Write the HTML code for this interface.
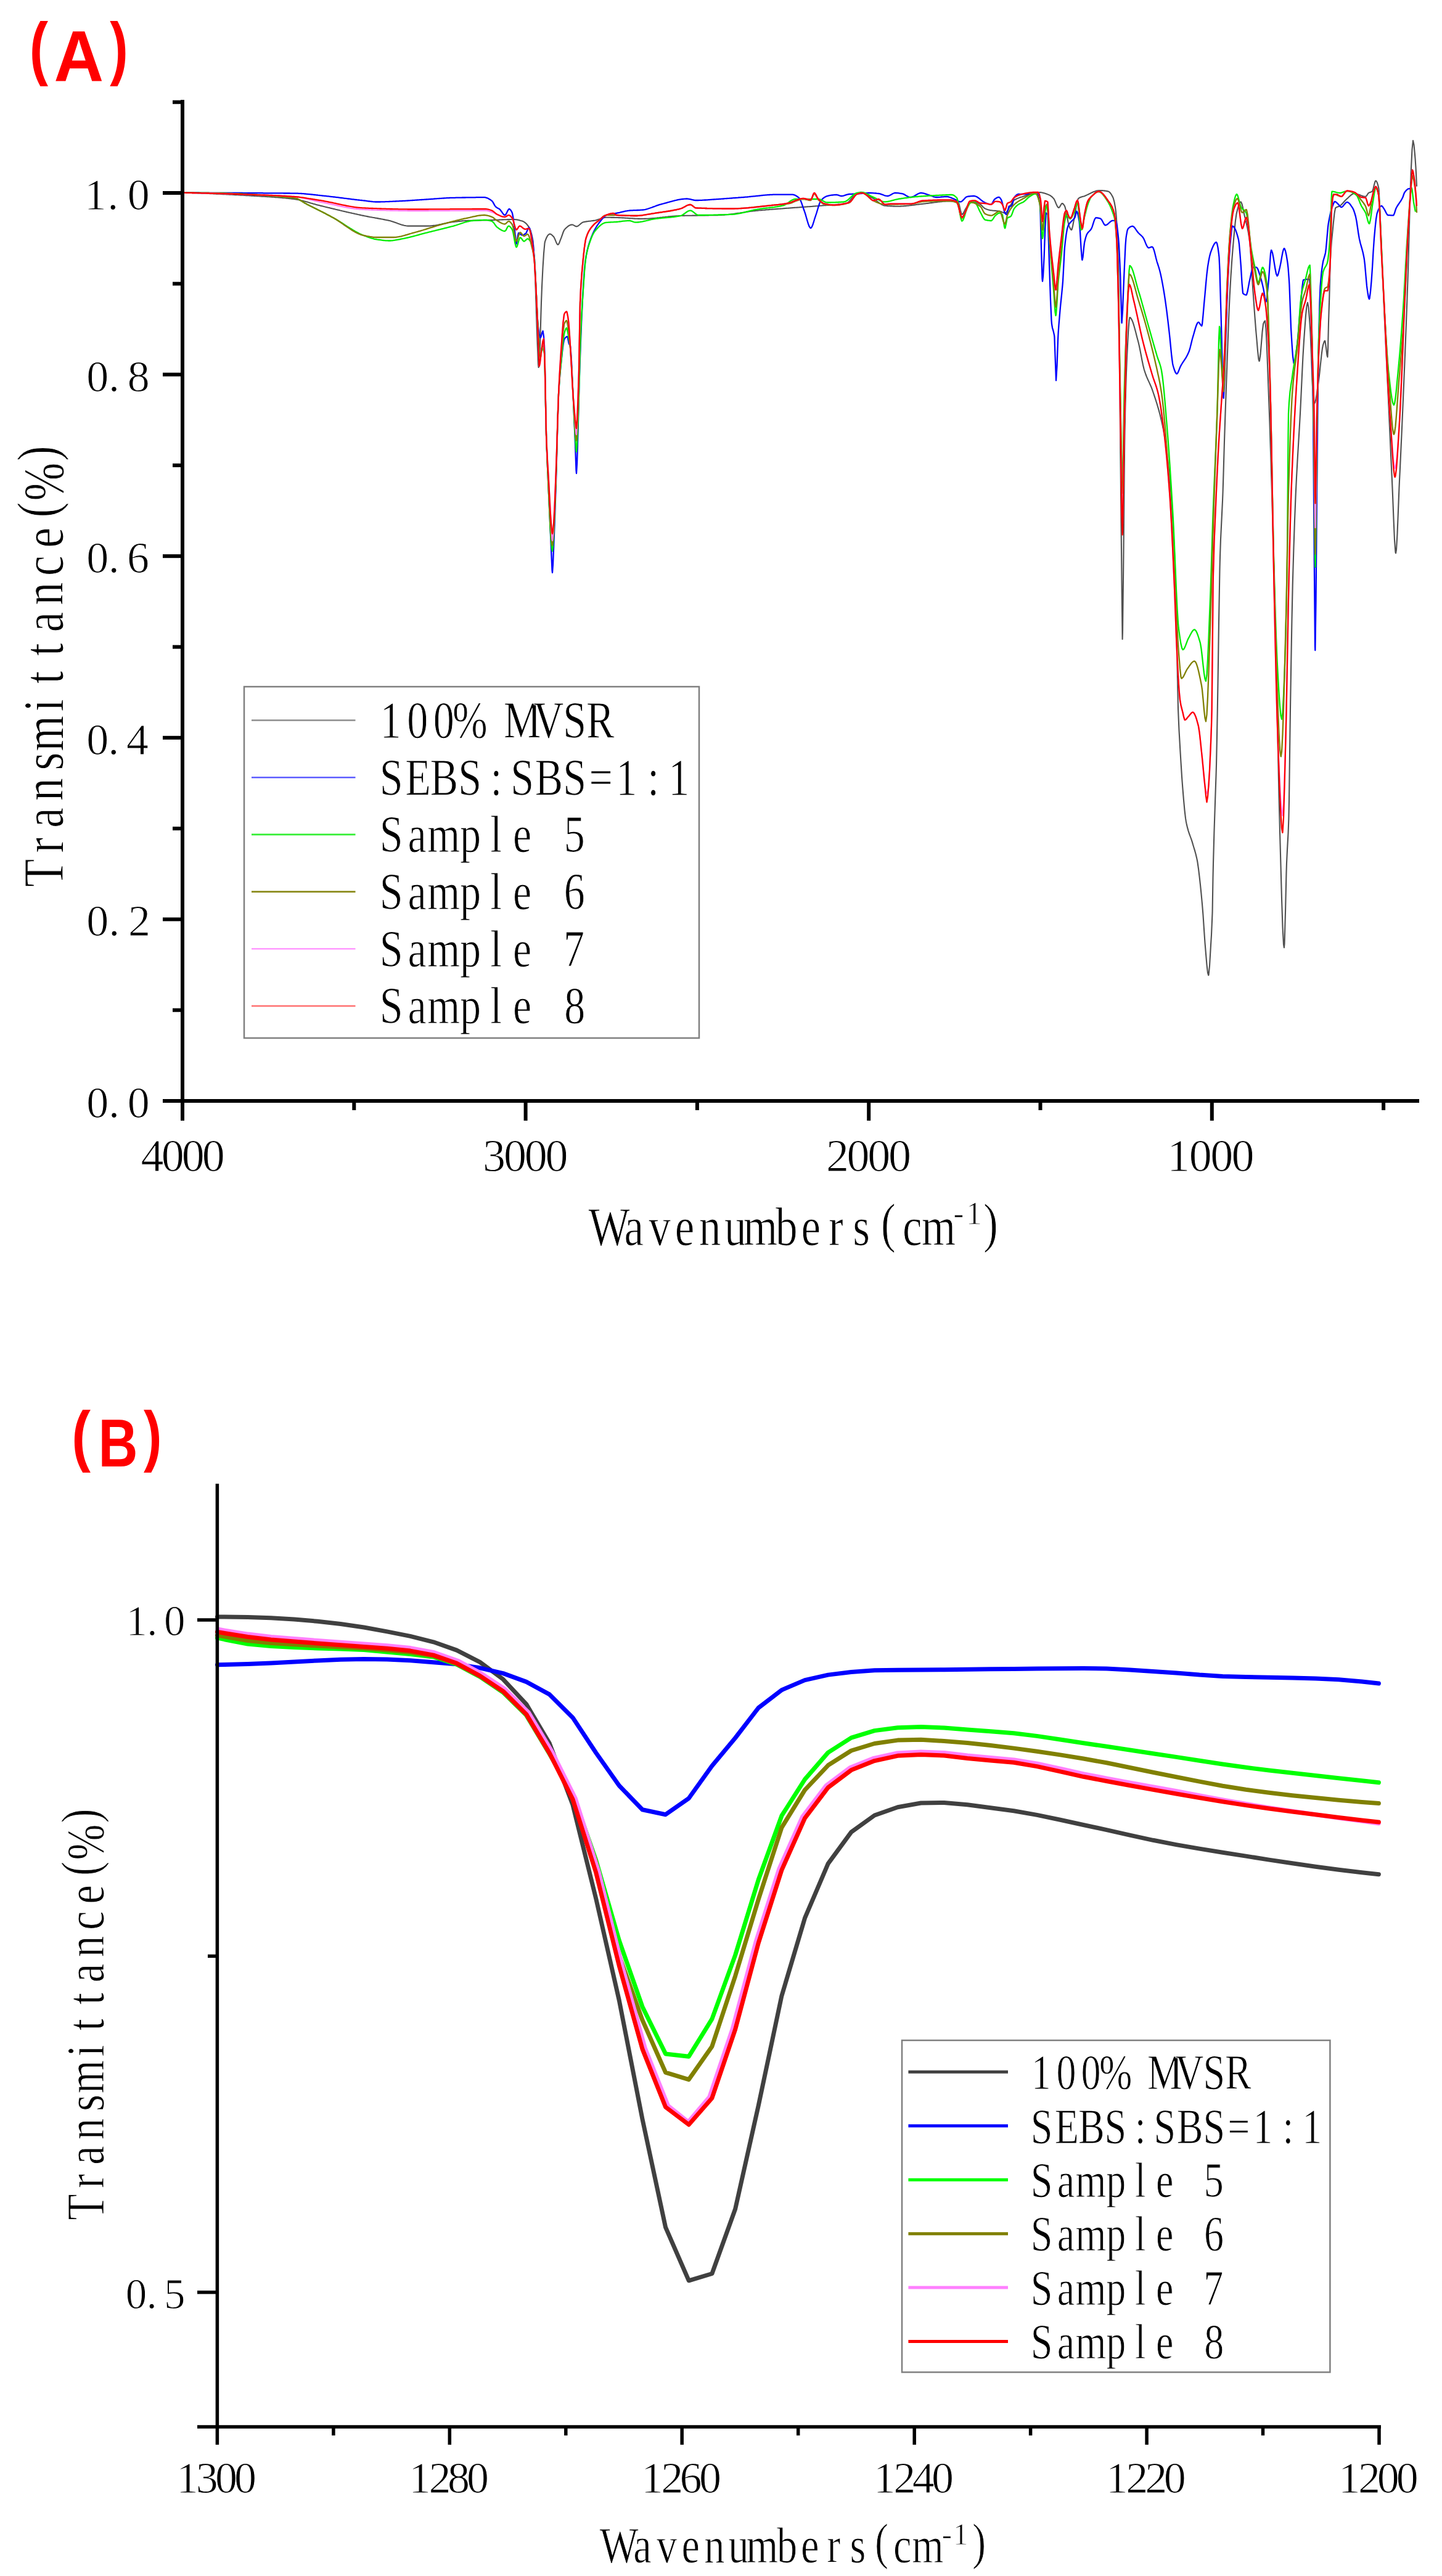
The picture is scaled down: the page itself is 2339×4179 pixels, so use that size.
<!DOCTYPE html>
<html><head><meta charset="utf-8"><title>FTIR spectra</title>
<style>html,body{margin:0;padding:0;background:#fff;}svg{display:block;}.t{font-family:"Liberation Serif", "Noto Serif CJK SC", serif;fill:#000;stroke:#fff;stroke-width:1.0px;paint-order:fill stroke;}.lbl{font-family:"Liberation Sans", "Noto Sans CJK SC", sans-serif;font-weight:bold;fill:#ff0000;}</style></head><body>
<svg xmlns="http://www.w3.org/2000/svg" width="2339" height="4179" viewBox="0 0 2339 4179">
<rect x="0" y="0" width="2339" height="4179" fill="#ffffff"/>
<g id="plotA">
<text class="lbl" font-size="114"><tspan x="47.7" y="115.8" textLength="30.3" lengthAdjust="spacingAndGlyphs">(</tspan><tspan x="87.5" y="131.6" font-size="117" textLength="80.6" lengthAdjust="spacingAndGlyphs">A</tspan><tspan x="178.3" y="115.8" textLength="29.5" lengthAdjust="spacingAndGlyphs">)</tspan></text>
<polyline fill="none" stroke="#505050" stroke-width="2.1" stroke-linejoin="round" points="297.0,312.7 298.5,312.7 300.0,312.8 301.5,312.8 303.0,312.8 304.5,312.9 306.0,312.9 307.5,313.0 309.0,313.0 310.5,313.0 312.0,313.1 313.5,313.1 315.0,313.2 316.5,313.2 318.0,313.3 319.5,313.3 321.0,313.4 322.5,313.4 324.0,313.5 325.5,313.5 327.0,313.6 328.5,313.6 330.0,313.7 331.5,313.7 333.0,313.8 334.5,313.9 336.0,313.9 337.5,314.0 339.0,314.0 340.5,314.1 342.0,314.2 343.5,314.2 345.0,314.3 346.5,314.4 348.0,314.4 349.5,314.5 351.0,314.6 352.5,314.6 354.0,314.7 355.5,314.8 357.0,314.8 358.5,314.9 360.0,315.0 361.5,315.1 363.0,315.1 364.5,315.2 366.0,315.3 367.5,315.4 369.0,315.4 370.5,315.5 372.0,315.6 373.5,315.7 375.0,315.7 376.5,315.8 378.0,315.9 379.5,316.0 381.0,316.1 382.5,316.1 384.0,316.2 385.5,316.3 387.0,316.4 388.5,316.5 390.0,316.6 391.5,316.6 393.0,316.7 394.5,316.8 396.0,316.9 397.5,317.0 399.0,317.1 400.5,317.1 402.0,317.2 403.5,317.3 405.0,317.4 406.5,317.5 408.0,317.6 409.5,317.7 411.0,317.8 412.5,317.9 414.0,317.9 415.0,318.0 415.5,318.0 417.0,318.1 418.5,318.2 420.0,318.3 421.5,318.4 423.0,318.5 424.5,318.6 426.0,318.7 427.5,318.7 429.0,318.8 430.5,318.9 432.0,319.0 433.5,319.1 435.0,319.2 436.5,319.3 438.0,319.4 439.5,319.5 441.0,319.6 442.5,319.7 444.0,319.8 445.5,319.9 447.0,320.1 448.5,320.2 450.0,320.3 451.5,320.4 453.0,320.5 454.5,320.7 456.0,320.8 457.5,320.9 459.0,321.1 460.5,321.2 462.0,321.3 463.5,321.5 465.0,321.6 466.5,321.8 468.0,322.0 469.5,322.1 471.0,322.3 472.5,322.5 474.0,322.6 475.5,322.8 477.0,323.0 478.5,323.2 480.0,323.4 481.5,323.7 483.0,324.0 484.5,324.3 486.0,324.6 487.5,324.9 489.0,325.3 490.5,325.6 492.0,326.0 493.5,326.4 495.0,326.8 496.5,327.2 498.0,327.6 499.5,328.1 501.0,328.5 502.5,328.9 504.0,329.4 505.5,329.8 507.0,330.2 508.5,330.7 510.0,331.1 511.5,331.5 513.0,331.9 514.5,332.4 516.0,332.7 517.5,333.1 519.0,333.5 520.5,333.9 522.0,334.2 523.5,334.6 525.0,335.0 526.5,335.3 528.0,335.7 529.5,336.0 531.0,336.4 532.5,336.8 534.0,337.1 535.5,337.5 537.0,337.9 538.5,338.2 540.0,338.6 541.5,338.9 543.0,339.3 544.5,339.7 546.0,340.0 547.5,340.4 549.0,340.7 550.5,341.1 552.0,341.5 553.5,341.8 555.0,342.2 556.5,342.5 558.0,342.9 559.5,343.2 561.0,343.6 562.5,343.9 564.0,344.3 565.5,344.6 567.0,345.0 568.5,345.3 570.0,345.6 571.5,346.0 573.0,346.3 574.5,346.6 576.0,347.0 577.5,347.3 579.0,347.6 580.5,348.0 582.0,348.3 583.5,348.6 585.0,348.9 586.5,349.3 588.0,349.6 589.5,349.9 590.0,350.0 591.0,350.2 592.5,350.5 594.0,350.8 595.5,351.1 597.0,351.4 598.5,351.7 600.0,352.0 601.5,352.2 603.0,352.5 604.5,352.8 606.0,353.0 607.5,353.3 609.0,353.6 610.5,353.8 612.0,354.1 613.5,354.4 615.0,354.7 616.5,354.9 618.0,355.2 619.5,355.5 621.0,355.8 622.5,356.1 624.0,356.4 625.5,356.7 627.0,357.0 628.5,357.3 630.0,357.6 631.5,358.0 631.6,358.0 633.0,358.3 634.5,358.8 636.0,359.2 637.5,359.7 639.0,360.2 640.5,360.7 642.0,361.3 643.5,361.8 645.0,362.4 646.5,362.9 648.0,363.5 649.5,364.0 651.0,364.5 652.5,364.9 654.0,365.3 655.5,365.7 657.0,366.0 658.5,366.3 660.0,366.5 661.5,366.6 662.8,366.6 663.0,366.6 664.5,366.6 666.0,366.6 667.5,366.6 669.0,366.6 670.5,366.6 672.0,366.6 673.5,366.6 675.0,366.6 676.5,366.6 678.0,366.6 679.5,366.6 681.0,366.6 682.5,366.6 684.0,366.6 685.5,366.6 687.0,366.6 688.5,366.6 690.0,366.6 691.5,366.6 693.0,366.6 694.0,366.6 694.5,366.6 696.0,366.6 697.5,366.5 699.0,366.4 700.5,366.3 702.0,366.1 703.5,365.9 705.0,365.7 706.5,365.5 708.0,365.2 709.5,365.0 711.0,364.7 712.5,364.4 714.0,364.1 715.5,363.8 717.0,363.4 718.5,363.1 720.0,362.8 721.5,362.5 723.0,362.2 724.5,361.9 726.0,361.6 727.5,361.3 729.0,361.0 730.5,360.7 732.0,360.5 733.5,360.3 735.0,360.1 735.6,360.0 736.5,359.9 738.0,359.7 739.5,359.5 741.0,359.4 742.5,359.2 744.0,359.0 745.5,358.9 747.0,358.7 748.5,358.6 750.0,358.4 751.5,358.3 753.0,358.2 754.5,358.1 756.0,358.0 756.4,358.0 757.5,358.0 759.0,357.9 760.5,357.8 762.0,357.8 763.5,357.7 765.0,357.7 766.5,357.7 768.0,357.6 769.5,357.6 771.0,357.6 772.5,357.5 774.0,357.5 775.5,357.5 777.0,357.4 778.5,357.4 780.0,357.4 781.5,357.3 783.0,357.3 784.5,357.3 786.0,357.3 787.5,357.2 789.0,357.2 790.5,357.2 792.0,357.1 793.5,357.1 795.0,357.1 796.5,357.0 798.0,357.0 799.5,357.0 801.0,356.9 802.5,356.9 804.0,356.8 805.5,356.8 807.0,356.7 808.5,356.7 810.0,356.6 811.5,356.5 813.0,356.5 814.5,356.4 816.0,356.4 817.5,356.3 819.0,356.3 820.5,356.2 822.0,356.2 823.5,356.1 825.0,356.1 826.5,356.1 828.0,356.0 829.5,356.0 831.0,356.0 832.5,356.0 833.4,356.0 834.0,356.0 835.5,356.1 837.0,356.2 838.5,356.4 840.0,356.7 841.5,357.0 843.0,357.4 844.5,357.9 846.0,358.3 847.5,358.8 848.0,359.0 849.0,359.4 850.5,360.3 852.0,361.4 853.5,362.8 855.0,364.4 856.5,366.4 858.0,368.6 859.5,371.4 861.0,375.3 862.5,380.7 864.0,388.0 864.6,391.5 865.5,400.8 867.0,428.1 868.0,450.0 868.5,462.6 870.0,510.5 871.0,540.0 871.5,553.6 873.0,591.1 873.6,596.0 874.5,589.1 876.0,560.0 877.5,507.5 878.0,491.0 879.0,465.3 880.5,434.6 880.6,433.0 882.0,411.2 883.5,394.5 884.0,392.0 885.0,389.1 886.5,385.5 888.0,382.7 889.5,380.8 891.0,379.8 892.0,379.6 892.5,379.6 894.0,380.3 895.5,381.5 897.0,383.0 898.0,384.0 898.5,384.6 900.0,387.6 901.5,391.4 903.0,394.8 904.5,396.8 905.0,397.0 906.0,396.3 907.5,393.2 909.0,389.1 910.0,386.6 910.5,385.4 912.0,381.2 913.5,376.8 915.0,373.5 915.6,372.6 916.5,371.6 918.0,370.1 919.5,368.7 921.0,367.4 922.5,366.3 924.0,365.5 925.5,364.9 927.0,364.6 928.0,364.5 928.5,364.5 930.0,365.1 931.5,365.9 933.0,366.8 934.5,367.4 935.0,367.4 936.0,367.3 937.5,366.6 939.0,365.5 940.5,364.3 942.0,362.9 943.5,361.7 945.0,360.8 946.0,360.4 946.5,360.3 948.0,359.9 949.5,359.7 951.0,359.4 952.5,359.2 954.0,359.0 955.5,358.8 957.0,358.7 958.5,358.5 960.0,358.3 961.5,358.1 963.0,357.9 964.5,357.7 965.6,357.5 966.0,357.4 967.5,357.1 969.0,356.6 970.5,356.1 972.0,355.6 973.5,355.0 975.0,354.5 976.5,354.0 978.0,353.5 979.5,353.2 981.0,352.9 982.5,352.8 983.0,352.8 984.0,352.8 985.5,352.8 987.0,352.8 988.5,352.8 990.0,352.8 991.5,352.9 993.0,352.9 994.5,352.9 996.0,352.9 997.5,353.0 999.0,353.0 1000.0,353.0 1000.5,353.0 1002.0,353.0 1003.5,353.1 1005.0,353.1 1006.5,353.2 1008.0,353.3 1009.5,353.4 1011.0,353.4 1012.5,353.5 1014.0,353.6 1015.5,353.7 1017.0,353.8 1018.5,353.9 1020.0,354.0 1021.5,354.1 1023.0,354.2 1024.5,354.3 1026.0,354.4 1027.5,354.5 1029.0,354.6 1030.5,354.7 1032.0,354.8 1033.5,354.8 1035.0,354.9 1036.5,354.9 1038.0,355.0 1039.5,355.0 1041.0,355.0 1041.6,355.0 1042.5,355.0 1044.0,355.0 1045.5,354.9 1047.0,354.9 1048.5,354.8 1050.0,354.8 1051.5,354.7 1053.0,354.6 1054.5,354.5 1056.0,354.4 1057.5,354.3 1059.0,354.1 1060.5,354.0 1062.0,353.9 1063.5,353.7 1065.0,353.6 1066.5,353.4 1068.0,353.2 1069.5,353.1 1071.0,352.9 1072.5,352.7 1074.0,352.6 1075.5,352.4 1077.0,352.2 1078.5,352.1 1080.0,351.9 1081.5,351.7 1083.0,351.6 1084.5,351.4 1086.0,351.3 1087.5,351.1 1089.0,351.0 1090.5,350.8 1092.0,350.7 1093.5,350.6 1095.0,350.5 1096.5,350.4 1098.0,350.3 1099.5,350.2 1101.0,350.1 1102.5,350.0 1104.0,350.0 1105.5,350.0 1107.0,349.9 1108.5,349.9 1110.0,349.9 1111.5,349.8 1113.0,349.8 1114.5,349.8 1116.0,349.7 1117.5,349.7 1119.0,349.7 1120.5,349.7 1122.0,349.7 1123.5,349.6 1125.0,349.6 1126.5,349.6 1128.0,349.6 1129.5,349.6 1131.0,349.6 1132.5,349.5 1134.0,349.5 1135.5,349.5 1137.0,349.5 1138.5,349.5 1140.0,349.5 1141.5,349.4 1143.0,349.4 1144.5,349.4 1146.0,349.4 1147.5,349.4 1149.0,349.4 1150.5,349.3 1152.0,349.3 1153.5,349.3 1155.0,349.3 1156.5,349.2 1158.0,349.2 1159.5,349.2 1161.0,349.1 1162.5,349.1 1164.0,349.1 1165.5,349.0 1166.4,349.0 1167.0,349.0 1168.5,348.9 1170.0,348.9 1171.5,348.8 1173.0,348.7 1174.5,348.6 1176.0,348.5 1177.5,348.3 1179.0,348.2 1180.5,348.0 1182.0,347.9 1183.5,347.7 1185.0,347.5 1186.5,347.3 1188.0,347.2 1189.5,347.0 1191.0,346.8 1192.5,346.5 1194.0,346.3 1195.5,346.1 1197.0,345.9 1198.5,345.7 1200.0,345.5 1201.5,345.2 1203.0,345.0 1204.5,344.8 1206.0,344.6 1207.5,344.3 1209.0,344.1 1210.5,343.9 1212.0,343.7 1213.5,343.5 1215.0,343.2 1216.5,343.0 1218.0,342.8 1219.5,342.6 1221.0,342.5 1222.5,342.3 1224.0,342.1 1225.5,341.9 1227.0,341.8 1228.5,341.6 1228.8,341.6 1230.0,341.5 1231.5,341.3 1233.0,341.2 1234.5,341.1 1236.0,340.9 1237.5,340.8 1239.0,340.7 1240.5,340.6 1242.0,340.4 1243.5,340.3 1245.0,340.2 1246.5,340.1 1248.0,339.9 1249.5,339.8 1251.0,339.7 1252.5,339.6 1254.0,339.5 1255.5,339.4 1257.0,339.2 1258.5,339.1 1260.0,339.0 1261.5,338.9 1263.0,338.8 1264.5,338.7 1266.0,338.6 1267.5,338.5 1269.0,338.4 1270.5,338.2 1272.0,338.1 1273.5,338.0 1275.0,337.9 1276.5,337.8 1278.0,337.7 1279.5,337.6 1281.0,337.5 1282.5,337.4 1284.0,337.3 1285.5,337.1 1287.0,337.0 1288.5,336.9 1290.0,336.8 1291.5,336.7 1293.0,336.6 1294.5,336.5 1296.0,336.4 1297.5,336.2 1299.0,336.1 1300.5,336.0 1302.0,335.9 1303.5,335.8 1305.0,335.7 1306.5,335.6 1308.0,335.5 1309.5,335.4 1311.0,335.3 1312.5,335.2 1314.0,335.1 1315.5,335.0 1317.0,334.9 1318.5,334.7 1320.0,334.6 1321.5,334.5 1323.0,334.4 1324.5,334.3 1326.0,334.2 1327.5,334.0 1329.0,333.9 1330.5,333.8 1331.6,333.7 1332.0,333.7 1333.5,333.5 1335.0,333.4 1336.5,333.3 1338.0,333.2 1339.5,333.1 1341.0,333.0 1342.5,332.9 1344.0,332.8 1345.5,332.7 1347.0,332.6 1348.5,332.5 1350.0,332.4 1351.5,332.3 1353.0,332.2 1354.5,332.0 1356.0,331.9 1357.5,331.8 1359.0,331.6 1360.5,331.4 1362.0,331.3 1363.5,331.1 1365.0,330.9 1366.5,330.7 1368.0,330.4 1369.5,330.2 1371.0,329.9 1372.5,329.6 1373.0,329.5 1374.0,329.2 1375.5,328.3 1377.0,327.0 1378.5,325.4 1380.0,323.6 1381.5,321.7 1383.0,319.9 1384.5,318.1 1386.0,316.5 1387.5,315.2 1389.0,314.3 1390.0,314.0 1390.5,313.9 1392.0,313.6 1393.5,313.4 1395.0,313.2 1396.5,313.0 1398.0,313.0 1399.5,313.1 1401.0,313.4 1402.5,313.9 1404.0,314.6 1405.5,315.4 1407.0,316.2 1408.5,317.2 1410.0,318.1 1411.5,319.1 1413.0,320.0 1414.5,320.8 1414.8,321.0 1416.0,321.7 1417.5,322.6 1419.0,323.7 1420.5,324.8 1422.0,326.0 1423.5,327.2 1425.0,328.4 1426.5,329.5 1428.0,330.5 1429.5,331.5 1431.0,332.3 1432.5,332.9 1434.0,333.4 1435.5,333.7 1435.6,333.7 1437.0,333.8 1438.5,333.9 1440.0,334.1 1441.5,334.2 1443.0,334.3 1444.5,334.4 1446.0,334.4 1447.5,334.5 1449.0,334.6 1450.5,334.6 1452.0,334.7 1453.5,334.7 1455.0,334.7 1456.4,334.7 1456.5,334.7 1458.0,334.7 1459.5,334.7 1461.0,334.6 1462.5,334.5 1464.0,334.5 1465.5,334.4 1467.0,334.2 1468.5,334.1 1470.0,334.0 1471.5,333.8 1473.0,333.7 1474.5,333.5 1476.0,333.3 1477.5,333.1 1479.0,332.9 1480.5,332.8 1482.0,332.6 1483.5,332.4 1485.0,332.2 1486.5,332.0 1488.0,331.8 1489.5,331.6 1491.0,331.4 1492.5,331.2 1494.0,331.0 1495.5,330.9 1497.0,330.7 1498.0,330.6 1498.5,330.5 1500.0,330.4 1501.5,330.2 1503.0,330.0 1504.5,329.9 1506.0,329.7 1507.5,329.5 1509.0,329.3 1510.5,329.1 1512.0,328.9 1513.5,328.7 1515.0,328.5 1516.5,328.3 1518.0,328.1 1519.5,327.9 1521.0,327.7 1522.5,327.5 1524.0,327.4 1525.5,327.2 1527.0,327.1 1528.5,326.9 1530.0,326.8 1531.5,326.7 1533.0,326.6 1534.5,326.5 1536.0,326.5 1537.5,326.4 1539.0,326.4 1539.6,326.4 1540.5,326.4 1542.0,326.4 1543.5,326.5 1545.0,326.5 1546.5,326.6 1548.0,326.7 1549.5,326.8 1551.0,327.0 1552.5,327.2 1554.0,327.4 1555.5,330.4 1557.0,336.9 1558.5,343.7 1560.0,347.8 1560.4,348.0 1561.5,347.4 1563.0,345.2 1564.5,342.2 1566.0,339.2 1566.7,338.0 1567.5,336.7 1569.0,334.0 1570.5,331.3 1572.0,328.8 1573.5,327.1 1575.0,326.4 1576.5,326.5 1578.0,326.7 1579.5,327.0 1581.0,327.5 1582.5,328.0 1584.0,328.7 1585.5,329.3 1587.0,330.1 1588.5,330.8 1590.0,331.6 1591.5,332.6 1593.0,334.1 1594.5,335.7 1596.0,337.1 1597.5,338.2 1598.0,338.5 1599.0,338.9 1600.5,339.5 1602.0,340.0 1603.5,340.4 1605.0,340.8 1606.5,341.1 1607.7,341.3 1608.0,341.3 1609.5,341.5 1611.0,341.7 1612.5,341.8 1614.0,341.9 1615.5,342.0 1617.0,342.2 1618.5,342.3 1620.0,342.5 1621.5,342.7 1621.6,342.7 1623.0,343.1 1624.5,343.7 1626.0,344.4 1627.5,345.0 1629.0,345.4 1630.0,345.5 1630.5,345.4 1632.0,344.6 1633.5,343.0 1635.0,340.8 1636.5,338.2 1638.0,335.3 1639.5,332.4 1641.0,329.7 1642.5,327.3 1644.0,325.5 1645.0,324.7 1645.5,324.4 1647.0,323.5 1648.5,322.8 1650.0,322.1 1651.5,321.4 1653.0,320.9 1654.5,320.3 1656.0,319.8 1657.5,319.4 1659.0,318.9 1660.5,318.5 1662.0,318.0 1663.0,317.7 1663.5,317.5 1665.0,317.1 1666.5,316.6 1668.0,316.0 1669.5,315.5 1671.0,315.0 1672.5,314.5 1674.0,314.0 1675.5,313.6 1677.0,313.2 1678.5,312.8 1680.0,312.5 1681.5,312.3 1683.0,312.1 1684.5,312.0 1685.4,312.0 1686.0,312.0 1687.5,312.1 1689.0,312.3 1690.5,312.5 1692.0,312.9 1693.5,313.3 1695.0,313.7 1696.5,314.2 1698.0,314.8 1699.5,315.4 1701.0,316.0 1702.0,316.4 1702.5,316.6 1704.0,317.5 1705.5,318.6 1707.0,319.9 1708.5,321.5 1709.0,322.0 1710.0,323.4 1711.5,326.6 1713.0,330.3 1714.5,333.7 1716.0,336.2 1717.3,337.0 1717.5,337.0 1719.0,335.5 1720.5,332.8 1722.0,330.5 1722.9,330.0 1723.5,330.1 1725.0,331.4 1726.5,333.5 1727.0,334.4 1728.0,337.4 1729.5,344.1 1729.8,345.5 1731.0,351.7 1732.5,360.2 1734.0,366.3 1735.5,369.9 1737.0,372.4 1738.0,373.0 1738.5,372.5 1740.0,367.0 1741.5,359.0 1742.0,356.6 1743.0,351.6 1744.5,342.7 1746.0,333.7 1747.5,326.3 1749.0,322.2 1749.2,322.0 1750.5,321.1 1752.0,320.3 1753.5,319.7 1755.0,319.2 1756.5,318.8 1758.0,318.4 1759.5,317.9 1760.0,317.7 1761.0,317.3 1762.5,316.6 1764.0,315.9 1765.5,315.2 1767.0,314.4 1768.5,313.7 1770.0,312.9 1771.5,312.2 1773.0,311.5 1774.5,310.9 1776.0,310.4 1777.5,309.9 1779.0,309.6 1780.0,309.4 1780.5,309.3 1782.0,309.1 1783.5,309.0 1783.7,309.0 1785.0,309.0 1786.5,309.1 1788.0,309.1 1789.5,309.3 1791.0,309.4 1792.5,309.6 1794.0,309.8 1795.5,310.1 1797.0,310.4 1797.5,310.5 1798.5,310.9 1800.0,312.0 1801.5,313.7 1803.0,316.0 1804.5,318.7 1805.0,319.7 1806.0,322.2 1807.5,327.8 1809.0,336.1 1809.7,341.0 1810.5,348.6 1812.0,372.1 1813.5,409.7 1814.2,432.6 1815.0,484.4 1816.5,647.8 1817.0,700.0 1818.0,797.0 1819.5,940.0 1820.6,1037.0 1821.0,1024.2 1822.0,940.0 1822.5,893.8 1824.0,735.2 1824.5,700.0 1825.5,654.0 1827.0,603.7 1828.0,580.0 1828.5,569.6 1830.0,540.1 1831.5,519.6 1832.5,515.0 1833.0,515.1 1834.5,516.4 1836.0,519.0 1837.5,522.7 1839.0,527.2 1840.5,532.5 1842.0,538.1 1843.5,544.0 1845.0,549.8 1846.3,554.6 1846.5,555.3 1848.0,561.7 1849.5,569.0 1851.0,576.9 1852.5,584.7 1854.0,592.0 1855.5,598.2 1856.0,600.0 1857.0,603.2 1858.5,607.5 1860.0,611.3 1861.5,614.8 1863.0,618.1 1864.5,621.4 1866.0,624.7 1867.5,628.2 1869.0,632.1 1870.0,635.0 1870.5,636.5 1872.0,640.9 1873.5,645.4 1875.0,650.0 1876.5,654.8 1878.0,659.7 1879.5,664.9 1881.0,670.5 1882.5,676.4 1884.0,682.7 1885.5,689.5 1887.0,696.8 1888.5,704.8 1890.0,713.7 1891.5,724.0 1893.0,735.7 1894.5,748.8 1896.0,763.4 1897.5,779.4 1899.0,797.0 1900.0,809.5 1900.5,816.1 1902.0,838.2 1903.5,864.5 1905.0,896.3 1906.5,934.6 1907.0,949.0 1908.0,991.8 1909.5,1080.3 1911.0,1150.0 1912.5,1185.0 1914.0,1211.3 1914.7,1223.0 1915.5,1236.5 1917.0,1260.1 1918.3,1277.7 1918.5,1280.1 1920.0,1298.1 1921.5,1314.4 1923.0,1327.4 1923.8,1332.4 1924.5,1335.9 1926.0,1342.4 1927.5,1347.8 1929.0,1352.3 1930.5,1356.5 1932.0,1360.5 1933.5,1364.9 1934.7,1368.9 1935.0,1370.0 1936.5,1375.0 1938.0,1379.9 1939.5,1385.2 1941.0,1391.4 1942.0,1396.2 1942.5,1399.0 1944.0,1409.5 1945.5,1421.9 1945.7,1423.6 1947.0,1435.3 1948.5,1450.1 1950.0,1466.5 1951.0,1478.3 1951.5,1484.8 1953.0,1507.6 1954.5,1529.4 1954.8,1533.0 1956.0,1547.4 1957.5,1565.2 1959.0,1578.3 1960.2,1582.2 1960.5,1581.7 1962.0,1566.8 1963.5,1541.5 1964.0,1533.0 1965.0,1516.8 1966.5,1481.6 1966.6,1478.3 1967.5,1423.6 1968.0,1401.2 1969.4,1350.6 1969.5,1347.3 1971.0,1302.0 1971.2,1296.0 1972.5,1258.4 1973.0,1241.2 1974.0,1193.8 1974.8,1150.0 1975.5,1108.7 1977.0,1008.8 1978.5,922.4 1979.0,902.7 1980.0,874.5 1981.5,843.6 1983.0,812.8 1983.5,800.0 1984.5,768.0 1986.0,716.0 1987.5,670.5 1989.0,627.6 1990.0,600.0 1990.5,586.3 1992.0,544.7 1993.5,506.0 1994.7,480.0 1995.0,474.4 1996.5,448.2 1998.0,425.5 1999.5,405.9 2000.0,400.0 2001.0,388.5 2002.5,372.1 2004.0,357.9 2005.5,347.4 2006.0,345.0 2007.0,340.9 2008.5,335.4 2010.0,330.9 2011.5,328.2 2012.6,327.5 2013.0,327.7 2014.5,331.0 2016.0,337.1 2017.5,344.5 2018.7,350.0 2019.0,351.3 2020.5,357.3 2022.0,363.5 2023.5,370.3 2025.0,378.3 2026.5,388.1 2027.0,391.8 2028.0,401.9 2029.5,423.6 2031.0,448.9 2032.5,472.9 2032.7,475.7 2034.0,494.0 2035.5,514.8 2037.0,534.1 2038.0,545.5 2038.5,551.1 2040.0,569.0 2041.5,582.7 2042.5,586.0 2043.0,585.2 2044.5,574.5 2046.0,556.8 2047.5,538.5 2049.0,526.1 2049.4,524.6 2050.5,522.1 2052.0,520.4 2053.5,533.1 2055.0,564.7 2056.5,605.3 2057.8,640.0 2058.0,645.0 2059.5,686.4 2061.0,732.9 2062.5,782.9 2063.0,800.0 2064.0,835.3 2065.5,891.6 2067.0,951.1 2068.5,1012.8 2070.0,1076.0 2071.5,1145.0 2073.0,1219.1 2074.5,1290.2 2076.0,1350.0 2077.5,1404.2 2079.0,1458.3 2080.5,1503.7 2082.0,1532.1 2082.9,1537.3 2083.5,1531.3 2085.0,1479.7 2086.5,1415.6 2087.0,1400.0 2088.0,1379.0 2089.5,1352.1 2090.4,1328.0 2091.0,1298.7 2092.5,1184.5 2093.0,1150.0 2094.0,1089.3 2095.5,1004.7 2096.7,950.0 2097.0,938.6 2098.5,887.3 2100.0,844.0 2101.5,806.9 2101.8,800.0 2103.0,774.7 2104.5,747.2 2106.0,722.1 2107.5,697.4 2109.0,670.8 2110.5,640.3 2112.0,607.9 2113.5,577.4 2115.0,552.8 2116.5,531.7 2118.0,511.6 2119.5,496.7 2121.0,490.8 2122.5,498.6 2124.0,517.1 2125.4,538.0 2125.5,539.5 2127.0,575.2 2128.5,617.7 2129.8,641.3 2130.0,643.1 2131.5,653.6 2132.0,654.6 2133.0,653.3 2134.5,647.2 2136.0,637.8 2137.5,627.2 2138.7,619.0 2139.0,617.0 2140.5,604.6 2142.0,590.2 2143.5,576.1 2145.0,564.8 2146.0,560.0 2146.5,558.3 2148.0,553.9 2149.0,552.8 2149.5,553.7 2151.0,564.2 2152.5,576.4 2153.4,579.3 2154.0,566.2 2155.0,523.3 2155.5,507.4 2156.4,479.0 2157.0,455.2 2158.0,420.0 2158.5,410.8 2160.0,390.5 2161.5,375.7 2161.6,374.7 2163.0,360.2 2164.5,346.1 2166.0,337.9 2166.3,337.4 2167.5,336.4 2169.0,335.7 2170.5,335.2 2172.0,334.7 2173.3,334.0 2173.5,333.9 2175.0,332.7 2176.5,331.3 2178.0,329.7 2179.5,328.0 2181.0,326.3 2182.5,324.7 2184.0,323.2 2185.0,322.3 2185.5,321.9 2187.0,320.5 2188.5,319.1 2190.0,317.7 2191.5,316.4 2193.0,315.3 2194.5,314.5 2196.0,314.0 2196.6,314.0 2197.5,314.0 2199.0,314.2 2200.5,314.5 2202.0,315.0 2203.5,315.5 2205.0,316.1 2206.5,316.6 2208.0,317.2 2209.5,317.7 2211.0,318.2 2212.5,318.5 2214.0,318.7 2215.2,318.8 2215.5,318.7 2217.0,317.2 2218.5,314.7 2219.9,313.0 2220.0,312.9 2221.5,312.3 2223.0,311.8 2224.5,311.3 2225.7,310.6 2226.0,310.3 2227.5,306.0 2229.0,299.7 2230.5,294.5 2231.5,293.2 2232.0,293.3 2233.5,295.5 2235.0,299.9 2236.2,304.8 2236.5,306.9 2238.0,333.5 2239.5,370.3 2239.7,374.7 2241.0,404.1 2242.5,440.4 2244.0,476.8 2245.0,500.0 2245.5,511.2 2247.0,544.0 2248.5,575.9 2250.0,607.4 2251.5,639.0 2253.0,671.0 2254.5,703.9 2256.0,737.1 2257.5,769.6 2258.0,780.0 2259.0,803.1 2260.5,841.8 2262.0,876.2 2263.5,896.0 2264.0,897.5 2265.0,891.7 2266.5,865.9 2268.0,828.8 2269.5,791.0 2270.0,780.0 2271.0,759.2 2272.5,727.2 2274.0,694.0 2275.0,671.0 2275.5,659.3 2277.0,623.7 2278.5,587.3 2280.0,549.5 2281.5,509.9 2283.0,468.0 2283.7,447.6 2284.5,421.5 2286.0,365.0 2287.5,311.1 2288.6,281.5 2289.0,272.9 2290.5,242.3 2292.0,228.0 2293.5,235.0 2295.0,250.9 2295.6,258.0 2296.5,271.5 2298.0,302.5"/>
<polyline fill="none" stroke="#0000ff" stroke-width="2.3" stroke-linejoin="round" points="297.0,312.7 298.5,312.7 300.0,312.7 301.5,312.7 303.0,312.7 304.5,312.7 306.0,312.7 307.5,312.7 309.0,312.7 310.5,312.7 312.0,312.7 313.5,312.7 315.0,312.7 316.5,312.7 318.0,312.7 319.5,312.7 321.0,312.7 322.5,312.7 324.0,312.8 325.5,312.8 327.0,312.8 328.5,312.8 330.0,312.8 331.5,312.8 333.0,312.8 334.5,312.8 336.0,312.8 337.5,312.8 339.0,312.8 340.5,312.8 342.0,312.8 343.5,312.8 345.0,312.8 346.5,312.8 348.0,312.8 349.5,312.8 351.0,312.8 352.5,312.8 354.0,312.9 355.5,312.9 357.0,312.9 358.5,312.9 360.0,312.9 361.5,312.9 363.0,312.9 364.5,312.9 366.0,312.9 367.5,312.9 369.0,312.9 370.5,312.9 372.0,312.9 373.5,312.9 375.0,313.0 376.5,313.0 378.0,313.0 379.5,313.0 381.0,313.0 382.5,313.0 384.0,313.0 385.5,313.0 387.0,313.0 388.5,313.0 390.0,313.0 391.5,313.0 393.0,313.0 394.5,313.1 396.0,313.1 397.5,313.1 399.0,313.1 400.5,313.1 402.0,313.1 403.5,313.1 405.0,313.1 406.5,313.1 408.0,313.1 409.5,313.1 411.0,313.2 412.5,313.2 414.0,313.2 415.5,313.2 417.0,313.2 418.5,313.2 420.0,313.2 421.5,313.2 423.0,313.2 424.5,313.2 426.0,313.2 427.5,313.3 429.0,313.3 430.5,313.3 432.0,313.3 433.5,313.3 435.0,313.3 435.6,313.3 436.5,313.3 438.0,313.3 439.5,313.3 441.0,313.3 442.5,313.3 444.0,313.3 445.5,313.4 447.0,313.4 448.5,313.4 450.0,313.4 451.5,313.4 453.0,313.4 454.5,313.4 456.0,313.4 457.5,313.4 459.0,313.4 460.5,313.5 462.0,313.5 463.5,313.5 465.0,313.5 466.5,313.5 468.0,313.5 469.5,313.5 471.0,313.6 472.5,313.6 474.0,313.6 475.5,313.6 477.0,313.6 478.5,313.7 480.0,313.7 481.0,313.7 481.5,313.7 483.0,313.7 484.5,313.8 486.0,313.9 487.5,313.9 489.0,314.0 490.5,314.1 492.0,314.2 493.5,314.4 495.0,314.5 496.5,314.6 498.0,314.8 499.5,314.9 501.0,315.1 502.5,315.2 504.0,315.4 505.5,315.5 507.0,315.7 508.5,315.9 510.0,316.0 511.5,316.2 513.0,316.4 514.5,316.5 516.0,316.7 517.5,316.8 519.0,317.0 520.5,317.1 522.0,317.3 523.5,317.5 525.0,317.6 526.5,317.8 528.0,317.9 529.5,318.1 531.0,318.3 532.5,318.4 534.0,318.6 535.5,318.8 537.0,319.0 538.5,319.1 540.0,319.3 541.5,319.5 543.0,319.7 544.5,319.9 546.0,320.1 547.5,320.2 549.0,320.4 550.5,320.6 552.0,320.8 553.5,321.0 555.0,321.2 556.5,321.4 558.0,321.6 559.5,321.8 561.0,321.9 562.5,322.1 564.0,322.3 565.5,322.5 567.0,322.7 568.5,322.9 570.0,323.1 571.5,323.3 573.0,323.4 574.5,323.6 576.0,323.8 577.5,324.0 579.0,324.2 580.5,324.3 582.0,324.5 583.5,324.7 585.0,324.8 586.5,325.0 588.0,325.2 589.5,325.3 590.0,325.4 591.0,325.5 592.5,325.7 594.0,325.9 595.5,326.1 597.0,326.3 598.5,326.5 600.0,326.7 601.5,326.9 603.0,327.0 604.5,327.2 606.0,327.3 607.5,327.4 609.0,327.5 610.5,327.5 610.8,327.5 612.0,327.5 613.5,327.5 615.0,327.5 616.5,327.5 618.0,327.4 619.5,327.4 621.0,327.4 622.5,327.3 624.0,327.3 625.5,327.2 627.0,327.2 628.5,327.1 630.0,327.1 631.5,327.0 633.0,326.9 634.5,326.9 636.0,326.8 637.5,326.7 639.0,326.7 640.5,326.6 642.0,326.5 643.5,326.4 645.0,326.4 646.5,326.3 648.0,326.2 649.5,326.1 651.0,326.1 652.4,326.0 652.5,326.0 654.0,325.9 655.5,325.8 657.0,325.8 658.5,325.7 660.0,325.6 661.5,325.5 663.0,325.4 664.5,325.3 666.0,325.2 667.5,325.1 669.0,325.0 670.5,324.9 672.0,324.8 673.5,324.7 675.0,324.6 676.5,324.5 678.0,324.4 679.5,324.3 681.0,324.2 682.5,324.1 684.0,324.0 685.5,323.9 687.0,323.8 688.5,323.7 690.0,323.6 691.5,323.5 693.0,323.4 694.0,323.3 694.5,323.3 696.0,323.2 697.5,323.1 699.0,323.0 700.5,322.9 702.0,322.8 703.5,322.6 705.0,322.5 706.5,322.4 708.0,322.3 709.5,322.2 711.0,322.1 712.5,322.0 714.0,321.9 715.5,321.8 717.0,321.7 718.5,321.6 720.0,321.5 721.5,321.4 723.0,321.3 724.5,321.2 726.0,321.1 727.5,321.1 729.0,321.0 730.5,320.9 732.0,320.9 733.5,320.9 735.0,320.8 735.6,320.8 736.5,320.8 738.0,320.8 739.5,320.7 741.0,320.7 742.5,320.7 744.0,320.6 745.5,320.6 747.0,320.6 748.5,320.6 750.0,320.5 751.5,320.5 753.0,320.5 754.5,320.5 756.0,320.4 757.5,320.4 759.0,320.4 760.5,320.4 762.0,320.4 763.5,320.3 765.0,320.3 766.5,320.3 768.0,320.3 769.5,320.3 771.0,320.3 772.5,320.2 774.0,320.2 775.5,320.2 777.0,320.2 778.5,320.2 780.0,320.2 781.5,320.2 783.0,320.2 784.5,320.2 785.5,320.2 786.0,320.2 787.5,320.4 789.0,320.8 790.5,321.3 792.0,322.0 793.5,322.9 795.0,323.8 796.5,324.9 798.0,326.0 799.5,327.9 801.0,330.6 802.5,333.4 804.0,335.4 805.5,336.5 807.0,337.4 808.5,338.2 810.0,339.1 810.5,339.5 811.5,340.5 813.0,342.5 814.5,344.7 816.0,346.8 817.5,348.4 819.0,349.0 820.5,347.8 822.0,345.1 823.5,341.9 825.0,339.6 826.0,339.0 826.5,339.1 828.0,340.3 829.5,342.6 831.0,345.8 832.5,353.7 834.0,366.6 835.0,375.0 835.5,379.5 837.0,393.7 837.6,395.7 838.5,392.6 840.0,381.7 841.0,378.0 841.5,378.1 843.0,378.9 844.5,380.2 846.0,381.2 847.0,381.5 847.5,381.5 849.0,381.1 850.5,380.3 852.0,379.3 853.0,378.5 853.5,377.9 855.0,374.6 856.5,370.8 858.0,369.0 859.5,371.4 861.0,377.1 862.0,381.5 862.5,383.8 864.0,392.7 865.5,404.6 867.0,420.0 868.5,447.2 870.0,480.0 871.5,511.2 872.5,526.0 873.0,530.3 874.5,541.4 876.0,547.5 876.5,548.0 877.5,546.4 879.0,540.7 880.5,537.0 880.6,537.0 882.0,546.0 883.0,560.0 883.5,573.8 885.0,655.7 886.0,704.0 886.5,719.3 888.0,756.6 889.5,788.8 890.0,800.0 891.0,823.2 892.5,857.5 894.0,890.0 895.5,924.8 896.0,929.0 897.0,915.1 898.0,890.0 898.5,878.4 900.0,839.2 901.5,795.3 902.0,780.0 903.0,744.3 904.5,684.3 906.0,640.0 907.5,616.7 909.0,599.6 910.0,590.0 910.5,585.3 912.0,571.1 913.5,559.0 915.0,551.2 915.5,550.0 916.5,548.6 918.0,546.9 919.5,546.1 920.0,546.0 921.0,548.6 922.5,556.4 923.0,558.0 924.0,559.4 925.0,561.0 925.5,563.7 927.0,585.6 928.5,618.4 929.5,640.0 930.0,650.3 931.5,684.4 933.0,720.0 934.5,762.7 935.0,768.0 936.0,751.5 937.0,720.0 937.5,702.3 939.0,640.0 940.5,592.9 941.7,560.0 942.0,552.2 943.5,515.0 944.8,488.0 945.0,484.4 946.5,458.4 948.0,436.9 949.0,427.0 949.5,423.3 951.0,413.8 952.5,406.4 954.0,400.4 955.0,397.0 955.5,395.4 957.0,390.9 958.5,386.7 960.0,382.9 961.5,379.3 963.0,376.0 964.5,373.0 966.0,370.3 967.5,367.7 969.0,365.4 970.5,363.3 970.7,363.0 972.0,361.3 973.5,359.3 975.0,357.3 976.5,355.5 978.0,353.8 979.5,352.3 981.0,350.9 982.5,349.7 984.0,348.8 985.5,348.2 986.0,348.0 987.0,347.7 988.5,347.4 990.0,347.2 991.5,346.9 993.0,346.7 994.5,346.6 996.0,346.4 997.5,346.2 999.0,346.0 1000.0,345.8 1000.5,345.7 1002.0,345.4 1003.5,345.1 1005.0,344.8 1006.5,344.4 1008.0,344.0 1009.5,343.7 1011.0,343.3 1012.5,343.0 1014.0,342.6 1015.5,342.3 1017.0,342.1 1018.5,341.8 1020.0,341.7 1020.8,341.6 1021.5,341.5 1023.0,341.4 1024.5,341.4 1026.0,341.3 1027.5,341.2 1029.0,341.2 1030.5,341.1 1032.0,341.1 1033.5,341.0 1035.0,341.0 1036.5,340.9 1038.0,340.8 1039.5,340.7 1041.0,340.6 1041.6,340.6 1042.5,340.5 1044.0,340.3 1045.5,340.1 1047.0,339.8 1048.5,339.4 1050.0,339.0 1051.5,338.5 1053.0,338.0 1054.5,337.5 1056.0,337.0 1057.5,336.5 1059.0,335.9 1060.5,335.3 1062.0,334.8 1063.5,334.2 1065.0,333.6 1066.5,333.1 1068.0,332.6 1069.5,332.1 1071.0,331.7 1072.5,331.3 1072.8,331.2 1074.0,330.9 1075.5,330.5 1077.0,330.1 1078.5,329.7 1080.0,329.3 1081.5,328.9 1083.0,328.4 1084.5,328.0 1086.0,327.6 1087.5,327.2 1089.0,326.8 1090.5,326.4 1092.0,326.0 1093.5,325.6 1095.0,325.2 1096.5,324.9 1098.0,324.5 1099.5,324.2 1101.0,323.9 1102.5,323.6 1104.0,323.4 1105.5,323.2 1107.0,323.0 1108.5,322.8 1110.0,322.7 1111.5,322.6 1113.0,322.5 1114.4,322.5 1114.5,322.5 1116.0,322.6 1117.5,322.8 1119.0,323.1 1120.5,323.4 1122.0,323.8 1123.5,324.2 1125.0,324.5 1126.5,324.8 1128.0,325.0 1129.0,325.0 1129.5,325.0 1131.0,325.0 1132.5,325.0 1134.0,324.9 1135.5,324.9 1137.0,324.8 1138.5,324.8 1140.0,324.7 1141.5,324.6 1143.0,324.5 1144.5,324.5 1146.0,324.4 1147.5,324.3 1149.0,324.2 1150.5,324.1 1152.0,323.9 1153.5,323.8 1155.0,323.7 1156.5,323.6 1158.0,323.5 1159.5,323.4 1161.0,323.3 1162.5,323.2 1164.0,323.1 1165.5,323.0 1166.4,322.9 1167.0,322.9 1168.5,322.8 1170.0,322.7 1171.5,322.6 1173.0,322.5 1174.5,322.4 1176.0,322.2 1177.5,322.1 1179.0,322.0 1180.5,321.9 1182.0,321.8 1183.5,321.7 1185.0,321.6 1186.5,321.5 1188.0,321.4 1189.5,321.2 1191.0,321.1 1192.5,321.0 1194.0,320.9 1195.5,320.8 1197.0,320.7 1198.5,320.5 1200.0,320.4 1201.5,320.3 1203.0,320.2 1204.5,320.1 1206.0,320.0 1207.5,319.8 1208.0,319.8 1209.0,319.7 1210.5,319.6 1212.0,319.5 1213.5,319.3 1215.0,319.2 1216.5,319.0 1218.0,318.9 1219.5,318.7 1221.0,318.6 1222.5,318.4 1224.0,318.3 1225.5,318.1 1227.0,317.9 1228.5,317.8 1230.0,317.6 1231.5,317.5 1233.0,317.3 1234.5,317.1 1236.0,317.0 1237.5,316.9 1239.0,316.7 1240.5,316.6 1242.0,316.4 1243.5,316.3 1245.0,316.2 1246.5,316.1 1248.0,316.0 1249.5,315.9 1251.0,315.8 1252.5,315.8 1254.0,315.7 1255.5,315.7 1257.0,315.6 1258.5,315.6 1260.0,315.6 1261.5,315.6 1263.0,315.6 1264.5,315.6 1266.0,315.6 1267.5,315.6 1269.0,315.6 1270.5,315.6 1272.0,315.6 1273.5,315.6 1275.0,315.6 1276.5,315.6 1278.0,315.6 1279.5,315.6 1281.0,315.6 1282.5,315.6 1284.0,315.6 1285.0,315.6 1285.5,315.6 1287.0,315.8 1288.5,316.3 1290.0,316.9 1291.5,317.7 1293.0,318.7 1294.5,319.8 1296.0,321.0 1297.5,323.0 1299.0,326.2 1300.5,330.2 1302.0,334.6 1303.5,339.0 1304.6,342.0 1305.0,343.1 1306.5,347.7 1308.0,353.0 1309.5,358.3 1311.0,363.2 1312.5,367.1 1314.0,369.5 1315.0,370.0 1315.5,369.9 1317.0,367.9 1318.5,364.2 1320.0,359.5 1321.5,354.5 1323.0,350.0 1324.5,345.5 1326.0,340.5 1327.5,335.4 1329.0,330.8 1330.5,327.1 1331.6,325.4 1332.0,324.9 1333.5,323.3 1335.0,321.9 1336.5,320.7 1338.0,319.7 1339.5,318.9 1341.0,318.3 1342.0,318.0 1342.5,317.9 1344.0,317.5 1345.5,317.2 1347.0,316.9 1348.5,316.7 1350.0,316.5 1351.5,316.3 1353.0,316.1 1354.5,316.1 1356.0,316.0 1356.6,316.0 1357.5,316.1 1359.0,316.4 1360.5,316.9 1362.0,317.4 1363.5,317.8 1365.0,318.0 1366.5,317.9 1368.0,317.6 1369.5,317.2 1371.0,316.7 1372.5,316.2 1374.0,315.7 1375.5,315.3 1377.0,315.0 1377.4,315.0 1378.5,314.9 1380.0,314.9 1381.5,314.8 1383.0,314.7 1384.5,314.7 1386.0,314.7 1387.5,314.6 1389.0,314.5 1390.0,314.5 1390.5,314.5 1392.0,314.4 1393.5,314.3 1395.0,314.1 1396.5,314.0 1398.0,313.9 1399.5,313.7 1401.0,313.6 1402.5,313.4 1404.0,313.3 1405.5,313.2 1407.0,313.1 1408.5,313.0 1410.0,313.0 1410.7,313.0 1411.5,313.0 1413.0,313.0 1414.5,313.1 1416.0,313.2 1417.5,313.3 1419.0,313.4 1420.5,313.5 1422.0,313.7 1423.5,313.8 1425.0,314.0 1426.5,314.2 1428.0,314.6 1429.5,315.1 1431.0,315.7 1432.5,316.2 1434.0,316.8 1435.5,317.3 1437.0,317.7 1438.5,317.9 1439.8,318.0 1440.0,318.0 1441.5,317.7 1443.0,317.1 1444.5,316.3 1446.0,315.4 1447.5,314.5 1449.0,313.8 1450.5,313.2 1452.0,313.0 1453.5,313.0 1455.0,313.1 1456.5,313.2 1458.0,313.4 1459.5,313.6 1461.0,313.8 1462.5,314.0 1462.7,314.0 1464.0,314.3 1465.5,314.9 1467.0,315.6 1468.5,316.5 1470.0,317.4 1471.5,318.2 1473.0,319.0 1474.5,319.6 1476.0,319.9 1477.0,320.0 1477.5,320.0 1479.0,319.7 1480.5,319.2 1482.0,318.5 1483.5,317.7 1485.0,316.8 1486.5,315.9 1488.0,315.0 1489.5,314.2 1491.0,313.6 1492.5,313.2 1494.0,313.0 1495.5,313.1 1497.0,313.3 1498.5,313.7 1500.0,314.1 1501.5,314.6 1503.0,315.1 1504.5,315.6 1506.0,316.0 1507.5,316.5 1509.0,317.0 1510.5,317.6 1512.0,318.2 1513.5,318.8 1515.0,319.3 1516.5,319.7 1518.0,320.0 1519.0,320.0 1519.5,320.0 1521.0,320.0 1522.5,319.9 1524.0,319.8 1525.5,319.7 1527.0,319.5 1528.5,319.4 1530.0,319.3 1531.5,319.1 1533.0,319.1 1534.5,319.0 1535.5,319.0 1536.0,319.0 1537.5,319.2 1539.0,319.5 1540.5,320.0 1542.0,320.5 1543.5,321.1 1545.0,321.8 1546.5,322.4 1548.0,323.0 1549.5,323.7 1551.0,324.5 1552.5,325.4 1554.0,326.2 1555.5,326.9 1557.0,327.3 1558.0,327.4 1558.5,327.4 1560.0,326.7 1561.5,325.4 1563.0,323.9 1564.5,322.2 1566.0,320.6 1567.5,319.5 1568.8,319.0 1569.0,319.0 1570.5,318.7 1572.0,318.5 1573.5,318.4 1575.0,318.2 1576.5,318.1 1578.0,318.0 1579.5,318.0 1580.0,318.0 1581.0,318.1 1582.5,318.5 1584.0,319.1 1585.5,320.0 1587.0,321.0 1588.5,322.2 1590.0,323.4 1591.5,324.6 1593.0,325.8 1594.5,326.9 1596.0,327.8 1597.5,328.6 1598.0,328.8 1599.0,329.2 1600.5,329.8 1602.0,330.4 1603.5,330.9 1605.0,331.3 1606.5,331.5 1607.7,331.6 1608.0,331.5 1609.5,329.9 1611.0,327.0 1612.5,324.2 1613.3,323.3 1614.0,322.8 1615.5,321.7 1617.0,320.7 1618.5,320.1 1620.0,319.8 1620.2,319.8 1621.5,320.4 1623.0,322.4 1624.4,324.7 1624.5,324.9 1626.0,329.8 1627.5,336.8 1629.0,343.1 1630.0,345.5 1630.5,346.2 1632.0,347.8 1632.7,348.0 1633.5,346.8 1635.0,340.5 1636.5,334.9 1637.0,334.4 1638.0,334.4 1639.5,334.4 1641.0,334.4 1642.5,330.5 1644.0,323.4 1645.0,320.5 1645.5,319.8 1647.0,318.0 1648.5,316.6 1650.0,315.5 1651.5,315.0 1652.0,315.0 1653.0,315.0 1654.5,315.0 1656.0,315.0 1657.5,315.0 1659.0,315.0 1660.5,315.0 1662.0,315.0 1663.0,315.0 1663.5,315.0 1665.0,314.9 1666.5,314.8 1668.0,314.6 1669.5,314.4 1671.0,314.2 1672.5,313.9 1674.0,313.8 1675.5,313.6 1677.0,313.6 1678.5,313.6 1680.0,313.6 1681.5,313.6 1682.6,313.6 1683.0,313.8 1684.5,317.8 1686.0,326.0 1686.8,331.6 1687.5,344.5 1689.0,402.2 1690.5,451.9 1691.0,456.4 1692.0,447.9 1693.5,418.7 1693.7,414.8 1695.0,376.8 1696.5,345.5 1698.0,346.2 1699.3,348.0 1699.5,349.2 1701.0,393.4 1702.0,428.7 1702.5,442.8 1704.0,486.7 1705.5,520.0 1706.0,525.8 1707.0,531.8 1708.5,536.8 1710.0,543.5 1710.4,546.6 1711.5,577.0 1713.0,617.3 1714.5,593.8 1716.0,551.8 1716.6,539.6 1717.5,526.8 1719.0,509.1 1720.0,498.0 1720.5,492.6 1722.0,478.3 1723.5,462.7 1724.0,456.4 1725.0,438.2 1726.5,407.6 1727.0,401.0 1728.0,391.7 1729.5,380.1 1731.0,371.5 1732.5,366.2 1732.6,366.0 1734.0,363.5 1735.5,361.7 1737.0,360.1 1738.0,359.0 1738.5,358.4 1740.0,357.0 1741.5,355.5 1743.0,353.6 1743.7,352.4 1744.5,349.6 1746.0,343.2 1746.4,342.7 1747.5,344.3 1749.0,350.3 1750.5,358.7 1750.6,359.3 1752.0,375.9 1753.5,401.9 1755.0,420.3 1755.5,421.8 1756.5,417.3 1758.0,402.0 1759.0,394.0 1759.5,391.6 1761.0,385.5 1762.5,381.1 1763.0,380.0 1764.0,378.3 1765.5,376.5 1767.0,375.0 1768.5,373.5 1770.0,371.5 1771.5,368.1 1773.0,363.4 1774.5,358.6 1776.0,354.9 1777.5,353.2 1777.6,353.2 1779.0,353.3 1780.5,353.5 1782.0,353.8 1783.5,354.2 1785.0,354.7 1785.3,354.8 1786.5,355.8 1788.0,358.3 1789.5,361.2 1791.0,363.9 1792.5,365.3 1792.9,365.4 1794.0,365.2 1795.5,364.5 1797.0,363.4 1798.5,362.0 1800.0,360.6 1801.5,359.3 1803.0,358.4 1804.5,357.8 1805.0,357.8 1806.0,357.8 1807.5,357.8 1809.0,357.8 1809.7,357.8 1810.5,359.1 1812.0,367.0 1813.5,379.9 1814.2,386.8 1815.0,397.5 1816.5,428.2 1817.3,447.8 1818.0,473.1 1819.5,523.7 1819.6,524.0 1821.0,503.6 1822.5,465.1 1822.6,463.0 1824.0,430.8 1825.5,398.4 1826.4,386.8 1827.0,382.4 1828.5,374.1 1829.5,371.5 1830.0,370.9 1831.5,369.4 1833.0,368.3 1834.5,367.5 1836.0,367.1 1837.0,367.0 1837.5,367.1 1839.0,367.9 1840.5,369.5 1842.0,371.6 1843.5,373.8 1845.0,376.0 1846.3,377.6 1846.5,377.8 1848.0,379.3 1849.5,380.6 1851.0,382.0 1852.5,383.5 1854.0,385.3 1855.5,387.9 1857.0,391.3 1858.5,395.1 1860.0,398.5 1861.5,401.0 1863.0,402.0 1864.5,401.8 1866.0,401.2 1867.5,400.7 1869.0,400.5 1870.5,402.1 1872.0,406.3 1873.5,412.0 1875.0,418.3 1876.5,424.0 1876.8,425.0 1878.0,428.7 1879.5,433.3 1881.0,438.5 1881.4,440.0 1882.5,444.6 1884.0,451.6 1885.5,459.4 1887.0,467.8 1887.5,470.7 1888.5,476.7 1890.0,486.6 1891.5,497.3 1892.0,501.0 1893.0,508.8 1894.5,521.2 1896.0,534.2 1896.6,539.3 1897.5,547.6 1899.0,563.1 1900.5,578.0 1902.0,589.4 1902.7,592.7 1903.5,595.5 1905.0,600.3 1906.5,604.0 1908.0,606.2 1908.8,606.5 1909.5,606.2 1911.0,603.8 1912.5,600.1 1914.0,596.2 1915.0,594.0 1915.5,593.1 1917.0,590.5 1918.5,588.1 1920.0,585.8 1921.5,583.6 1923.0,581.3 1924.5,578.8 1926.0,576.0 1927.5,572.8 1928.7,570.0 1929.0,569.2 1930.5,564.1 1932.0,557.9 1933.5,551.7 1934.8,547.0 1935.0,546.4 1936.5,541.2 1938.0,535.9 1939.5,530.9 1941.0,526.6 1942.5,523.7 1944.0,522.6 1945.5,523.8 1947.0,526.3 1948.5,528.3 1949.3,528.7 1950.0,526.5 1951.5,511.4 1953.0,493.6 1954.5,477.6 1956.0,460.6 1957.5,444.9 1959.0,432.6 1960.5,423.5 1962.0,415.9 1963.5,410.3 1963.7,409.7 1965.0,406.1 1966.5,402.2 1968.0,398.8 1969.5,396.0 1971.0,394.0 1972.5,393.0 1972.9,393.0 1974.0,394.6 1975.5,401.5 1977.0,412.7 1977.5,417.3 1978.5,438.2 1980.0,491.7 1980.5,508.8 1981.5,546.7 1983.0,609.7 1984.5,645.4 1984.7,646.0 1986.0,624.8 1987.5,574.9 1988.0,560.0 1989.0,531.4 1990.5,486.8 1992.0,450.0 1993.5,423.2 1995.0,401.4 1996.0,390.0 1996.5,384.8 1998.0,370.5 1999.0,366.7 1999.5,366.8 2001.0,367.7 2002.5,369.7 2004.0,372.7 2005.5,376.6 2007.0,381.4 2008.5,387.0 2009.0,389.0 2010.0,396.0 2011.5,413.7 2013.0,433.7 2014.5,459.0 2016.0,475.7 2017.5,477.1 2019.0,478.0 2020.5,478.4 2021.5,478.5 2022.0,478.1 2023.5,473.2 2025.0,465.1 2026.5,456.9 2027.0,454.7 2028.0,450.3 2029.5,443.0 2031.0,436.8 2032.5,433.7 2032.7,433.7 2034.0,433.7 2035.5,433.7 2037.0,433.7 2038.0,433.7 2038.5,433.9 2040.0,436.0 2041.5,439.9 2043.0,444.6 2044.0,447.7 2044.5,449.2 2046.0,454.5 2047.5,460.5 2049.0,466.9 2049.4,468.7 2050.5,474.9 2052.0,484.5 2053.5,489.6 2053.6,489.6 2055.0,483.6 2056.5,468.7 2057.8,454.7 2058.0,452.6 2059.5,431.3 2061.0,411.0 2062.0,405.8 2062.5,406.1 2064.0,410.3 2065.5,418.0 2067.0,427.4 2068.5,436.6 2070.0,444.0 2071.5,447.6 2071.8,447.7 2073.0,445.8 2074.5,440.1 2076.0,433.7 2077.5,426.6 2079.0,417.9 2080.5,409.8 2082.0,404.2 2083.0,403.0 2083.5,403.3 2085.0,406.9 2086.5,413.8 2088.0,422.8 2088.6,426.8 2089.5,434.7 2091.0,455.1 2091.4,461.7 2092.5,490.3 2094.0,531.6 2095.5,557.0 2097.0,578.0 2098.5,589.1 2098.9,589.7 2100.0,587.5 2101.5,579.2 2103.0,567.5 2104.0,559.5 2104.5,555.2 2106.0,538.9 2107.5,519.6 2109.0,500.8 2110.0,490.0 2110.5,484.9 2112.0,468.5 2113.5,456.2 2114.3,454.0 2115.0,453.8 2116.5,453.6 2118.0,453.3 2119.5,453.2 2121.0,453.1 2122.5,453.0 2124.0,453.0 2125.5,473.7 2127.0,522.2 2128.0,560.0 2128.5,581.1 2130.0,671.0 2131.5,869.5 2133.0,1047.9 2133.3,1055.0 2134.5,975.4 2136.0,800.0 2137.5,656.5 2138.7,567.5 2139.0,552.6 2140.5,490.8 2141.6,464.3 2142.0,458.6 2143.5,442.0 2145.0,430.7 2146.0,425.0 2146.5,422.6 2148.0,417.6 2149.5,412.4 2150.0,410.0 2151.0,402.2 2152.5,385.1 2154.0,368.4 2154.7,363.0 2155.5,358.3 2157.0,350.6 2158.5,344.1 2160.0,338.7 2161.5,334.3 2161.6,334.0 2163.0,330.1 2164.5,327.2 2165.0,327.0 2166.0,327.2 2167.5,328.2 2169.0,329.6 2170.5,331.1 2171.0,331.6 2172.0,332.7 2173.5,334.7 2175.0,336.0 2175.6,336.2 2176.5,336.0 2178.0,334.9 2179.5,333.1 2181.0,331.2 2182.5,329.4 2184.0,328.3 2185.0,328.0 2185.5,328.0 2187.0,328.6 2188.5,329.8 2190.0,331.5 2191.5,333.6 2193.0,335.8 2194.0,337.4 2194.5,338.3 2196.0,341.6 2197.5,346.1 2199.0,351.4 2200.5,359.0 2202.0,369.0 2203.5,379.3 2204.7,386.3 2205.0,387.8 2206.5,394.2 2208.0,399.6 2209.5,404.9 2211.0,410.8 2212.5,418.3 2213.0,421.3 2214.0,429.8 2215.5,447.4 2217.0,463.9 2217.5,467.8 2218.5,474.7 2220.0,483.2 2221.0,485.3 2221.5,484.3 2223.0,472.9 2224.5,456.2 2226.0,434.6 2227.5,408.2 2229.0,386.3 2230.5,370.0 2232.0,355.9 2233.5,346.6 2233.8,345.6 2235.0,342.3 2236.5,338.8 2238.0,336.1 2239.5,334.5 2240.8,334.0 2241.0,334.0 2242.5,335.2 2244.0,337.4 2245.5,339.7 2247.0,342.4 2248.5,345.5 2250.0,348.0 2251.3,349.0 2251.5,349.0 2253.0,349.1 2254.5,349.2 2256.0,349.3 2257.5,349.4 2259.0,349.4 2260.0,349.4 2260.5,349.1 2262.0,345.7 2263.5,340.7 2264.5,338.0 2265.0,337.0 2266.5,334.3 2268.0,332.0 2269.5,329.8 2271.0,327.7 2272.5,325.4 2274.0,322.8 2275.5,319.8 2275.6,319.6 2277.0,315.2 2278.0,312.7 2278.5,312.0 2280.0,310.0 2281.5,308.3 2283.0,307.1 2284.5,306.3 2285.9,306.0 2286.0,306.0 2287.5,306.3 2289.0,307.0"/>
<polyline fill="none" stroke="#00ee00" stroke-width="2.3" stroke-linejoin="round" points="297.0,312.7 298.5,312.7 300.0,312.7 301.5,312.7 303.0,312.7 304.5,312.7 306.0,312.7 307.5,312.7 309.0,312.7 310.5,312.7 312.0,312.7 313.5,312.7 315.0,312.8 316.5,312.8 318.0,312.8 319.5,312.8 321.0,312.8 322.5,312.8 324.0,312.8 325.5,312.8 327.0,312.9 328.5,312.9 330.0,312.9 331.5,312.9 333.0,312.9 334.5,313.0 336.0,313.0 337.5,313.0 339.0,313.0 340.5,313.1 342.0,313.1 343.5,313.1 345.0,313.1 346.5,313.2 348.0,313.2 349.5,313.2 351.0,313.3 352.5,313.3 354.0,313.3 355.5,313.4 357.0,313.4 358.5,313.5 360.0,313.5 361.5,313.5 363.0,313.6 364.5,313.6 366.0,313.7 367.5,313.7 369.0,313.8 370.5,313.8 372.0,313.9 373.5,313.9 375.0,314.0 376.5,314.0 378.0,314.1 379.5,314.1 381.0,314.2 382.5,314.2 384.0,314.3 385.5,314.4 387.0,314.4 388.5,314.5 390.0,314.5 391.5,314.6 393.0,314.7 394.5,314.8 396.0,314.8 397.5,314.9 399.0,315.0 400.5,315.0 402.0,315.1 403.5,315.2 405.0,315.3 406.5,315.4 408.0,315.4 409.5,315.5 411.0,315.6 412.5,315.7 414.0,315.8 415.5,315.9 417.0,316.0 418.5,316.1 420.0,316.2 421.5,316.3 423.0,316.3 424.5,316.4 426.0,316.5 427.5,316.7 429.0,316.8 430.5,316.9 432.0,317.0 433.5,317.1 435.0,317.2 436.5,317.3 438.0,317.4 439.5,317.5 441.0,317.6 442.5,317.8 444.0,317.9 445.5,318.0 447.0,318.1 448.5,318.3 450.0,318.4 451.5,318.5 453.0,318.6 454.5,318.8 456.0,318.9 457.5,319.1 459.0,319.2 460.5,319.3 462.0,319.5 463.5,319.6 465.0,319.8 466.5,319.9 468.0,320.1 469.5,320.2 471.0,320.4 472.5,320.5 474.0,320.7 475.5,320.8 477.0,321.0 478.5,321.2 480.0,321.6 481.5,322.1 483.0,322.8 484.5,323.5 486.0,324.3 487.5,325.2 489.0,326.1 490.5,327.0 492.0,327.9 493.5,328.9 495.0,329.8 496.5,330.6 498.0,331.4 499.5,332.2 501.0,332.9 502.5,333.7 504.0,334.4 505.5,335.2 507.0,335.9 508.5,336.7 510.0,337.4 511.5,338.2 513.0,338.9 514.5,339.7 516.0,340.5 517.5,341.2 519.0,342.0 520.5,342.8 522.0,343.5 523.5,344.3 525.0,345.1 526.5,345.8 528.0,346.6 529.5,347.4 531.0,348.2 532.5,349.0 534.0,349.8 535.5,350.6 537.0,351.4 538.5,352.2 540.0,353.0 541.5,353.8 543.0,354.7 544.5,355.5 546.0,356.4 547.5,357.3 549.0,358.3 550.5,359.2 552.0,360.1 553.5,361.1 555.0,362.0 556.5,363.0 558.0,364.0 559.5,365.0 561.0,365.9 562.5,366.9 564.0,367.9 565.5,368.8 567.0,369.8 568.5,370.7 570.0,371.6 571.5,372.5 573.0,373.4 574.5,374.3 576.0,375.2 577.5,376.0 579.0,376.9 580.5,377.6 582.0,378.4 583.5,379.2 585.0,379.9 586.5,380.5 588.0,381.2 589.5,381.8 590.0,382.0 591.0,382.4 592.5,383.0 594.0,383.5 595.5,384.1 597.0,384.6 598.5,385.2 600.0,385.7 601.5,386.2 603.0,386.6 604.5,387.0 606.0,387.4 607.5,387.8 609.0,388.1 610.5,388.4 610.8,388.4 612.0,388.6 613.5,388.8 615.0,389.0 616.5,389.2 618.0,389.4 619.5,389.6 621.0,389.8 622.5,390.0 624.0,390.1 625.5,390.3 627.0,390.4 628.5,390.4 630.0,390.5 631.5,390.5 631.6,390.5 633.0,390.5 634.5,390.4 636.0,390.3 637.5,390.1 639.0,389.9 640.5,389.7 642.0,389.4 643.5,389.1 645.0,388.9 646.5,388.6 648.0,388.3 649.5,388.0 651.0,387.7 652.4,387.4 652.5,387.4 654.0,387.1 655.5,386.8 657.0,386.5 658.5,386.2 660.0,385.8 661.5,385.5 663.0,385.2 664.5,384.8 666.0,384.4 667.5,384.0 669.0,383.7 670.5,383.3 672.0,382.9 673.5,382.5 675.0,382.1 676.5,381.7 678.0,381.3 679.5,380.9 681.0,380.4 682.5,380.0 684.0,379.6 685.5,379.2 687.0,378.8 688.5,378.4 690.0,378.0 691.5,377.6 693.0,377.3 694.0,377.0 694.5,376.9 696.0,376.5 697.5,376.1 699.0,375.8 700.5,375.4 702.0,375.0 703.5,374.6 705.0,374.3 706.5,373.9 708.0,373.5 709.5,373.2 711.0,372.8 712.5,372.4 714.0,372.1 715.5,371.7 717.0,371.3 718.5,371.0 720.0,370.6 721.5,370.2 723.0,369.8 724.5,369.5 726.0,369.1 727.5,368.7 729.0,368.3 730.5,367.9 732.0,367.5 733.5,367.1 735.0,366.8 735.6,366.6 736.5,366.4 738.0,365.9 739.5,365.5 741.0,365.0 742.5,364.5 744.0,364.0 745.5,363.5 747.0,363.0 748.5,362.5 750.0,362.0 751.5,361.5 753.0,361.0 754.5,360.5 756.0,360.1 757.5,359.7 759.0,359.3 760.5,359.0 762.0,358.7 763.5,358.4 765.0,358.2 766.5,358.0 766.8,358.0 768.0,357.9 769.5,357.8 771.0,357.7 772.5,357.6 774.0,357.5 775.5,357.4 777.0,357.3 778.5,357.2 780.0,357.2 781.5,357.1 783.0,357.1 784.5,357.0 786.0,357.0 787.5,357.0 787.6,357.0 789.0,357.0 790.5,357.2 792.0,357.4 793.5,357.7 795.0,358.1 796.5,358.5 798.0,359.0 799.5,360.0 801.0,361.7 802.5,363.8 804.0,366.0 805.5,367.8 806.4,368.6 807.0,369.0 808.5,370.1 810.0,371.2 811.5,372.2 813.0,373.1 814.5,373.9 816.0,374.5 817.5,374.9 819.0,375.0 820.5,373.7 822.0,370.8 823.5,367.9 825.0,366.6 826.5,367.1 828.0,368.5 829.5,370.4 831.0,372.8 832.5,378.0 834.0,386.5 835.5,395.0 837.0,400.4 837.6,401.0 838.5,400.1 840.0,395.8 841.5,390.2 843.0,386.0 843.8,385.3 844.5,385.5 846.0,387.1 847.5,389.3 849.0,391.1 850.0,391.5 850.5,391.4 852.0,390.4 853.5,388.9 855.0,387.7 856.0,387.4 856.5,387.5 858.0,388.4 859.5,390.2 860.4,391.5 861.0,392.5 862.5,396.4 864.0,402.3 865.5,410.4 866.7,418.6 867.0,421.4 868.5,447.6 870.0,480.0 871.5,511.0 872.5,530.0 873.0,538.9 874.5,566.5 876.0,580.0 877.5,572.5 879.0,565.0 880.5,566.1 882.0,569.5 883.0,573.0 883.5,581.9 885.0,657.0 886.0,704.0 886.5,719.0 888.0,756.8 889.5,789.2 890.0,800.0 891.0,822.9 892.5,856.6 894.0,880.0 895.5,892.7 896.0,894.0 897.0,885.9 898.0,870.0 898.5,861.3 900.0,826.3 901.5,784.3 902.0,770.0 903.0,737.2 904.5,681.8 906.0,640.0 907.5,617.3 909.0,600.4 910.0,590.0 910.5,584.6 912.0,568.0 913.5,552.9 915.0,542.2 915.5,540.0 916.5,536.6 918.0,532.9 919.0,532.0 919.5,532.6 921.0,539.3 922.0,545.0 922.5,547.7 924.0,556.9 925.0,565.0 925.5,570.3 927.0,593.0 928.5,621.1 929.5,640.0 930.0,649.7 931.5,682.2 933.0,710.0 934.5,730.7 935.0,733.0 936.0,721.8 937.0,700.0 937.5,687.6 939.0,640.0 940.5,586.9 942.0,540.0 943.5,509.3 945.0,484.8 946.0,470.0 946.5,462.6 948.0,441.0 949.5,423.9 950.0,420.0 951.0,414.0 952.5,406.8 954.0,401.2 955.0,398.0 955.5,396.4 957.0,392.0 958.5,387.9 960.0,384.1 961.5,380.8 963.0,378.0 964.5,375.6 965.0,375.0 966.0,373.8 967.5,372.0 969.0,370.4 970.5,368.8 972.0,367.3 973.5,365.9 975.0,364.7 976.5,363.6 978.0,362.7 979.5,362.0 981.0,361.4 982.5,361.1 983.0,361.0 984.0,360.9 985.5,360.8 987.0,360.7 988.5,360.6 990.0,360.5 991.5,360.4 993.0,360.4 994.5,360.3 996.0,360.2 997.5,360.2 999.0,360.1 1000.0,360.0 1000.5,360.0 1002.0,359.8 1003.5,359.7 1005.0,359.5 1006.5,359.3 1008.0,359.1 1009.5,358.9 1011.0,358.7 1012.5,358.6 1014.0,358.4 1015.5,358.3 1017.0,358.1 1018.5,358.1 1020.0,358.0 1020.8,358.0 1021.5,358.0 1023.0,358.3 1024.5,358.8 1026.0,359.4 1027.5,360.0 1029.0,360.4 1030.5,360.7 1031.0,360.7 1032.0,360.7 1033.5,360.6 1035.0,360.5 1036.5,360.4 1038.0,360.2 1039.5,359.9 1041.0,359.7 1042.5,359.4 1044.0,359.0 1045.5,358.7 1047.0,358.4 1048.5,358.0 1050.0,357.6 1051.5,357.3 1053.0,356.9 1054.5,356.5 1056.0,356.2 1057.5,355.9 1059.0,355.6 1060.5,355.3 1062.0,355.1 1062.4,355.0 1063.5,354.8 1065.0,354.6 1066.5,354.5 1068.0,354.3 1069.5,354.1 1071.0,354.0 1072.5,353.8 1074.0,353.7 1075.5,353.5 1077.0,353.4 1078.5,353.3 1080.0,353.2 1081.5,353.0 1083.0,352.9 1084.5,352.8 1086.0,352.6 1087.5,352.5 1089.0,352.3 1090.5,352.1 1092.0,352.0 1093.5,351.8 1095.0,351.6 1096.5,351.4 1098.0,351.1 1099.5,350.9 1101.0,350.6 1102.5,350.3 1104.0,350.0 1105.5,349.5 1107.0,348.8 1108.5,347.8 1110.0,346.7 1111.5,345.6 1113.0,344.5 1114.5,343.5 1116.0,342.6 1117.5,342.0 1119.0,341.6 1119.6,341.6 1120.5,341.7 1122.0,342.2 1123.5,343.1 1125.0,344.2 1126.5,345.5 1128.0,346.7 1129.5,347.7 1131.0,348.6 1132.5,349.0 1133.0,349.0 1134.0,349.0 1135.5,349.0 1137.0,349.0 1138.5,349.0 1140.0,349.0 1141.5,349.0 1143.0,349.0 1144.5,348.9 1146.0,348.9 1147.5,348.9 1149.0,348.9 1150.5,348.9 1152.0,348.8 1153.5,348.8 1155.0,348.8 1156.5,348.8 1158.0,348.7 1159.5,348.7 1161.0,348.7 1162.5,348.6 1164.0,348.6 1165.5,348.5 1167.0,348.5 1168.5,348.5 1170.0,348.4 1171.5,348.4 1173.0,348.3 1174.5,348.3 1176.0,348.2 1177.5,348.2 1179.0,348.1 1180.5,348.1 1182.0,348.0 1183.5,347.9 1185.0,347.9 1186.5,347.8 1187.0,347.8 1188.0,347.8 1189.5,347.6 1191.0,347.5 1192.5,347.3 1194.0,347.1 1195.5,346.9 1197.0,346.7 1198.5,346.4 1200.0,346.1 1201.5,345.8 1203.0,345.5 1204.5,345.1 1206.0,344.8 1207.5,344.4 1209.0,344.1 1210.5,343.7 1212.0,343.3 1213.5,342.9 1215.0,342.5 1216.5,342.2 1218.0,341.8 1219.5,341.4 1221.0,341.1 1222.5,340.7 1224.0,340.4 1225.5,340.1 1227.0,339.8 1228.5,339.6 1228.8,339.5 1230.0,339.3 1231.5,339.1 1233.0,338.8 1234.5,338.6 1236.0,338.4 1237.5,338.2 1239.0,338.0 1240.5,337.9 1242.0,337.7 1243.5,337.5 1245.0,337.3 1246.5,337.2 1248.0,337.0 1249.5,336.8 1251.0,336.6 1252.5,336.5 1254.0,336.3 1255.5,336.1 1257.0,335.8 1258.5,335.6 1260.0,335.4 1261.5,335.1 1263.0,334.9 1264.5,334.6 1266.0,334.3 1267.5,334.0 1269.0,333.6 1270.4,333.3 1270.5,333.3 1272.0,332.8 1273.5,332.1 1275.0,331.2 1276.5,330.2 1278.0,329.1 1279.5,328.1 1281.0,327.0 1282.5,325.9 1284.0,325.0 1285.5,324.2 1287.0,323.6 1288.5,323.1 1290.0,323.0 1291.5,323.0 1293.0,323.0 1294.5,323.0 1296.0,323.0 1297.5,323.0 1299.0,323.0 1300.5,323.0 1302.0,323.0 1303.5,323.0 1305.0,323.0 1306.5,323.0 1308.0,323.0 1309.5,323.0 1311.0,323.0 1312.5,323.0 1314.0,323.0 1315.5,323.0 1317.0,323.0 1318.5,323.0 1320.0,323.0 1321.5,323.0 1323.0,323.0 1324.5,323.0 1326.0,323.0 1327.4,323.0 1327.5,323.0 1329.0,323.2 1330.5,323.6 1332.0,324.3 1333.5,325.1 1335.0,325.9 1336.5,326.7 1338.0,327.5 1339.5,328.1 1341.0,328.4 1342.0,328.5 1342.5,328.5 1344.0,328.5 1345.5,328.5 1347.0,328.5 1348.5,328.4 1350.0,328.4 1351.5,328.4 1353.0,328.3 1354.5,328.3 1356.0,328.2 1357.5,328.1 1359.0,328.1 1360.5,328.0 1362.0,327.9 1363.5,327.8 1365.0,327.7 1366.5,327.6 1368.0,327.5 1369.0,327.4 1369.5,327.3 1371.0,326.9 1372.5,326.2 1374.0,325.3 1375.5,324.1 1377.0,322.8 1378.5,321.4 1380.0,320.0 1381.5,318.6 1383.0,317.2 1384.5,315.9 1386.0,314.8 1387.5,313.9 1389.0,313.3 1390.0,313.0 1390.5,312.9 1392.0,312.6 1393.5,312.4 1395.0,312.2 1396.5,312.0 1398.0,312.0 1399.5,312.1 1401.0,312.4 1402.5,312.9 1404.0,313.5 1405.5,314.2 1407.0,315.0 1408.5,315.8 1410.0,316.6 1411.5,317.4 1413.0,318.2 1414.5,318.9 1414.8,319.0 1416.0,319.5 1417.5,320.2 1419.0,321.0 1420.5,321.8 1422.0,322.6 1423.5,323.4 1425.0,324.2 1426.5,324.9 1428.0,325.6 1429.5,326.2 1431.0,326.7 1432.5,327.1 1434.0,327.3 1435.5,327.4 1435.6,327.4 1437.0,327.4 1438.5,327.2 1440.0,327.0 1441.5,326.7 1443.0,326.4 1444.5,326.0 1446.0,325.6 1447.5,325.2 1449.0,324.8 1450.5,324.4 1452.0,324.0 1453.5,323.6 1455.0,323.3 1456.4,323.0 1456.5,323.0 1458.0,322.7 1459.5,322.5 1461.0,322.3 1462.5,322.0 1464.0,321.8 1465.5,321.6 1467.0,321.4 1468.5,321.2 1470.0,321.0 1471.5,320.8 1473.0,320.6 1474.5,320.4 1476.0,320.2 1477.5,320.0 1479.0,319.8 1480.5,319.7 1482.0,319.5 1483.5,319.4 1485.0,319.2 1486.5,319.1 1487.6,319.0 1488.0,319.0 1489.5,318.8 1491.0,318.7 1492.5,318.6 1494.0,318.5 1495.5,318.4 1497.0,318.3 1498.5,318.2 1500.0,318.1 1501.5,318.0 1503.0,317.9 1504.5,317.8 1506.0,317.7 1507.5,317.6 1509.0,317.5 1510.5,317.4 1512.0,317.4 1513.5,317.3 1515.0,317.2 1516.5,317.1 1518.0,317.0 1519.0,317.0 1519.5,317.0 1521.0,316.9 1522.5,316.8 1524.0,316.7 1525.5,316.7 1527.0,316.6 1528.5,316.5 1530.0,316.4 1531.5,316.3 1533.0,316.3 1534.5,316.2 1536.0,316.2 1537.5,316.1 1539.0,316.1 1540.5,316.0 1542.0,316.0 1543.5,316.0 1543.8,316.0 1545.0,316.1 1546.5,316.6 1548.0,317.5 1549.5,318.6 1551.0,320.0 1552.0,321.0 1552.5,321.9 1554.0,327.6 1555.5,336.4 1557.0,346.0 1558.5,354.1 1560.0,358.4 1560.4,358.6 1561.5,357.9 1563.0,354.9 1564.5,350.6 1566.0,345.7 1567.5,341.1 1568.8,338.0 1569.0,337.6 1570.5,334.6 1572.0,331.6 1573.5,329.4 1575.0,328.5 1576.5,328.5 1578.0,328.5 1579.5,328.5 1581.0,328.5 1582.5,329.3 1584.0,331.4 1585.5,334.4 1587.0,337.8 1588.5,341.1 1590.0,344.0 1591.5,346.7 1593.0,349.7 1594.5,352.6 1596.0,354.9 1597.5,356.4 1598.0,356.6 1599.0,356.9 1600.5,357.2 1602.0,357.5 1603.5,357.7 1605.0,357.9 1606.5,358.0 1607.7,358.0 1608.0,358.0 1609.5,356.9 1611.0,354.8 1612.5,352.4 1614.0,350.3 1614.7,349.6 1615.5,349.0 1617.0,347.7 1618.5,346.6 1620.0,345.8 1621.5,345.5 1621.6,345.5 1623.0,345.8 1624.5,346.8 1625.8,348.0 1626.0,348.3 1627.5,356.7 1629.0,367.4 1630.0,370.4 1630.5,369.7 1632.0,362.6 1633.5,354.9 1634.0,353.8 1635.0,353.1 1636.5,352.4 1638.0,351.9 1639.5,351.1 1639.6,351.0 1641.0,348.7 1642.5,344.6 1644.0,340.4 1645.0,338.5 1645.5,337.8 1647.0,336.0 1648.5,334.4 1650.0,333.1 1651.5,331.9 1652.0,331.6 1653.0,331.0 1654.5,330.2 1656.0,329.5 1657.5,328.9 1659.0,328.2 1660.4,327.4 1660.5,327.3 1662.0,326.2 1663.5,324.9 1665.0,323.4 1666.5,321.9 1668.0,320.5 1669.5,319.3 1670.0,319.0 1671.0,318.4 1672.5,317.4 1674.0,316.5 1675.5,315.6 1677.0,314.9 1678.5,314.5 1680.0,314.3 1681.5,315.3 1683.0,318.1 1684.5,322.5 1686.0,328.1 1686.8,331.6 1687.5,337.9 1689.0,363.5 1690.5,385.1 1691.0,387.0 1692.0,381.7 1693.5,362.3 1695.0,345.5 1696.5,336.2 1698.0,331.6 1699.5,344.6 1701.0,371.1 1702.0,387.0 1702.5,393.4 1704.0,411.8 1705.5,429.5 1707.0,446.9 1708.5,464.4 1709.0,470.3 1710.0,484.6 1711.5,506.2 1712.5,512.0 1713.0,510.3 1714.5,490.3 1716.0,463.8 1716.6,456.0 1717.5,447.3 1719.0,435.0 1720.5,423.3 1721.5,414.8 1722.0,409.9 1723.5,393.0 1725.0,375.7 1726.5,362.2 1727.0,359.3 1728.0,354.4 1729.5,349.8 1729.8,349.6 1731.0,350.1 1732.5,351.8 1734.0,353.7 1735.5,354.9 1736.0,355.0 1737.0,354.5 1738.5,352.5 1740.0,349.4 1741.5,346.0 1742.0,345.0 1743.0,342.4 1744.5,337.4 1746.0,332.7 1747.5,330.1 1747.8,330.0 1749.0,335.1 1750.5,350.3 1752.0,366.3 1753.4,373.0 1753.5,373.0 1755.0,370.1 1756.5,363.9 1758.0,356.7 1759.0,352.4 1759.5,350.5 1761.0,344.4 1762.5,338.3 1764.0,333.1 1764.5,331.6 1765.5,328.9 1767.0,325.1 1768.5,321.8 1770.0,319.2 1771.0,318.0 1771.5,317.5 1773.0,316.0 1774.5,314.7 1776.0,313.5 1777.5,312.4 1779.0,311.7 1780.5,311.2 1782.0,311.0 1783.5,311.2 1785.0,311.9 1786.5,313.0 1788.0,314.5 1789.5,316.2 1791.0,318.2 1792.5,320.3 1794.0,322.6 1795.5,324.9 1797.0,327.2 1797.5,328.0 1798.5,329.7 1800.0,332.6 1801.5,335.9 1803.0,339.6 1804.5,343.6 1805.0,345.0 1806.0,347.7 1807.5,352.7 1808.0,355.0 1809.0,362.1 1810.5,379.4 1811.2,390.0 1812.0,406.8 1813.5,454.0 1814.2,480.0 1815.0,515.7 1816.5,598.0 1817.3,640.0 1818.0,678.4 1819.5,762.9 1820.6,790.0 1821.0,784.1 1822.5,698.1 1823.5,640.0 1824.0,621.1 1825.5,573.0 1826.0,560.0 1827.0,538.9 1828.0,520.0 1828.5,509.1 1830.0,470.6 1831.5,438.8 1832.5,431.0 1833.0,431.1 1834.5,432.5 1836.0,435.3 1837.5,439.2 1839.0,444.0 1840.5,449.4 1842.0,455.1 1843.5,460.8 1845.0,466.3 1846.3,470.7 1846.5,471.3 1848.0,476.2 1849.5,481.2 1851.0,486.4 1852.5,491.7 1854.0,497.1 1855.5,502.5 1857.0,507.9 1858.5,513.3 1860.0,518.7 1861.5,524.0 1863.0,529.3 1864.5,534.6 1866.0,539.9 1867.5,545.2 1869.0,550.5 1870.5,555.8 1872.0,561.1 1873.5,566.3 1875.0,571.4 1876.5,576.5 1876.8,577.5 1878.0,581.2 1879.5,585.3 1881.0,589.5 1882.5,594.5 1883.8,600.0 1884.0,601.0 1885.5,610.7 1887.0,623.7 1888.5,639.2 1890.0,656.5 1891.5,674.7 1893.0,693.0 1894.5,711.9 1896.0,732.3 1897.5,754.1 1899.0,777.1 1900.5,801.1 1902.0,826.0 1902.4,832.8 1903.5,853.5 1905.0,886.7 1906.5,922.4 1908.0,957.3 1909.5,987.9 1911.0,1011.0 1911.8,1019.0 1912.5,1024.4 1914.0,1035.4 1915.5,1044.6 1917.0,1051.1 1918.5,1054.0 1918.7,1054.0 1920.0,1053.3 1921.5,1050.9 1923.0,1047.4 1924.5,1043.4 1926.0,1039.3 1927.5,1035.9 1928.0,1035.0 1929.0,1033.2 1930.5,1030.3 1932.0,1027.5 1933.5,1024.9 1935.0,1022.8 1936.5,1021.6 1937.4,1021.4 1938.0,1021.5 1939.5,1022.9 1941.0,1025.5 1942.5,1029.1 1944.0,1033.5 1945.5,1038.4 1946.7,1042.4 1947.0,1043.5 1948.5,1052.5 1950.0,1065.1 1951.5,1079.0 1953.0,1091.9 1954.5,1101.3 1956.0,1105.0 1957.5,1095.3 1959.0,1070.3 1960.5,1035.6 1962.0,997.3 1963.0,972.5 1963.5,959.8 1965.0,914.6 1966.5,865.7 1967.6,832.8 1968.0,822.1 1969.5,785.4 1971.0,751.6 1972.5,716.9 1974.0,677.7 1974.6,660.0 1975.5,622.5 1977.0,550.5 1978.0,529.7 1978.5,532.0 1980.0,558.1 1981.5,593.0 1983.0,610.4 1984.5,599.4 1986.0,573.9 1987.0,554.5 1987.5,543.2 1989.0,497.6 1990.0,470.0 1990.5,459.0 1992.0,428.0 1993.5,401.2 1995.0,380.0 1996.5,363.0 1998.0,348.6 1999.5,337.7 2000.0,335.0 2001.0,330.1 2002.5,323.3 2004.0,318.0 2005.5,315.2 2006.0,315.0 2007.0,316.0 2008.5,320.2 2010.0,326.1 2011.5,332.0 2013.0,336.0 2014.5,338.1 2016.0,339.5 2017.5,340.7 2019.0,342.1 2020.5,344.0 2021.5,345.7 2022.0,347.0 2023.5,354.3 2025.0,365.3 2026.5,378.2 2028.0,391.3 2029.5,402.7 2030.0,405.8 2031.0,411.4 2032.5,419.2 2034.0,426.5 2035.5,433.7 2037.0,442.1 2038.5,451.1 2040.0,457.5 2041.0,459.0 2041.5,458.6 2043.0,454.0 2044.5,446.3 2046.0,438.7 2047.5,434.1 2048.0,433.7 2049.0,434.4 2050.5,437.7 2052.0,443.5 2053.5,451.6 2055.0,461.7 2056.5,487.8 2058.0,536.5 2059.5,596.1 2060.6,640.0 2061.0,656.2 2062.5,728.5 2064.0,807.9 2065.5,880.1 2066.0,900.0 2067.0,936.6 2068.5,988.5 2070.0,1034.1 2071.5,1070.4 2072.0,1080.0 2073.0,1097.8 2074.5,1123.6 2076.0,1145.7 2077.5,1161.0 2079.0,1166.8 2080.5,1156.1 2082.0,1128.9 2083.5,1092.7 2084.0,1080.0 2085.0,1050.3 2086.5,987.8 2088.0,900.0 2089.5,706.2 2090.0,670.8 2091.0,652.9 2092.5,635.6 2094.0,624.9 2095.5,615.5 2096.0,611.8 2097.0,604.2 2098.5,594.4 2100.0,585.5 2101.5,576.7 2103.0,567.0 2104.5,555.4 2104.8,552.8 2106.0,539.2 2107.5,517.4 2109.0,495.7 2110.5,480.3 2110.7,479.0 2112.0,472.5 2113.5,466.8 2115.0,462.1 2116.5,457.2 2116.6,456.9 2118.0,451.4 2119.5,444.9 2121.0,438.7 2122.5,433.6 2124.0,430.7 2124.7,430.3 2125.5,447.2 2126.0,464.0 2127.0,496.8 2128.4,552.8 2128.5,557.3 2130.0,635.9 2131.0,700.0 2131.5,745.0 2133.0,902.6 2133.5,920.0 2134.5,858.3 2136.0,700.0 2137.5,610.8 2138.7,560.0 2139.0,550.8 2140.5,513.6 2141.6,493.8 2142.0,487.5 2143.5,465.4 2145.0,448.5 2146.0,442.0 2146.5,440.1 2148.0,436.0 2149.5,433.4 2151.0,431.0 2152.5,427.6 2153.4,424.4 2154.0,421.3 2155.5,408.3 2157.0,390.0 2158.5,352.2 2160.0,314.2 2160.5,310.6 2161.5,310.6 2163.0,310.8 2164.5,311.2 2166.0,311.5 2167.5,312.0 2169.0,312.4 2170.5,312.7 2172.0,312.9 2173.3,313.0 2173.5,313.0 2175.0,312.8 2176.5,312.4 2178.0,311.9 2179.5,311.4 2181.0,310.8 2182.5,310.4 2184.0,310.1 2185.0,310.0 2185.5,310.0 2187.0,310.1 2188.5,310.4 2190.0,310.8 2191.5,311.3 2193.0,312.0 2194.5,312.8 2196.0,313.6 2197.5,314.6 2199.0,315.7 2200.0,316.4 2200.5,316.9 2202.0,319.2 2203.5,322.6 2205.0,326.4 2206.5,330.3 2208.0,333.6 2208.2,334.0 2209.5,336.2 2211.0,338.5 2212.5,340.8 2214.0,343.2 2215.2,345.6 2215.5,346.3 2217.0,351.4 2218.5,357.4 2220.0,361.9 2221.0,363.0 2221.5,362.5 2223.0,356.1 2224.5,345.3 2226.0,333.7 2226.9,328.0 2227.5,324.5 2229.0,314.5 2230.5,306.7 2231.5,304.8 2232.0,305.0 2233.5,307.2 2235.0,311.6 2236.2,316.4 2236.5,318.2 2238.0,339.3 2239.5,371.8 2240.8,400.0 2241.0,404.0 2242.5,436.3 2244.0,469.8 2245.5,500.0 2247.0,527.1 2248.5,553.1 2250.0,576.3 2251.5,595.0 2252.0,600.0 2253.0,609.2 2254.5,622.7 2256.0,635.1 2257.5,645.5 2259.0,653.0 2260.5,656.7 2261.0,657.0 2262.0,655.0 2263.5,646.0 2265.0,632.0 2266.5,615.8 2268.0,600.0 2269.5,584.4 2271.0,567.1 2272.5,548.3 2274.0,528.3 2275.5,507.2 2276.0,500.0 2277.0,484.4 2278.5,457.8 2280.0,429.8 2281.5,403.0 2283.0,380.0 2284.5,358.1 2286.0,335.9 2287.5,317.2 2289.0,306.2 2289.7,304.8 2290.5,307.4 2292.0,320.0 2293.0,328.0 2293.5,330.9 2295.0,338.9 2296.0,343.5"/>
<polyline fill="none" stroke="#808000" stroke-width="2.3" stroke-linejoin="round" points="297.0,312.7 298.5,312.7 300.0,312.7 301.5,312.7 303.0,312.7 304.5,312.7 306.0,312.7 307.5,312.7 309.0,312.7 310.5,312.7 312.0,312.7 313.5,312.7 315.0,312.8 316.5,312.8 318.0,312.8 319.5,312.8 321.0,312.8 322.5,312.8 324.0,312.8 325.5,312.8 327.0,312.9 328.5,312.9 330.0,312.9 331.5,312.9 333.0,312.9 334.5,313.0 336.0,313.0 337.5,313.0 339.0,313.0 340.5,313.1 342.0,313.1 343.5,313.1 345.0,313.1 346.5,313.2 348.0,313.2 349.5,313.2 351.0,313.3 352.5,313.3 354.0,313.3 355.5,313.4 357.0,313.4 358.5,313.5 360.0,313.5 361.5,313.5 363.0,313.6 364.5,313.6 366.0,313.7 367.5,313.7 369.0,313.8 370.5,313.8 372.0,313.9 373.5,313.9 375.0,314.0 376.5,314.0 378.0,314.1 379.5,314.1 381.0,314.2 382.5,314.2 384.0,314.3 385.5,314.4 387.0,314.4 388.5,314.5 390.0,314.5 391.5,314.6 393.0,314.7 394.5,314.8 396.0,314.8 397.5,314.9 399.0,315.0 400.5,315.0 402.0,315.1 403.5,315.2 405.0,315.3 406.5,315.4 408.0,315.4 409.5,315.5 411.0,315.6 412.5,315.7 414.0,315.8 415.5,315.9 417.0,316.0 418.5,316.1 420.0,316.2 421.5,316.3 423.0,316.3 424.5,316.4 426.0,316.5 427.5,316.7 429.0,316.8 430.5,316.9 432.0,317.0 433.5,317.1 435.0,317.2 436.5,317.3 438.0,317.4 439.5,317.5 441.0,317.6 442.5,317.8 444.0,317.9 445.5,318.0 447.0,318.1 448.5,318.3 450.0,318.4 451.5,318.5 453.0,318.6 454.5,318.8 456.0,318.9 457.5,319.1 459.0,319.2 460.5,319.3 462.0,319.5 463.5,319.6 465.0,319.8 466.5,319.9 468.0,320.1 469.5,320.2 471.0,320.4 472.5,320.5 474.0,320.7 475.5,320.8 477.0,321.0 478.5,321.2 480.0,321.6 481.5,322.1 483.0,322.8 484.5,323.5 486.0,324.3 487.5,325.2 489.0,326.1 490.5,327.0 492.0,327.9 493.5,328.9 495.0,329.8 496.5,330.6 498.0,331.4 499.5,332.2 501.0,332.9 502.5,333.7 504.0,334.4 505.5,335.2 507.0,335.9 508.5,336.7 510.0,337.4 511.5,338.2 513.0,338.9 514.5,339.7 516.0,340.5 517.5,341.2 519.0,342.0 520.5,342.8 522.0,343.5 523.5,344.3 525.0,345.1 526.5,345.8 528.0,346.6 529.5,347.4 531.0,348.2 532.5,349.0 534.0,349.8 535.5,350.6 537.0,351.4 538.5,352.2 540.0,353.0 541.5,353.8 543.0,354.7 544.5,355.6 546.0,356.5 547.5,357.5 549.0,358.5 550.5,359.5 552.0,360.5 553.5,361.5 555.0,362.6 556.5,363.6 558.0,364.7 559.5,365.8 561.0,366.8 562.5,367.8 564.0,368.9 565.5,369.9 567.0,370.9 568.5,371.9 570.0,372.9 571.5,373.8 573.0,374.7 574.5,375.6 576.0,376.4 577.5,377.2 579.0,378.0 580.5,378.7 582.0,379.4 583.5,380.0 585.0,380.6 586.5,381.1 588.0,381.5 589.5,381.9 590.0,382.0 591.0,382.2 592.5,382.5 594.0,382.8 595.5,383.2 597.0,383.4 598.5,383.7 600.0,384.0 601.5,384.2 603.0,384.4 604.5,384.6 606.0,384.8 607.5,384.9 609.0,385.0 610.5,385.0 610.8,385.0 612.0,385.0 613.5,385.0 615.0,385.0 616.5,385.0 618.0,385.0 619.5,385.0 621.0,385.0 622.5,385.0 624.0,385.0 625.5,385.0 627.0,385.0 628.5,385.0 630.0,385.0 631.5,385.0 633.0,385.0 634.5,385.0 636.0,385.0 637.5,385.0 637.8,385.0 639.0,385.0 640.5,384.9 642.0,384.8 643.5,384.6 645.0,384.4 646.5,384.2 648.0,383.9 649.5,383.6 651.0,383.3 652.5,382.9 654.0,382.5 655.5,382.1 657.0,381.7 658.5,381.2 660.0,380.8 661.5,380.3 663.0,379.9 664.5,379.4 666.0,379.0 667.5,378.5 669.0,378.1 670.5,377.7 672.0,377.3 673.0,377.0 673.5,376.9 675.0,376.5 676.5,376.1 678.0,375.7 679.5,375.2 681.0,374.8 682.5,374.4 684.0,373.9 685.5,373.5 687.0,373.0 688.5,372.5 690.0,372.1 691.5,371.6 693.0,371.1 694.5,370.6 696.0,370.2 697.5,369.7 699.0,369.2 700.5,368.8 702.0,368.3 703.5,367.8 705.0,367.4 706.5,366.9 708.0,366.5 709.5,366.0 711.0,365.6 712.5,365.1 714.0,364.7 714.8,364.5 715.5,364.3 717.0,363.9 718.5,363.5 720.0,363.1 721.5,362.7 723.0,362.3 724.5,361.8 726.0,361.4 727.5,361.0 729.0,360.6 730.5,360.2 732.0,359.8 733.5,359.4 735.0,359.0 736.5,358.6 738.0,358.3 739.5,357.9 741.0,357.5 742.5,357.1 744.0,356.8 745.5,356.4 747.0,356.1 748.5,355.7 750.0,355.4 751.5,355.0 753.0,354.7 754.5,354.4 756.0,354.1 756.4,354.0 757.5,353.8 759.0,353.5 760.5,353.1 762.0,352.8 763.5,352.4 765.0,352.1 766.5,351.7 768.0,351.4 769.5,351.1 771.0,350.8 772.5,350.5 774.0,350.2 775.5,349.9 777.0,349.7 778.5,349.5 780.0,349.3 781.5,349.2 783.0,349.1 784.5,349.0 785.5,349.0 786.0,349.0 787.5,349.1 789.0,349.3 790.5,349.6 792.0,350.0 793.5,350.4 795.0,350.9 796.5,351.4 798.0,352.0 799.5,352.8 801.0,353.8 802.5,355.1 804.0,356.3 805.5,357.4 806.4,358.0 807.0,358.3 808.5,359.2 810.0,360.1 811.5,361.0 813.0,361.8 814.5,362.5 816.0,363.0 817.5,363.4 819.0,363.5 820.5,362.8 822.0,361.2 823.5,359.7 825.0,359.0 826.5,359.4 828.0,360.6 829.5,362.4 831.0,364.5 832.5,369.4 834.0,377.5 835.5,385.7 837.0,390.9 837.6,391.5 838.5,390.7 840.0,386.7 841.5,381.5 843.0,377.7 843.8,377.0 844.5,377.2 846.0,378.7 847.5,380.9 849.0,382.6 850.0,383.0 850.5,382.9 852.0,382.2 853.5,381.1 855.0,380.2 856.0,380.0 856.5,380.2 858.0,382.8 859.5,387.7 861.0,393.8 862.5,400.0 864.0,406.1 865.5,413.7 866.6,421.5 867.0,425.5 868.5,450.2 870.0,480.0 871.5,510.5 872.5,530.0 873.0,539.6 874.5,569.9 876.0,585.0 877.5,577.1 879.0,563.9 880.0,560.0 880.5,560.3 882.0,564.7 883.0,570.0 883.5,579.9 885.0,656.6 886.0,704.0 886.5,719.1 888.0,757.7 889.5,789.9 890.0,800.0 891.0,820.4 892.5,849.1 894.0,870.0 895.5,883.6 896.0,885.0 897.0,878.4 898.0,865.0 898.5,857.3 900.0,824.5 901.5,783.9 902.0,770.0 903.0,738.1 904.5,683.5 906.0,640.0 907.5,613.3 909.0,592.3 910.0,580.0 910.5,573.8 912.0,554.7 913.5,537.8 915.0,526.8 915.5,525.0 916.5,522.8 918.0,520.5 919.0,520.0 919.5,520.7 921.0,528.2 922.0,535.0 922.5,538.5 924.0,551.9 925.0,563.0 925.5,569.5 927.0,594.0 928.5,622.0 929.5,640.0 930.0,649.0 931.5,677.7 933.0,700.0 934.5,713.6 935.0,715.0 936.0,703.0 937.0,680.0 937.5,668.2 939.0,620.0 940.5,514.9 941.0,491.0 942.0,468.4 943.5,446.2 944.7,433.0 945.0,429.8 946.5,414.3 948.0,401.1 949.5,391.0 950.5,386.6 951.0,385.0 952.5,380.8 954.0,377.3 955.5,374.4 957.0,372.0 958.5,369.9 960.0,368.0 961.5,366.2 963.0,364.6 964.5,363.2 966.0,361.9 967.5,360.7 969.0,359.5 970.5,358.3 971.5,357.5 972.0,357.1 973.5,355.7 975.0,354.2 976.5,352.8 978.0,351.4 979.5,350.3 981.0,349.4 982.5,349.0 983.0,349.0 984.0,349.0 985.5,349.0 987.0,349.0 988.5,349.0 990.0,349.0 991.5,349.0 993.0,349.0 994.5,349.0 996.0,349.0 997.5,349.0 999.0,349.0 1000.0,349.0 1000.5,349.0 1002.0,349.0 1003.5,349.0 1005.0,349.1 1006.5,349.1 1008.0,349.2 1009.5,349.2 1011.0,349.3 1012.5,349.4 1014.0,349.4 1015.5,349.5 1017.0,349.6 1018.5,349.6 1020.0,349.7 1021.5,349.8 1023.0,349.8 1024.5,349.9 1026.0,349.9 1027.5,350.0 1029.0,350.0 1030.5,350.0 1031.0,350.0 1032.0,350.0 1033.5,350.0 1035.0,349.9 1036.5,349.8 1038.0,349.6 1039.5,349.5 1041.0,349.3 1042.5,349.1 1044.0,348.9 1045.5,348.7 1047.0,348.4 1048.5,348.2 1050.0,347.9 1051.5,347.7 1053.0,347.4 1054.5,347.1 1056.0,346.9 1057.5,346.6 1059.0,346.3 1060.5,346.1 1062.0,345.9 1062.4,345.8 1063.5,345.6 1065.0,345.4 1066.5,345.2 1068.0,345.0 1069.5,344.8 1071.0,344.5 1072.5,344.3 1074.0,344.1 1075.5,343.9 1077.0,343.7 1078.5,343.5 1080.0,343.2 1081.5,343.0 1083.0,342.8 1084.5,342.5 1086.0,342.3 1087.5,342.0 1089.0,341.8 1090.5,341.5 1092.0,341.2 1093.5,340.9 1095.0,340.6 1096.5,340.3 1098.0,340.0 1099.5,339.6 1101.0,339.3 1102.5,338.9 1104.0,338.5 1105.5,338.0 1107.0,337.4 1108.5,336.6 1110.0,335.8 1111.5,334.9 1113.0,334.1 1114.5,333.3 1116.0,332.7 1117.5,332.3 1119.0,332.0 1119.6,332.0 1120.5,332.1 1122.0,332.9 1123.5,334.0 1125.0,335.2 1126.5,336.4 1128.0,337.2 1129.0,337.4 1129.5,337.4 1131.0,337.5 1132.5,337.6 1134.0,337.6 1135.5,337.7 1137.0,337.7 1138.5,337.8 1140.0,337.8 1141.5,337.9 1143.0,337.9 1144.5,338.0 1146.0,338.0 1147.5,338.1 1149.0,338.1 1150.5,338.1 1152.0,338.2 1153.5,338.2 1155.0,338.2 1156.5,338.3 1158.0,338.3 1159.5,338.3 1161.0,338.3 1162.5,338.4 1164.0,338.4 1165.5,338.4 1167.0,338.4 1168.5,338.4 1170.0,338.4 1171.5,338.5 1173.0,338.5 1174.5,338.5 1176.0,338.5 1177.5,338.5 1179.0,338.5 1180.5,338.5 1182.0,338.5 1183.5,338.5 1185.0,338.5 1186.5,338.5 1187.0,338.5 1188.0,338.5 1189.5,338.5 1191.0,338.5 1192.5,338.4 1194.0,338.4 1195.5,338.3 1197.0,338.3 1198.5,338.2 1200.0,338.1 1201.5,338.0 1203.0,337.9 1204.5,337.8 1206.0,337.7 1207.5,337.6 1209.0,337.5 1210.5,337.4 1212.0,337.2 1213.5,337.1 1215.0,337.0 1216.5,336.8 1218.0,336.7 1219.5,336.5 1221.0,336.4 1222.5,336.2 1224.0,336.0 1225.5,335.9 1227.0,335.7 1228.5,335.5 1230.0,335.4 1231.5,335.2 1233.0,335.0 1234.5,334.9 1236.0,334.7 1237.5,334.5 1239.0,334.4 1240.5,334.2 1242.0,334.1 1243.5,333.9 1245.0,333.8 1246.5,333.6 1248.0,333.5 1249.5,333.3 1249.6,333.3 1251.0,333.2 1252.5,333.0 1254.0,332.9 1255.5,332.8 1257.0,332.7 1258.5,332.6 1260.0,332.4 1261.5,332.3 1263.0,332.2 1264.5,332.1 1266.0,331.9 1267.5,331.8 1269.0,331.7 1270.5,331.5 1272.0,331.3 1273.5,331.2 1275.0,331.0 1276.5,330.7 1278.0,330.5 1279.5,330.3 1281.0,330.0 1282.5,329.6 1284.0,329.1 1285.5,328.4 1287.0,327.7 1288.5,327.1 1290.0,326.5 1291.5,326.0 1293.0,325.4 1294.5,324.9 1296.0,324.3 1297.5,323.8 1299.0,323.4 1300.5,323.2 1302.0,323.0 1302.5,323.0 1303.5,323.0 1305.0,323.2 1306.5,323.5 1308.0,323.8 1309.5,324.2 1311.0,324.5 1312.5,324.8 1314.0,325.0 1315.0,325.0 1315.5,324.8 1317.0,322.1 1318.5,318.1 1320.0,315.0 1320.8,314.5 1321.5,314.7 1323.0,316.5 1324.5,319.2 1326.0,322.0 1327.4,324.0 1327.5,324.1 1329.0,325.6 1330.5,327.0 1332.0,328.4 1333.5,329.6 1335.0,330.5 1336.5,331.2 1337.8,331.6 1338.0,331.6 1339.5,331.9 1341.0,332.1 1342.5,332.3 1344.0,332.5 1345.5,332.7 1347.0,332.8 1348.5,332.9 1350.0,333.0 1351.5,333.0 1352.4,333.0 1353.0,333.0 1354.5,333.0 1356.0,332.9 1357.5,332.8 1359.0,332.7 1360.5,332.6 1362.0,332.4 1363.5,332.2 1365.0,331.9 1366.5,331.7 1368.0,331.4 1369.5,331.1 1371.0,330.7 1372.5,330.4 1374.0,330.0 1375.5,329.6 1377.0,329.1 1377.4,329.0 1378.5,328.5 1380.0,327.1 1381.5,325.3 1383.0,323.2 1384.5,320.9 1386.0,318.8 1387.5,316.9 1389.0,315.6 1390.0,315.0 1390.5,314.8 1392.0,314.2 1393.5,313.8 1395.0,313.4 1396.5,313.1 1398.0,313.0 1399.5,313.2 1401.0,313.7 1402.5,314.5 1404.0,315.5 1405.5,316.7 1407.0,318.1 1408.5,319.4 1410.0,320.8 1411.5,322.2 1413.0,323.5 1414.5,324.6 1416.0,325.5 1417.0,326.0 1417.5,326.2 1419.0,326.8 1420.5,327.5 1422.0,328.1 1423.5,328.7 1425.0,329.3 1426.5,329.8 1428.0,330.3 1429.5,330.7 1431.0,331.1 1432.5,331.4 1434.0,331.5 1435.5,331.6 1435.6,331.6 1437.0,331.6 1438.5,331.6 1440.0,331.6 1441.5,331.6 1443.0,331.6 1444.5,331.6 1446.0,331.6 1447.5,331.6 1449.0,331.5 1450.5,331.5 1452.0,331.5 1453.5,331.5 1455.0,331.5 1456.5,331.5 1458.0,331.4 1459.5,331.4 1461.0,331.4 1462.5,331.4 1464.0,331.3 1465.5,331.3 1467.0,331.3 1468.5,331.2 1470.0,331.2 1471.5,331.2 1473.0,331.1 1474.5,331.1 1476.0,331.0 1477.0,331.0 1477.5,331.0 1479.0,330.9 1480.5,330.7 1482.0,330.4 1483.5,330.1 1485.0,329.7 1486.5,329.3 1488.0,328.9 1489.5,328.5 1491.0,328.1 1492.5,327.8 1494.0,327.5 1495.5,327.2 1497.0,327.1 1498.0,327.0 1498.5,327.0 1500.0,326.9 1501.5,326.8 1503.0,326.8 1504.5,326.7 1506.0,326.7 1507.5,326.6 1509.0,326.5 1510.5,326.5 1512.0,326.4 1513.5,326.4 1515.0,326.4 1516.5,326.3 1518.0,326.3 1519.5,326.2 1521.0,326.2 1522.5,326.2 1524.0,326.1 1525.5,326.1 1527.0,326.1 1528.5,326.1 1530.0,326.1 1531.5,326.0 1533.0,326.0 1534.5,326.0 1536.0,326.0 1537.5,326.0 1539.0,326.0 1539.6,326.0 1540.5,326.0 1542.0,326.1 1543.5,326.3 1545.0,326.6 1546.5,326.9 1548.0,327.4 1549.5,327.9 1551.0,328.5 1552.0,329.0 1552.5,329.5 1554.0,333.1 1555.5,339.0 1557.0,345.4 1558.5,350.9 1560.0,353.8 1560.4,354.0 1561.5,353.4 1563.0,350.8 1564.5,347.3 1566.0,343.5 1566.7,342.0 1567.5,340.1 1569.0,335.9 1570.5,331.6 1572.0,328.7 1573.0,328.0 1573.5,328.0 1575.0,328.1 1576.5,328.3 1578.0,328.7 1579.5,329.2 1581.0,329.7 1582.5,330.4 1584.0,331.1 1585.5,331.9 1587.0,332.8 1588.5,333.7 1590.0,334.7 1591.5,336.4 1593.0,339.0 1594.5,342.0 1596.0,344.7 1597.5,346.6 1598.0,346.9 1599.0,347.4 1600.5,348.0 1602.0,348.6 1603.5,349.0 1605.0,349.3 1606.5,349.5 1607.7,349.6 1608.0,349.6 1609.5,349.3 1611.0,348.6 1612.5,347.7 1614.0,346.6 1615.5,345.5 1617.0,344.5 1618.5,343.6 1620.0,343.0 1621.5,342.7 1621.6,342.7 1623.0,344.2 1624.5,348.4 1626.0,353.8 1627.5,359.1 1629.0,362.7 1630.0,363.5 1630.5,363.0 1632.0,357.4 1633.5,350.5 1634.0,349.0 1635.0,346.8 1636.5,343.7 1638.0,341.0 1639.5,338.6 1641.0,336.5 1642.5,334.6 1644.0,333.0 1645.0,332.0 1645.5,331.5 1647.0,330.2 1648.5,329.0 1650.0,327.9 1651.5,326.9 1653.0,325.9 1654.5,325.0 1656.0,324.2 1657.5,323.4 1659.0,322.5 1660.0,322.0 1660.5,321.7 1662.0,320.9 1663.5,320.0 1665.0,319.1 1666.5,318.2 1668.0,317.3 1669.5,316.4 1671.0,315.6 1672.5,314.9 1674.0,314.3 1675.5,313.7 1677.0,313.3 1678.5,313.1 1680.0,313.0 1681.5,314.2 1683.0,317.4 1684.5,322.1 1686.0,328.1 1686.8,331.6 1687.5,336.8 1689.0,356.0 1690.5,371.6 1691.0,373.0 1692.0,367.6 1693.5,348.9 1695.0,336.0 1696.5,333.3 1698.0,331.5 1699.3,331.0 1699.5,331.6 1701.0,359.1 1702.0,380.0 1702.5,387.1 1704.0,406.1 1705.5,423.0 1707.0,438.7 1708.5,454.5 1709.0,460.0 1710.0,473.2 1711.5,492.7 1712.5,498.0 1713.0,496.6 1714.5,480.3 1716.0,457.6 1716.6,450.0 1717.5,440.3 1719.0,424.6 1720.5,409.6 1721.5,400.0 1722.0,395.1 1723.5,379.6 1725.0,365.0 1726.5,354.2 1727.0,352.0 1728.0,348.4 1729.5,345.1 1729.8,345.0 1731.0,345.9 1732.5,348.6 1734.0,351.8 1735.5,353.8 1736.0,354.0 1737.0,353.4 1738.5,350.9 1740.0,347.2 1741.5,343.2 1742.0,342.0 1743.0,339.1 1744.5,333.8 1746.0,328.8 1747.5,326.1 1747.8,326.0 1749.0,329.4 1750.5,340.3 1752.0,353.2 1753.0,360.0 1753.5,363.0 1755.0,371.2 1755.5,372.0 1756.5,368.7 1758.0,356.9 1759.0,350.0 1759.5,347.5 1761.0,340.4 1762.5,334.1 1764.0,329.2 1764.5,328.0 1765.5,325.9 1767.0,323.1 1768.5,320.9 1770.0,319.0 1771.0,318.0 1771.5,317.5 1773.0,316.1 1774.5,314.8 1776.0,313.6 1777.5,312.5 1779.0,311.7 1780.5,311.2 1782.0,311.0 1783.5,311.2 1785.0,311.8 1786.5,312.8 1788.0,314.0 1789.5,315.5 1791.0,317.2 1792.5,319.1 1794.0,321.1 1795.5,323.2 1797.0,325.3 1797.5,326.0 1798.5,327.4 1800.0,329.5 1801.5,331.8 1803.0,334.6 1804.5,338.1 1806.0,342.4 1807.5,347.9 1808.0,350.0 1809.0,357.1 1810.5,376.3 1811.2,388.0 1812.0,407.1 1813.5,461.3 1814.2,490.0 1815.0,527.1 1816.5,608.5 1817.3,650.0 1818.0,688.4 1819.5,772.9 1820.6,800.0 1821.0,795.4 1822.5,724.8 1823.5,670.0 1824.0,646.9 1825.5,578.2 1826.0,560.0 1827.0,531.1 1828.0,508.0 1828.5,497.2 1830.0,464.6 1831.5,445.5 1831.8,444.8 1833.0,445.3 1834.5,447.3 1836.0,450.4 1837.5,454.6 1839.0,459.5 1840.5,464.9 1842.0,470.5 1843.5,476.2 1845.0,481.6 1846.3,486.0 1846.5,486.6 1848.0,491.4 1849.5,496.3 1851.0,501.2 1852.5,506.2 1854.0,511.2 1855.5,516.3 1857.0,521.5 1858.5,526.8 1860.0,532.2 1861.5,537.7 1863.0,543.2 1864.5,548.9 1866.0,554.7 1867.5,560.6 1869.0,566.6 1870.5,572.8 1872.0,579.0 1873.5,585.4 1875.0,592.0 1876.5,598.6 1876.8,600.0 1878.0,605.4 1879.5,612.3 1881.0,619.6 1882.5,627.8 1884.0,637.2 1884.4,640.0 1885.5,648.4 1887.0,662.0 1888.5,677.6 1890.0,694.9 1891.5,713.5 1893.0,733.0 1894.5,753.2 1895.0,760.0 1896.0,774.2 1897.5,797.4 1899.0,822.4 1900.5,848.6 1902.0,875.7 1903.5,903.0 1905.0,930.0 1906.5,958.8 1908.0,989.8 1909.5,1019.9 1911.0,1046.1 1912.0,1060.0 1912.5,1066.2 1914.0,1084.7 1915.5,1098.0 1916.4,1100.6 1917.0,1100.5 1918.5,1099.2 1920.0,1096.8 1921.5,1093.7 1923.0,1090.5 1924.5,1087.4 1926.0,1085.0 1927.5,1082.9 1929.0,1080.7 1930.5,1078.6 1932.0,1076.5 1933.5,1074.8 1935.0,1073.5 1936.5,1072.7 1937.4,1072.6 1938.0,1072.8 1939.5,1074.4 1941.0,1077.8 1942.5,1082.5 1944.0,1088.3 1945.5,1094.9 1947.0,1102.0 1948.5,1109.5 1949.0,1112.0 1950.0,1118.9 1951.5,1134.2 1953.0,1151.1 1954.5,1164.8 1956.0,1170.4 1957.5,1159.3 1959.0,1130.4 1960.5,1090.7 1962.0,1047.0 1963.0,1019.0 1963.5,1004.8 1965.0,955.1 1966.5,900.8 1968.0,850.0 1969.5,804.7 1971.0,761.5 1972.5,720.0 1974.0,680.0 1975.5,633.9 1977.0,589.0 1978.5,567.1 1978.6,567.0 1980.0,575.8 1981.5,597.7 1983.0,621.1 1984.5,634.5 1984.8,635.0 1986.0,617.7 1987.5,564.2 1989.0,504.1 1989.8,480.0 1990.5,463.5 1992.0,429.9 1993.5,401.1 1995.0,380.0 1996.5,364.7 1998.0,351.8 1999.5,341.8 2001.0,335.0 2002.5,330.1 2004.0,326.0 2005.5,323.1 2007.0,322.0 2008.5,324.1 2010.0,329.3 2011.5,335.6 2013.0,341.4 2014.5,344.7 2015.0,345.0 2016.0,344.7 2017.5,343.4 2019.0,341.6 2020.5,340.3 2021.5,340.0 2022.0,340.5 2023.5,347.5 2025.0,360.3 2026.5,376.3 2028.0,392.6 2029.5,406.4 2030.0,410.0 2031.0,416.3 2032.5,424.9 2034.0,432.8 2035.5,440.0 2037.0,447.6 2038.5,455.2 2040.0,460.5 2041.0,461.7 2041.5,461.4 2043.0,457.5 2044.5,451.2 2046.0,444.9 2047.5,441.0 2048.0,440.7 2049.0,441.4 2050.5,444.9 2052.0,451.1 2053.5,459.5 2055.0,470.0 2056.5,495.2 2058.0,541.3 2059.5,597.8 2060.6,640.0 2061.0,655.7 2062.5,727.0 2064.0,808.1 2065.5,886.6 2067.0,950.0 2068.5,1002.9 2070.0,1056.2 2071.5,1107.1 2073.0,1152.5 2074.5,1189.6 2076.0,1215.4 2077.5,1226.9 2077.8,1227.3 2079.0,1219.6 2080.5,1191.6 2082.0,1148.2 2083.5,1095.1 2085.0,1037.7 2086.0,1000.0 2086.5,979.2 2088.0,899.3 2089.5,820.2 2090.0,800.0 2091.0,765.4 2092.5,718.1 2094.0,678.1 2095.5,647.7 2096.0,640.0 2097.0,627.1 2098.5,611.2 2100.0,598.1 2101.5,586.6 2103.0,575.3 2104.5,562.8 2104.8,560.0 2106.0,547.8 2107.5,531.0 2109.0,514.5 2110.5,500.1 2112.0,490.0 2113.5,483.8 2115.0,479.0 2116.5,474.8 2118.0,470.0 2119.5,463.5 2121.0,455.8 2122.5,449.1 2124.0,445.3 2124.5,445.0 2125.5,464.9 2126.0,480.0 2127.0,509.3 2128.4,560.0 2128.5,564.2 2130.0,639.2 2131.0,700.0 2131.5,741.3 2133.0,883.4 2133.5,899.0 2134.5,843.1 2136.0,700.0 2137.5,619.0 2138.7,575.0 2139.0,567.7 2140.5,537.3 2142.0,515.5 2143.0,505.0 2143.5,500.5 2145.0,487.8 2146.5,477.3 2148.0,470.3 2149.0,468.0 2149.5,467.5 2151.0,466.6 2152.5,465.9 2153.4,465.0 2154.0,463.4 2155.5,453.0 2157.0,434.5 2157.9,420.0 2158.5,399.3 2160.0,335.0 2161.5,320.5 2163.0,315.0 2164.5,315.1 2166.0,315.5 2167.5,316.1 2169.0,316.8 2170.5,317.4 2172.0,318.0 2173.5,318.5 2175.0,318.8 2175.6,318.8 2176.5,318.6 2178.0,317.4 2179.5,315.5 2181.0,313.4 2182.5,311.5 2184.0,310.3 2185.0,310.0 2185.5,310.0 2187.0,310.1 2188.5,310.2 2190.0,310.4 2191.5,310.7 2193.0,311.0 2194.5,311.4 2196.0,311.8 2196.6,312.0 2197.5,312.4 2199.0,313.4 2200.5,314.8 2202.0,316.6 2203.5,318.6 2205.0,320.6 2206.5,322.7 2208.0,324.7 2208.2,325.0 2209.5,326.6 2211.0,328.4 2212.5,330.5 2214.0,332.8 2215.2,335.0 2215.5,335.7 2217.0,341.2 2218.5,347.2 2220.0,350.0 2221.5,345.5 2223.0,337.0 2223.4,335.0 2224.5,329.4 2226.0,321.1 2227.5,313.9 2228.0,312.0 2229.0,308.5 2230.5,304.1 2231.5,303.0 2232.0,303.2 2233.5,305.8 2235.0,310.9 2236.2,316.4 2236.5,318.5 2238.0,342.9 2239.5,379.6 2240.8,409.6 2241.0,413.6 2242.5,443.3 2244.0,472.5 2245.5,500.0 2247.0,526.3 2248.5,552.0 2250.0,576.6 2251.5,599.5 2253.0,620.0 2254.5,640.5 2256.0,661.8 2257.5,681.2 2259.0,696.3 2260.5,704.1 2261.0,704.7 2262.0,702.3 2263.5,691.4 2265.0,674.1 2266.5,653.6 2268.0,632.7 2269.0,620.0 2269.5,614.1 2271.0,596.3 2272.5,578.0 2274.0,558.8 2275.5,538.3 2277.0,516.0 2278.0,500.0 2278.5,491.3 2280.0,460.6 2281.5,426.7 2283.0,393.8 2284.0,374.7 2284.5,366.0 2286.0,340.5 2287.5,318.0 2288.6,304.8 2289.0,300.5 2290.5,286.4 2291.0,285.0 2292.0,286.9 2293.5,294.5 2294.4,300.0 2295.0,303.9 2296.5,317.6 2296.7,320.0 2298.0,345.0"/>
<polyline fill="none" stroke="#ff80ff" stroke-width="2.3" stroke-linejoin="round" points="297.0,312.7 298.5,312.7 300.0,312.7 301.5,312.8 303.0,312.8 304.5,312.8 306.0,312.8 307.5,312.9 309.0,312.9 310.5,312.9 312.0,313.0 313.5,313.0 315.0,313.0 316.5,313.0 318.0,313.1 319.5,313.1 321.0,313.1 322.5,313.2 324.0,313.2 325.5,313.2 327.0,313.3 328.5,313.3 330.0,313.3 331.5,313.4 333.0,313.4 334.5,313.4 336.0,313.5 337.5,313.5 339.0,313.6 340.5,313.6 342.0,313.6 343.5,313.7 345.0,313.7 346.5,313.8 348.0,313.8 349.5,313.8 351.0,313.9 352.5,313.9 354.0,314.0 355.5,314.0 357.0,314.1 358.5,314.1 360.0,314.1 361.5,314.2 363.0,314.2 364.5,314.3 366.0,314.3 367.5,314.4 369.0,314.4 370.5,314.5 372.0,314.5 373.5,314.6 375.0,314.6 376.5,314.7 378.0,314.7 379.5,314.8 381.0,314.8 382.5,314.9 384.0,314.9 385.5,315.0 387.0,315.0 388.5,315.1 390.0,315.1 391.5,315.2 393.0,315.2 394.5,315.3 396.0,315.3 397.5,315.4 399.0,315.4 400.5,315.5 402.0,315.5 403.5,315.6 405.0,315.6 406.5,315.7 408.0,315.7 409.5,315.8 411.0,315.9 412.5,315.9 414.0,316.0 415.0,316.0 415.5,316.0 417.0,316.1 418.5,316.1 420.0,316.2 421.5,316.2 423.0,316.3 424.5,316.3 426.0,316.4 427.5,316.4 429.0,316.5 430.5,316.6 432.0,316.6 433.5,316.7 435.0,316.7 436.5,316.8 438.0,316.8 439.5,316.9 441.0,316.9 442.5,317.0 444.0,317.1 445.5,317.1 447.0,317.2 448.5,317.3 450.0,317.3 451.5,317.4 453.0,317.5 454.5,317.5 456.0,317.6 457.5,317.7 459.0,317.8 460.5,317.9 462.0,318.0 463.5,318.0 465.0,318.1 466.5,318.2 468.0,318.3 469.5,318.4 471.0,318.5 472.5,318.7 474.0,318.8 475.5,318.9 477.0,319.0 478.5,319.1 480.0,319.3 481.5,319.5 483.0,319.7 484.5,319.9 486.0,320.2 487.5,320.4 489.0,320.7 490.5,321.0 492.0,321.3 493.5,321.7 495.0,322.0 496.5,322.3 498.0,322.7 499.5,323.0 501.0,323.4 502.5,323.8 504.0,324.1 505.5,324.5 507.0,324.9 508.5,325.2 510.0,325.6 511.5,325.9 513.0,326.3 514.5,326.6 516.0,326.9 517.5,327.2 519.0,327.5 520.5,327.8 522.0,328.1 523.5,328.4 525.0,328.7 526.5,329.0 528.0,329.3 529.5,329.6 531.0,329.9 532.5,330.3 534.0,330.6 535.5,330.9 537.0,331.2 538.5,331.6 540.0,331.9 541.5,332.2 543.0,332.5 544.5,332.9 546.0,333.2 547.5,333.5 549.0,333.8 550.5,334.1 552.0,334.5 553.5,334.8 555.0,335.1 556.5,335.4 558.0,335.7 559.5,336.0 561.0,336.2 562.5,336.5 564.0,336.8 565.5,337.1 567.0,337.3 568.5,337.6 570.0,337.8 571.5,338.0 573.0,338.2 574.5,338.5 576.0,338.7 577.5,338.8 579.0,339.0 580.5,339.2 582.0,339.3 583.5,339.5 585.0,339.6 586.5,339.7 588.0,339.8 589.5,339.9 590.0,339.9 591.0,339.9 592.5,340.0 594.0,340.1 595.5,340.1 597.0,340.2 598.5,340.3 600.0,340.3 601.5,340.4 603.0,340.5 604.5,340.5 606.0,340.6 607.5,340.6 609.0,340.7 610.5,340.7 612.0,340.8 613.5,340.9 615.0,340.9 616.5,341.0 618.0,341.0 619.5,341.1 621.0,341.1 622.5,341.2 624.0,341.2 625.5,341.2 627.0,341.3 628.5,341.3 630.0,341.4 631.5,341.4 633.0,341.5 634.5,341.5 636.0,341.5 637.5,341.6 639.0,341.6 640.5,341.6 642.0,341.7 643.5,341.7 645.0,341.7 646.5,341.8 648.0,341.8 649.5,341.8 651.0,341.8 652.5,341.9 654.0,341.9 655.5,341.9 657.0,341.9 658.5,341.9 660.0,341.9 661.5,342.0 663.0,342.0 664.5,342.0 666.0,342.0 667.5,342.0 669.0,342.0 670.5,342.0 672.0,342.0 673.0,342.0 673.5,342.0 675.0,342.0 676.5,342.0 678.0,342.0 679.5,342.0 681.0,342.0 682.5,342.0 684.0,342.0 685.5,342.0 687.0,342.0 688.5,342.0 690.0,342.0 691.5,342.0 693.0,342.0 694.5,342.0 696.0,341.9 697.5,341.9 699.0,341.9 700.5,341.9 702.0,341.9 703.5,341.9 705.0,341.9 706.5,341.9 708.0,341.9 709.5,341.9 711.0,341.9 712.5,341.9 714.0,341.9 715.5,341.8 717.0,341.8 718.5,341.8 720.0,341.8 721.5,341.8 723.0,341.8 724.5,341.8 726.0,341.8 727.5,341.8 729.0,341.8 730.5,341.7 732.0,341.7 733.5,341.7 735.0,341.7 736.5,341.7 738.0,341.7 739.5,341.7 741.0,341.7 742.5,341.7 744.0,341.7 745.5,341.7 747.0,341.6 748.5,341.6 750.0,341.6 751.5,341.6 753.0,341.6 754.5,341.6 756.0,341.6 757.5,341.6 759.0,341.6 760.5,341.6 762.0,341.6 763.5,341.6 765.0,341.6 766.5,341.5 768.0,341.5 769.5,341.5 771.0,341.5 772.5,341.5 774.0,341.5 775.5,341.5 777.0,341.5 778.5,341.5 780.0,341.5 781.5,341.5 783.0,341.5 784.5,341.5 786.0,341.5 787.5,341.5 787.6,341.5 789.0,341.6 790.5,341.8 792.0,342.2 793.5,342.6 795.0,343.1 796.5,343.6 798.0,344.1 799.5,344.7 801.0,345.3 802.5,346.0 804.0,346.8 805.5,347.4 806.4,347.8 807.0,348.0 808.5,348.7 810.0,349.3 811.5,350.0 813.0,350.6 814.5,351.2 816.0,351.6 817.5,351.9 819.0,352.0 820.5,351.5 822.0,350.5 823.5,349.5 825.0,349.0 826.5,349.4 828.0,350.5 829.5,352.1 831.0,354.0 832.5,357.6 834.0,363.3 835.5,368.9 837.0,372.4 837.6,372.8 838.5,372.3 840.0,370.1 841.5,367.6 842.8,366.6 843.0,366.6 844.5,367.1 846.0,368.0 847.5,369.3 849.0,370.5 850.5,371.4 852.0,371.8 853.5,371.6 855.0,371.2 856.5,370.9 858.0,370.7 859.5,373.3 861.0,380.1 862.5,389.5 864.0,399.9 864.6,404.0 865.5,410.8 866.6,421.5 867.0,426.4 868.5,450.6 870.0,480.0 871.5,515.2 872.5,540.0 873.0,553.8 874.5,592.3 874.8,594.0 876.0,588.2 877.5,573.8 878.0,570.0 879.0,563.1 880.5,553.3 881.8,549.6 882.0,550.2 883.5,583.8 884.0,600.0 885.0,652.7 886.0,704.0 886.5,717.5 888.0,747.6 889.5,771.4 890.0,780.0 891.0,798.4 892.5,825.5 894.0,850.0 895.5,874.2 896.0,877.0 897.0,867.6 898.0,850.0 898.5,841.3 900.0,809.6 901.5,772.8 902.0,760.0 903.0,730.9 904.5,681.9 906.0,640.0 907.5,609.7 909.0,584.5 910.0,570.0 910.5,563.0 912.0,541.4 913.5,522.4 915.0,510.6 915.5,509.0 916.5,507.4 918.0,505.8 919.0,505.4 919.5,506.0 921.0,513.0 922.0,520.0 922.5,524.5 924.0,545.2 925.0,561.0 925.5,569.0 927.0,596.4 928.5,624.2 929.5,640.0 930.0,646.7 931.5,664.2 932.0,670.0 933.0,684.3 934.5,703.2 935.0,705.0 936.0,688.9 937.0,660.0 937.5,647.0 939.0,600.0 940.5,511.6 941.0,491.0 942.0,469.0 943.5,446.5 944.7,433.0 945.0,429.8 946.5,414.3 948.0,401.1 949.5,391.0 950.5,386.6 951.0,385.0 952.5,380.8 954.0,377.3 955.5,374.4 957.0,372.0 958.5,369.9 960.0,368.0 961.5,366.2 963.0,364.6 964.5,363.2 966.0,361.9 967.5,360.7 969.0,359.5 970.5,358.3 971.5,357.5 972.0,357.1 973.5,355.8 975.0,354.5 976.5,353.2 978.0,352.0 979.5,350.9 981.0,350.0 982.5,349.2 983.0,349.0 984.0,348.6 985.5,348.1 987.0,347.6 988.5,347.1 990.0,346.7 991.5,346.3 993.0,346.1 994.5,346.0 995.0,346.0 996.0,346.3 997.5,347.5 999.0,348.6 1000.0,349.0 1000.5,349.0 1002.0,349.1 1003.5,349.3 1005.0,349.3 1006.5,349.4 1008.0,349.5 1009.5,349.6 1011.0,349.6 1012.5,349.7 1014.0,349.8 1015.5,349.8 1017.0,349.8 1018.5,349.9 1020.0,349.9 1021.5,349.9 1023.0,350.0 1024.5,350.0 1026.0,350.0 1027.5,350.0 1029.0,350.0 1030.5,350.0 1031.0,350.0 1032.0,350.0 1033.5,350.0 1035.0,349.9 1036.5,349.8 1038.0,349.6 1039.5,349.5 1041.0,349.3 1042.5,349.1 1044.0,348.9 1045.5,348.7 1047.0,348.4 1048.5,348.2 1050.0,347.9 1051.5,347.7 1053.0,347.4 1054.5,347.1 1056.0,346.9 1057.5,346.6 1059.0,346.3 1060.5,346.1 1062.0,345.9 1062.4,345.8 1063.5,345.6 1065.0,345.4 1066.5,345.2 1068.0,345.0 1069.5,344.8 1071.0,344.5 1072.5,344.3 1074.0,344.1 1075.5,343.9 1077.0,343.7 1078.5,343.5 1080.0,343.2 1081.5,343.0 1083.0,342.8 1084.5,342.5 1086.0,342.3 1087.5,342.0 1089.0,341.8 1090.5,341.5 1092.0,341.2 1093.5,340.9 1095.0,340.6 1096.5,340.3 1098.0,340.0 1099.5,339.6 1101.0,339.3 1102.5,338.9 1104.0,338.5 1105.5,338.0 1107.0,337.4 1108.5,336.6 1110.0,335.8 1111.5,334.9 1113.0,334.1 1114.5,333.3 1116.0,332.7 1117.5,332.3 1119.0,332.0 1119.6,332.0 1120.5,332.1 1122.0,332.9 1123.5,334.0 1125.0,335.2 1126.5,336.4 1128.0,337.2 1129.0,337.4 1129.5,337.4 1131.0,337.5 1132.5,337.6 1134.0,337.6 1135.5,337.7 1137.0,337.7 1138.5,337.8 1140.0,337.8 1141.5,337.9 1143.0,337.9 1144.5,338.0 1146.0,338.0 1147.5,338.1 1149.0,338.1 1150.5,338.1 1152.0,338.2 1153.5,338.2 1155.0,338.2 1156.5,338.3 1158.0,338.3 1159.5,338.3 1161.0,338.3 1162.5,338.4 1164.0,338.4 1165.5,338.4 1167.0,338.4 1168.5,338.4 1170.0,338.4 1171.5,338.5 1173.0,338.5 1174.5,338.5 1176.0,338.5 1177.5,338.5 1179.0,338.5 1180.5,338.5 1182.0,338.5 1183.5,338.5 1185.0,338.5 1186.5,338.5 1187.0,338.5 1188.0,338.5 1189.5,338.5 1191.0,338.5 1192.5,338.4 1194.0,338.4 1195.5,338.3 1197.0,338.3 1198.5,338.2 1200.0,338.1 1201.5,338.1 1203.0,338.0 1204.5,337.9 1206.0,337.8 1207.5,337.7 1209.0,337.6 1210.5,337.4 1212.0,337.3 1213.5,337.2 1215.0,337.0 1216.5,336.9 1218.0,336.8 1219.5,336.6 1221.0,336.5 1222.5,336.3 1224.0,336.1 1225.5,336.0 1227.0,335.8 1228.5,335.7 1230.0,335.5 1231.5,335.3 1233.0,335.2 1234.5,335.0 1236.0,334.8 1237.5,334.6 1239.0,334.5 1240.5,334.3 1242.0,334.1 1243.5,334.0 1245.0,333.8 1246.5,333.6 1248.0,333.5 1249.5,333.3 1249.6,333.3 1251.0,333.2 1252.5,333.0 1254.0,332.8 1255.5,332.7 1257.0,332.5 1258.5,332.4 1260.0,332.2 1261.5,332.1 1263.0,331.9 1264.5,331.7 1266.0,331.5 1267.5,331.3 1269.0,331.1 1270.5,330.9 1272.0,330.7 1273.5,330.4 1275.0,330.2 1276.5,329.9 1278.0,329.6 1279.5,329.3 1281.0,329.0 1282.5,328.6 1284.0,328.0 1285.5,327.3 1287.0,326.6 1288.5,326.0 1290.0,325.4 1291.5,324.9 1293.0,324.3 1294.5,323.8 1296.0,323.3 1297.5,322.8 1299.0,322.4 1300.5,322.1 1302.0,322.0 1302.5,322.0 1303.5,322.0 1305.0,322.2 1306.5,322.5 1308.0,322.8 1309.5,323.2 1311.0,323.5 1312.5,323.8 1314.0,324.0 1315.0,324.0 1315.5,323.8 1317.0,321.0 1318.5,316.8 1320.0,313.6 1320.8,313.0 1321.5,313.2 1323.0,315.1 1324.5,318.0 1326.0,321.0 1327.4,323.0 1327.5,323.1 1329.0,324.6 1330.5,326.0 1332.0,327.3 1333.5,328.5 1335.0,329.4 1336.5,330.2 1337.8,330.6 1338.0,330.6 1339.5,331.0 1341.0,331.3 1342.5,331.6 1344.0,331.9 1345.5,332.1 1347.0,332.3 1348.5,332.4 1350.0,332.5 1351.5,332.6 1352.4,332.6 1353.0,332.6 1354.5,332.6 1356.0,332.5 1357.5,332.4 1359.0,332.3 1360.5,332.1 1362.0,332.0 1363.5,331.7 1365.0,331.5 1366.5,331.2 1368.0,330.9 1369.5,330.6 1371.0,330.3 1372.5,329.9 1374.0,329.5 1375.5,329.1 1377.0,328.6 1377.4,328.5 1378.5,328.0 1380.0,326.7 1381.5,324.9 1383.0,322.9 1384.5,320.7 1386.0,318.7 1387.5,316.9 1389.0,315.5 1390.0,315.0 1390.5,314.8 1392.0,314.3 1393.5,313.8 1395.0,313.4 1396.5,313.1 1398.0,313.0 1399.5,313.2 1401.0,313.7 1402.5,314.5 1404.0,315.4 1405.5,316.4 1406.5,317.0 1407.0,317.3 1408.5,318.6 1410.0,320.1 1411.5,321.7 1413.0,323.2 1414.5,324.5 1416.0,325.2 1417.0,325.4 1417.5,325.4 1419.0,325.0 1420.5,324.4 1422.0,323.8 1423.5,323.2 1425.0,323.0 1426.5,323.5 1428.0,324.7 1429.5,326.3 1431.0,328.1 1432.5,329.8 1434.0,331.1 1435.5,331.6 1435.6,331.6 1437.0,331.6 1438.5,331.4 1440.0,331.2 1441.5,331.0 1443.0,330.8 1444.5,330.7 1446.0,330.6 1447.5,330.6 1449.0,330.6 1450.5,330.6 1452.0,330.6 1453.5,330.6 1455.0,330.6 1456.5,330.6 1458.0,330.6 1459.5,330.6 1461.0,330.6 1462.5,330.6 1464.0,330.6 1465.5,330.6 1467.0,330.6 1468.5,330.6 1470.0,330.6 1471.5,330.6 1473.0,330.6 1474.5,330.6 1476.0,330.6 1477.0,330.6 1477.5,330.6 1479.0,330.5 1480.5,330.2 1482.0,329.9 1483.5,329.5 1485.0,329.0 1486.5,328.5 1488.0,328.0 1489.5,327.4 1491.0,326.9 1492.5,326.4 1494.0,326.0 1495.5,325.7 1497.0,325.5 1498.0,325.4 1498.5,325.4 1500.0,325.3 1501.5,325.2 1503.0,325.2 1504.5,325.1 1506.0,325.0 1507.5,325.0 1509.0,324.9 1510.5,324.8 1512.0,324.8 1513.5,324.7 1515.0,324.7 1516.5,324.6 1518.0,324.6 1519.5,324.6 1521.0,324.5 1522.5,324.5 1524.0,324.5 1525.5,324.4 1527.0,324.4 1528.5,324.4 1530.0,324.4 1531.5,324.3 1533.0,324.3 1534.5,324.3 1536.0,324.3 1537.5,324.3 1539.0,324.3 1539.6,324.3 1540.5,324.3 1542.0,324.4 1543.5,324.6 1545.0,324.9 1546.5,325.3 1548.0,325.7 1549.5,326.3 1551.0,326.9 1552.0,327.4 1552.5,327.9 1554.0,331.5 1555.5,337.4 1557.0,343.8 1558.5,349.3 1560.0,352.2 1560.4,352.4 1561.5,351.9 1563.0,349.8 1564.5,346.8 1566.0,343.5 1566.7,342.0 1567.5,340.1 1569.0,335.6 1570.5,330.9 1572.0,327.4 1573.0,326.4 1573.5,326.3 1575.0,326.0 1576.5,325.7 1578.0,325.5 1579.5,325.4 1581.0,325.4 1582.5,325.7 1584.0,326.4 1585.5,327.3 1587.0,328.3 1588.5,329.1 1590.0,329.5 1591.5,329.6 1593.0,329.7 1594.5,329.8 1596.0,329.9 1597.5,330.0 1598.0,330.0 1599.0,330.1 1600.5,330.4 1602.0,330.7 1603.5,331.1 1605.0,331.3 1606.5,331.5 1607.7,331.6 1608.0,331.6 1609.5,330.8 1611.0,329.4 1612.5,327.9 1614.0,326.9 1614.7,326.8 1615.5,326.8 1617.0,326.9 1618.5,327.0 1620.0,327.2 1621.5,327.4 1621.6,327.4 1623.0,328.2 1624.5,329.8 1625.8,331.6 1626.0,331.9 1627.5,335.9 1629.0,340.2 1630.0,341.3 1630.5,340.9 1632.0,336.1 1633.5,330.8 1634.0,330.0 1635.0,329.3 1636.5,328.7 1638.0,328.2 1639.5,327.5 1639.6,327.4 1641.0,325.9 1642.5,323.6 1644.0,321.5 1645.0,320.5 1645.5,320.2 1647.0,319.2 1648.5,318.4 1650.0,317.6 1651.5,317.0 1653.0,316.4 1654.5,315.9 1656.0,315.4 1657.5,315.0 1657.7,315.0 1659.0,314.7 1660.5,314.3 1662.0,314.0 1663.5,313.7 1665.0,313.4 1666.5,313.1 1668.0,312.8 1669.5,312.6 1671.0,312.4 1672.5,312.2 1674.0,312.1 1675.5,312.0 1677.0,312.0 1678.5,312.0 1680.0,312.0 1681.5,312.0 1683.0,312.0 1684.0,312.0 1684.5,312.3 1686.0,315.8 1687.5,322.2 1688.0,324.7 1689.0,335.9 1690.5,357.1 1691.0,359.3 1692.0,354.1 1693.5,336.5 1695.0,326.0 1696.5,326.2 1698.0,326.7 1699.3,327.4 1699.5,328.1 1701.0,353.9 1702.0,373.0 1702.5,379.3 1704.0,396.5 1705.5,411.6 1707.0,425.2 1708.5,438.3 1709.0,442.6 1710.0,452.5 1711.5,466.6 1712.5,470.3 1713.0,469.1 1714.5,454.9 1716.0,435.2 1716.6,428.7 1717.5,420.5 1719.0,407.5 1720.5,395.1 1721.5,387.0 1722.0,382.8 1723.5,369.1 1725.0,356.2 1726.5,347.1 1727.0,345.5 1728.0,343.3 1729.5,341.4 1729.8,341.3 1731.0,343.3 1732.5,348.7 1734.0,352.4 1735.5,353.5 1736.7,353.8 1737.0,353.7 1738.5,351.2 1740.0,346.4 1741.5,341.4 1742.0,340.0 1743.0,337.0 1744.5,331.8 1746.0,327.2 1747.5,324.8 1747.8,324.7 1749.0,328.8 1750.5,340.8 1752.0,352.4 1753.5,362.3 1755.0,369.8 1755.5,370.4 1756.5,367.0 1758.0,355.0 1759.0,348.0 1759.5,345.5 1761.0,338.2 1762.5,331.8 1764.0,327.1 1764.5,326.0 1765.5,324.3 1767.0,322.3 1768.5,320.6 1770.0,319.2 1771.4,318.0 1771.5,317.9 1773.0,316.5 1774.5,315.1 1776.0,313.7 1777.5,312.5 1779.0,311.5 1780.5,310.8 1782.0,310.5 1782.2,310.5 1783.5,310.7 1785.0,311.3 1786.5,312.2 1788.0,313.5 1789.5,315.1 1791.0,316.8 1792.5,318.8 1794.0,320.8 1795.5,323.0 1797.0,325.1 1797.5,325.8 1798.5,327.2 1800.0,329.2 1801.5,331.4 1803.0,334.0 1804.5,337.3 1806.0,341.4 1807.5,346.6 1808.0,348.6 1809.0,355.6 1810.5,374.9 1811.2,386.8 1812.0,406.3 1813.5,462.7 1814.2,493.6 1815.0,535.5 1816.5,631.2 1817.3,680.0 1818.0,724.8 1819.5,823.4 1820.6,855.0 1821.0,849.1 1822.5,761.9 1823.5,700.0 1824.0,679.0 1825.0,640.0 1825.5,617.2 1827.0,542.4 1828.0,508.8 1828.5,499.1 1830.0,474.4 1831.5,461.9 1831.8,461.5 1833.0,462.8 1834.5,467.5 1836.0,474.1 1837.5,481.2 1838.6,486.0 1839.0,487.6 1840.5,493.8 1842.0,500.4 1843.5,507.2 1845.0,514.1 1846.5,521.2 1848.0,528.2 1849.5,535.2 1851.0,542.0 1852.5,548.5 1854.0,554.6 1855.5,560.4 1857.0,566.1 1858.5,571.7 1860.0,577.1 1861.5,582.4 1863.0,587.6 1864.5,592.8 1866.0,597.9 1867.5,603.0 1869.0,608.0 1870.5,612.8 1872.0,617.1 1873.5,621.3 1875.0,625.7 1876.5,630.5 1878.0,635.9 1879.0,640.0 1879.5,642.3 1881.0,650.0 1882.5,658.9 1884.0,669.0 1885.5,680.0 1887.0,691.8 1888.0,700.0 1888.5,704.2 1890.0,717.6 1891.5,732.3 1893.0,748.2 1894.5,765.6 1896.0,784.6 1897.5,805.2 1897.8,809.5 1899.0,828.5 1900.5,856.2 1902.0,887.0 1903.5,919.8 1904.8,949.0 1905.0,953.6 1906.5,992.7 1908.0,1033.6 1909.4,1065.6 1909.5,1067.5 1911.0,1095.5 1912.5,1119.6 1914.0,1135.5 1915.5,1144.0 1917.0,1150.1 1918.3,1155.0 1918.5,1155.8 1920.0,1162.7 1921.5,1167.6 1922.0,1168.0 1923.0,1167.7 1924.5,1166.3 1926.0,1164.4 1927.5,1162.5 1928.0,1162.0 1929.0,1160.9 1930.5,1159.0 1932.0,1157.2 1933.5,1155.9 1934.7,1155.5 1935.0,1155.5 1936.5,1156.6 1938.0,1159.1 1939.5,1162.7 1941.0,1167.2 1942.5,1172.5 1943.8,1177.4 1944.0,1178.2 1945.5,1187.7 1947.0,1200.9 1948.5,1215.5 1949.3,1223.0 1950.0,1229.9 1951.5,1246.9 1953.0,1263.6 1954.5,1276.1 1954.8,1277.7 1956.0,1283.4 1957.5,1287.0 1959.0,1283.7 1960.2,1277.7 1960.5,1275.5 1962.0,1252.4 1963.5,1217.2 1964.0,1204.7 1965.0,1177.8 1965.7,1150.0 1966.5,1069.7 1967.6,949.0 1968.0,930.4 1969.5,878.5 1971.0,842.8 1972.0,820.0 1972.5,808.0 1974.0,774.3 1975.5,743.9 1977.0,716.4 1978.5,692.4 1980.0,670.7 1981.0,656.0 1981.5,648.6 1983.0,627.5 1984.5,605.7 1986.0,580.0 1987.5,544.4 1989.0,503.6 1990.0,480.0 1990.5,469.8 1992.0,439.9 1993.5,412.6 1995.0,389.7 1996.0,377.8 1996.5,372.7 1998.0,358.4 1999.5,347.0 2001.0,340.0 2002.5,336.0 2004.0,332.7 2005.5,330.3 2007.0,329.1 2007.5,329.0 2008.5,330.9 2010.0,339.4 2011.5,351.1 2013.0,362.5 2014.5,369.8 2015.2,370.8 2016.0,370.0 2017.5,365.3 2019.0,359.0 2020.5,353.9 2021.5,352.7 2022.0,353.1 2023.5,358.9 2025.0,369.9 2026.5,384.2 2028.0,399.9 2029.5,415.2 2030.0,419.8 2031.0,429.7 2032.5,446.4 2034.0,462.8 2035.5,475.7 2037.0,486.2 2038.5,495.7 2040.0,502.2 2041.0,503.6 2041.5,503.2 2043.0,498.1 2044.5,489.7 2046.0,481.2 2047.5,476.1 2048.0,475.7 2049.0,476.9 2050.5,482.1 2052.0,489.6 2053.5,500.4 2055.0,516.6 2056.5,537.8 2057.8,559.5 2058.0,563.3 2059.5,602.6 2060.6,640.0 2061.0,655.4 2062.5,728.2 2064.0,814.4 2065.5,900.0 2066.5,950.0 2067.0,972.9 2068.5,1042.4 2070.0,1108.2 2071.5,1164.9 2072.8,1202.0 2073.0,1206.7 2074.5,1241.5 2076.0,1273.8 2077.5,1300.2 2079.0,1317.7 2080.3,1323.0 2080.5,1322.7 2082.0,1303.8 2083.5,1264.0 2085.0,1215.1 2085.4,1202.0 2086.5,1157.2 2088.0,1076.9 2089.5,993.1 2090.4,950.0 2091.0,924.4 2092.5,863.2 2094.0,811.4 2094.4,800.0 2095.5,771.5 2097.0,736.1 2098.5,704.3 2100.0,675.4 2101.5,649.0 2103.0,624.5 2104.5,601.5 2104.8,597.0 2106.0,579.0 2107.5,556.8 2109.0,536.6 2110.5,520.0 2112.0,508.5 2113.5,501.4 2115.0,496.2 2116.5,491.6 2118.0,486.4 2119.5,479.2 2121.0,470.9 2122.5,464.1 2124.0,461.3 2125.5,482.8 2126.0,493.8 2127.0,521.2 2128.4,567.5 2128.5,570.5 2130.0,609.9 2131.3,656.0 2131.5,668.4 2133.0,833.8 2133.5,856.0 2134.5,794.4 2135.7,685.6 2136.0,671.5 2137.5,614.8 2138.7,582.3 2139.0,575.4 2140.5,544.2 2142.0,519.9 2143.0,508.5 2143.5,503.9 2145.0,490.7 2146.5,479.8 2148.0,473.0 2149.0,471.6 2149.5,471.6 2151.0,471.6 2152.5,471.6 2153.4,471.6 2154.0,470.5 2155.5,459.3 2157.0,437.4 2157.9,420.0 2158.5,391.6 2159.3,351.4 2160.0,339.6 2161.5,322.0 2162.8,316.4 2163.0,316.3 2164.5,315.7 2166.0,315.4 2167.5,315.3 2169.0,315.6 2170.5,316.4 2172.0,317.3 2173.5,318.2 2175.0,318.7 2175.6,318.8 2176.5,318.6 2178.0,317.3 2179.5,315.3 2181.0,313.1 2182.5,311.1 2184.0,309.8 2185.0,309.5 2185.5,309.5 2187.0,309.6 2188.5,309.8 2190.0,310.0 2191.5,310.4 2193.0,310.7 2194.5,311.2 2196.0,311.6 2196.6,311.8 2197.5,312.2 2199.0,313.1 2200.5,314.3 2202.0,315.7 2203.5,317.0 2205.0,318.3 2206.5,319.3 2208.0,320.0 2208.2,320.0 2209.5,320.2 2211.0,320.4 2212.5,320.5 2214.0,320.7 2215.2,321.0 2215.5,321.2 2217.0,325.5 2218.5,331.3 2219.9,334.0 2220.0,334.0 2221.5,332.3 2223.0,328.9 2223.4,328.0 2224.5,324.6 2226.0,318.3 2227.5,312.2 2228.0,310.6 2229.0,307.5 2230.5,303.5 2231.5,302.5 2232.0,302.7 2233.5,305.4 2235.0,310.7 2236.2,316.4 2236.5,318.5 2238.0,343.0 2239.5,379.6 2240.8,409.6 2241.0,413.5 2242.5,442.1 2244.0,470.3 2245.5,500.0 2247.0,533.5 2248.5,568.6 2250.0,600.0 2251.5,627.0 2253.0,651.8 2254.5,674.2 2255.7,690.0 2256.0,693.8 2257.5,713.8 2259.0,733.4 2260.5,749.5 2262.0,758.8 2262.7,760.0 2263.5,758.6 2265.0,749.4 2266.5,733.6 2268.0,714.0 2269.5,692.8 2269.7,690.0 2271.0,667.7 2272.5,635.0 2274.0,600.0 2275.5,563.0 2277.0,524.2 2278.0,500.0 2278.5,488.6 2280.0,454.9 2281.5,422.8 2283.0,392.9 2284.0,374.7 2284.5,366.1 2286.0,341.9 2287.5,319.9 2288.6,304.8 2289.0,298.9 2290.5,277.9 2291.0,275.7 2292.0,277.9 2293.5,286.6 2294.4,293.0 2295.0,297.9 2296.5,314.0 2296.7,316.4 2298.0,334.0"/>
<polyline fill="none" stroke="#ff0000" stroke-width="2.3" stroke-linejoin="round" points="297.0,312.7 298.5,312.7 300.0,312.7 301.5,312.8 303.0,312.8 304.5,312.8 306.0,312.8 307.5,312.9 309.0,312.9 310.5,312.9 312.0,313.0 313.5,313.0 315.0,313.0 316.5,313.0 318.0,313.1 319.5,313.1 321.0,313.1 322.5,313.2 324.0,313.2 325.5,313.2 327.0,313.3 328.5,313.3 330.0,313.3 331.5,313.4 333.0,313.4 334.5,313.4 336.0,313.5 337.5,313.5 339.0,313.6 340.5,313.6 342.0,313.6 343.5,313.7 345.0,313.7 346.5,313.8 348.0,313.8 349.5,313.8 351.0,313.9 352.5,313.9 354.0,314.0 355.5,314.0 357.0,314.1 358.5,314.1 360.0,314.1 361.5,314.2 363.0,314.2 364.5,314.3 366.0,314.3 367.5,314.4 369.0,314.4 370.5,314.5 372.0,314.5 373.5,314.6 375.0,314.6 376.5,314.7 378.0,314.7 379.5,314.8 381.0,314.8 382.5,314.9 384.0,314.9 385.5,315.0 387.0,315.0 388.5,315.1 390.0,315.1 391.5,315.2 393.0,315.2 394.5,315.3 396.0,315.3 397.5,315.4 399.0,315.4 400.5,315.5 402.0,315.5 403.5,315.6 405.0,315.6 406.5,315.7 408.0,315.7 409.5,315.8 411.0,315.9 412.5,315.9 414.0,316.0 415.0,316.0 415.5,316.0 417.0,316.1 418.5,316.1 420.0,316.2 421.5,316.2 423.0,316.3 424.5,316.3 426.0,316.4 427.5,316.5 429.0,316.5 430.5,316.6 432.0,316.6 433.5,316.7 435.0,316.7 436.5,316.8 438.0,316.9 439.5,316.9 441.0,317.0 442.5,317.1 444.0,317.1 445.5,317.2 447.0,317.2 448.5,317.3 450.0,317.4 451.5,317.5 453.0,317.5 454.5,317.6 456.0,317.7 457.5,317.8 459.0,317.8 460.5,317.9 462.0,318.0 463.5,318.1 465.0,318.2 466.5,318.3 468.0,318.4 469.5,318.5 471.0,318.6 472.5,318.7 474.0,318.8 475.5,318.9 477.0,319.0 478.5,319.1 480.0,319.2 481.5,319.4 483.0,319.5 484.5,319.7 486.0,319.9 487.5,320.1 489.0,320.3 490.5,320.5 492.0,320.7 493.5,320.9 495.0,321.1 496.5,321.3 498.0,321.6 499.5,321.8 501.0,322.1 502.5,322.3 504.0,322.5 505.5,322.8 507.0,323.0 508.5,323.3 510.0,323.5 511.5,323.8 513.0,324.0 514.5,324.3 516.0,324.5 517.5,324.8 519.0,325.0 520.5,325.2 522.0,325.5 523.5,325.7 525.0,326.0 526.5,326.3 528.0,326.6 529.5,326.9 531.0,327.2 532.5,327.5 534.0,327.8 535.5,328.1 537.0,328.4 538.5,328.7 540.0,329.0 541.5,329.4 543.0,329.7 544.5,330.0 546.0,330.3 547.5,330.7 549.0,331.0 550.5,331.3 552.0,331.6 553.5,332.0 555.0,332.3 556.5,332.6 558.0,332.9 559.5,333.2 561.0,333.5 562.5,333.8 564.0,334.1 565.5,334.4 567.0,334.7 568.5,334.9 570.0,335.2 571.5,335.4 573.0,335.6 574.5,335.9 576.0,336.1 577.5,336.3 579.0,336.5 580.5,336.6 582.0,336.8 583.5,336.9 585.0,337.1 586.5,337.2 588.0,337.3 589.5,337.4 590.0,337.4 591.0,337.4 592.5,337.5 594.0,337.6 595.5,337.6 597.0,337.7 598.5,337.8 600.0,337.8 601.5,337.9 603.0,338.0 604.5,338.0 606.0,338.1 607.5,338.1 609.0,338.2 610.5,338.2 612.0,338.3 613.5,338.4 615.0,338.4 616.5,338.5 618.0,338.5 619.5,338.6 621.0,338.6 622.5,338.7 624.0,338.7 625.5,338.7 627.0,338.8 628.5,338.8 630.0,338.9 631.5,338.9 633.0,339.0 634.5,339.0 636.0,339.0 637.5,339.1 639.0,339.1 640.5,339.1 642.0,339.2 643.5,339.2 645.0,339.2 646.5,339.3 648.0,339.3 649.5,339.3 651.0,339.3 652.5,339.4 654.0,339.4 655.5,339.4 657.0,339.4 658.5,339.4 660.0,339.4 661.5,339.5 663.0,339.5 664.5,339.5 666.0,339.5 667.5,339.5 669.0,339.5 670.5,339.5 672.0,339.5 673.0,339.5 673.5,339.5 675.0,339.5 676.5,339.5 678.0,339.5 679.5,339.5 681.0,339.5 682.5,339.5 684.0,339.5 685.5,339.5 687.0,339.5 688.5,339.5 690.0,339.5 691.5,339.5 693.0,339.5 694.5,339.5 696.0,339.4 697.5,339.4 699.0,339.4 700.5,339.4 702.0,339.4 703.5,339.4 705.0,339.4 706.5,339.4 708.0,339.4 709.5,339.4 711.0,339.4 712.5,339.4 714.0,339.4 715.5,339.3 717.0,339.3 718.5,339.3 720.0,339.3 721.5,339.3 723.0,339.3 724.5,339.3 726.0,339.3 727.5,339.3 729.0,339.3 730.5,339.2 732.0,339.2 733.5,339.2 735.0,339.2 736.5,339.2 738.0,339.2 739.5,339.2 741.0,339.2 742.5,339.2 744.0,339.2 745.5,339.2 747.0,339.1 748.5,339.1 750.0,339.1 751.5,339.1 753.0,339.1 754.5,339.1 756.0,339.1 757.5,339.1 759.0,339.1 760.5,339.1 762.0,339.1 763.5,339.1 765.0,339.1 766.5,339.0 768.0,339.0 769.5,339.0 771.0,339.0 772.5,339.0 774.0,339.0 775.5,339.0 777.0,339.0 778.5,339.0 780.0,339.0 781.5,339.0 783.0,339.0 784.5,339.0 786.0,339.0 787.5,339.0 787.6,339.0 789.0,339.1 790.5,339.3 792.0,339.6 793.5,340.0 795.0,340.5 796.5,341.0 798.0,341.6 799.5,342.4 801.0,343.6 802.5,344.9 804.0,346.2 805.5,347.3 806.4,347.8 807.0,348.1 808.5,348.8 810.0,349.5 811.5,350.2 813.0,350.8 814.5,351.3 816.0,351.7 817.5,351.9 819.0,352.0 820.5,351.5 822.0,350.5 823.5,349.5 825.0,349.0 826.5,349.4 828.0,350.5 829.5,352.1 831.0,354.0 832.5,357.6 834.0,363.3 835.5,368.9 837.0,372.4 837.6,372.8 838.5,372.3 840.0,370.1 841.5,367.6 842.8,366.6 843.0,366.6 844.5,367.1 846.0,368.0 847.5,369.3 849.0,370.5 850.5,371.4 852.0,371.8 853.5,371.6 855.0,371.2 856.5,370.9 858.0,370.7 859.5,373.3 861.0,380.1 862.5,389.5 864.0,399.9 864.6,404.0 865.5,410.8 866.6,421.5 867.0,426.4 868.5,450.6 870.0,480.0 871.5,515.2 872.5,540.0 873.0,553.8 874.5,592.3 874.8,594.0 876.0,588.2 877.5,573.8 878.0,570.0 879.0,563.1 880.5,553.3 881.8,549.6 882.0,550.2 883.5,583.8 884.0,600.0 885.0,652.7 886.0,704.0 886.5,717.5 888.0,747.6 889.5,771.4 890.0,780.0 891.0,799.2 892.5,828.1 894.0,850.0 895.5,864.5 896.0,866.0 897.0,860.8 898.0,850.0 898.5,843.2 900.0,812.3 901.5,773.1 902.0,760.0 903.0,730.9 904.5,681.9 906.0,640.0 907.5,609.7 909.0,584.5 910.0,570.0 910.5,563.0 912.0,541.4 913.5,522.4 915.0,510.6 915.5,509.0 916.5,507.4 918.0,505.8 919.0,505.4 919.5,506.0 921.0,513.0 922.0,520.0 922.5,524.5 924.0,545.2 925.0,561.0 925.5,569.0 927.0,596.4 928.5,624.2 929.5,640.0 930.0,646.8 931.5,664.8 932.0,670.0 933.0,680.9 934.5,693.8 935.0,695.0 936.0,683.0 937.0,660.0 937.5,648.0 939.0,600.0 940.5,511.6 941.0,491.0 942.0,469.0 943.5,446.5 944.7,433.0 945.0,429.8 946.5,414.3 948.0,401.1 949.5,391.0 950.5,386.6 951.0,385.0 952.5,380.8 954.0,377.3 955.5,374.4 957.0,372.0 958.5,369.9 960.0,368.0 961.5,366.2 963.0,364.6 964.5,363.2 966.0,361.9 967.5,360.7 969.0,359.5 970.5,358.3 971.5,357.5 972.0,357.1 973.5,355.8 975.0,354.5 976.5,353.2 978.0,352.0 979.5,350.9 981.0,350.0 982.5,349.2 983.0,349.0 984.0,348.6 985.5,348.1 987.0,347.6 988.5,347.1 990.0,346.7 991.5,346.3 993.0,346.1 994.5,346.0 995.0,346.0 996.0,346.3 997.5,347.5 999.0,348.6 1000.0,349.0 1000.5,349.0 1002.0,349.1 1003.5,349.3 1005.0,349.3 1006.5,349.4 1008.0,349.5 1009.5,349.6 1011.0,349.6 1012.5,349.7 1014.0,349.8 1015.5,349.8 1017.0,349.8 1018.5,349.9 1020.0,349.9 1021.5,349.9 1023.0,350.0 1024.5,350.0 1026.0,350.0 1027.5,350.0 1029.0,350.0 1030.5,350.0 1031.0,350.0 1032.0,350.0 1033.5,350.0 1035.0,349.9 1036.5,349.8 1038.0,349.6 1039.5,349.5 1041.0,349.3 1042.5,349.1 1044.0,348.9 1045.5,348.7 1047.0,348.4 1048.5,348.2 1050.0,347.9 1051.5,347.7 1053.0,347.4 1054.5,347.1 1056.0,346.9 1057.5,346.6 1059.0,346.3 1060.5,346.1 1062.0,345.9 1062.4,345.8 1063.5,345.6 1065.0,345.4 1066.5,345.2 1068.0,345.0 1069.5,344.8 1071.0,344.5 1072.5,344.3 1074.0,344.1 1075.5,343.9 1077.0,343.7 1078.5,343.5 1080.0,343.2 1081.5,343.0 1083.0,342.8 1084.5,342.5 1086.0,342.3 1087.5,342.0 1089.0,341.8 1090.5,341.5 1092.0,341.2 1093.5,340.9 1095.0,340.6 1096.5,340.3 1098.0,340.0 1099.5,339.6 1101.0,339.3 1102.5,338.9 1104.0,338.5 1105.5,338.0 1107.0,337.4 1108.5,336.6 1110.0,335.8 1111.5,334.9 1113.0,334.1 1114.5,333.3 1116.0,332.7 1117.5,332.3 1119.0,332.0 1119.6,332.0 1120.5,332.1 1122.0,332.9 1123.5,334.0 1125.0,335.2 1126.5,336.4 1128.0,337.2 1129.0,337.4 1129.5,337.4 1131.0,337.5 1132.5,337.6 1134.0,337.6 1135.5,337.7 1137.0,337.7 1138.5,337.8 1140.0,337.8 1141.5,337.9 1143.0,337.9 1144.5,338.0 1146.0,338.0 1147.5,338.1 1149.0,338.1 1150.5,338.1 1152.0,338.2 1153.5,338.2 1155.0,338.2 1156.5,338.3 1158.0,338.3 1159.5,338.3 1161.0,338.3 1162.5,338.4 1164.0,338.4 1165.5,338.4 1167.0,338.4 1168.5,338.4 1170.0,338.4 1171.5,338.5 1173.0,338.5 1174.5,338.5 1176.0,338.5 1177.5,338.5 1179.0,338.5 1180.5,338.5 1182.0,338.5 1183.5,338.5 1185.0,338.5 1186.5,338.5 1187.0,338.5 1188.0,338.5 1189.5,338.5 1191.0,338.5 1192.5,338.4 1194.0,338.4 1195.5,338.3 1197.0,338.3 1198.5,338.2 1200.0,338.1 1201.5,338.1 1203.0,338.0 1204.5,337.9 1206.0,337.8 1207.5,337.7 1209.0,337.6 1210.5,337.4 1212.0,337.3 1213.5,337.2 1215.0,337.0 1216.5,336.9 1218.0,336.8 1219.5,336.6 1221.0,336.5 1222.5,336.3 1224.0,336.1 1225.5,336.0 1227.0,335.8 1228.5,335.7 1230.0,335.5 1231.5,335.3 1233.0,335.2 1234.5,335.0 1236.0,334.8 1237.5,334.6 1239.0,334.5 1240.5,334.3 1242.0,334.1 1243.5,334.0 1245.0,333.8 1246.5,333.6 1248.0,333.5 1249.5,333.3 1249.6,333.3 1251.0,333.2 1252.5,333.0 1254.0,332.8 1255.5,332.7 1257.0,332.5 1258.5,332.4 1260.0,332.2 1261.5,332.1 1263.0,331.9 1264.5,331.7 1266.0,331.5 1267.5,331.3 1269.0,331.1 1270.5,330.9 1272.0,330.7 1273.5,330.4 1275.0,330.2 1276.5,329.9 1278.0,329.6 1279.5,329.3 1281.0,329.0 1282.5,328.6 1284.0,328.0 1285.5,327.3 1287.0,326.6 1288.5,326.0 1290.0,325.4 1291.5,324.9 1293.0,324.3 1294.5,323.8 1296.0,323.3 1297.5,322.8 1299.0,322.4 1300.5,322.1 1302.0,322.0 1302.5,322.0 1303.5,322.0 1305.0,322.2 1306.5,322.5 1308.0,322.8 1309.5,323.2 1311.0,323.5 1312.5,323.8 1314.0,324.0 1315.0,324.0 1315.5,323.8 1317.0,321.0 1318.5,316.8 1320.0,313.6 1320.8,313.0 1321.5,313.2 1323.0,315.1 1324.5,318.0 1326.0,321.0 1327.4,323.0 1327.5,323.1 1329.0,324.6 1330.5,326.0 1332.0,327.3 1333.5,328.5 1335.0,329.4 1336.5,330.2 1337.8,330.6 1338.0,330.6 1339.5,331.0 1341.0,331.3 1342.5,331.6 1344.0,331.9 1345.5,332.1 1347.0,332.3 1348.5,332.4 1350.0,332.5 1351.5,332.6 1352.4,332.6 1353.0,332.6 1354.5,332.6 1356.0,332.5 1357.5,332.4 1359.0,332.3 1360.5,332.1 1362.0,332.0 1363.5,331.7 1365.0,331.5 1366.5,331.2 1368.0,330.9 1369.5,330.6 1371.0,330.3 1372.5,329.9 1374.0,329.5 1375.5,329.1 1377.0,328.6 1377.4,328.5 1378.5,328.0 1380.0,326.7 1381.5,324.9 1383.0,322.9 1384.5,320.7 1386.0,318.7 1387.5,316.9 1389.0,315.5 1390.0,315.0 1390.5,314.8 1392.0,314.3 1393.5,313.8 1395.0,313.4 1396.5,313.1 1398.0,313.0 1399.5,313.2 1401.0,313.7 1402.5,314.5 1404.0,315.4 1405.5,316.4 1406.5,317.0 1407.0,317.3 1408.5,318.6 1410.0,320.1 1411.5,321.7 1413.0,323.2 1414.5,324.5 1416.0,325.2 1417.0,325.4 1417.5,325.4 1419.0,325.0 1420.5,324.4 1422.0,323.8 1423.5,323.2 1425.0,323.0 1426.5,323.5 1428.0,324.7 1429.5,326.3 1431.0,328.1 1432.5,329.8 1434.0,331.1 1435.5,331.6 1435.6,331.6 1437.0,331.6 1438.5,331.4 1440.0,331.2 1441.5,331.0 1443.0,330.8 1444.5,330.7 1446.0,330.6 1447.5,330.6 1449.0,330.6 1450.5,330.6 1452.0,330.6 1453.5,330.6 1455.0,330.6 1456.5,330.6 1458.0,330.6 1459.5,330.6 1461.0,330.6 1462.5,330.6 1464.0,330.6 1465.5,330.6 1467.0,330.6 1468.5,330.6 1470.0,330.6 1471.5,330.6 1473.0,330.6 1474.5,330.6 1476.0,330.6 1477.0,330.6 1477.5,330.6 1479.0,330.5 1480.5,330.2 1482.0,329.9 1483.5,329.5 1485.0,329.0 1486.5,328.5 1488.0,328.0 1489.5,327.4 1491.0,326.9 1492.5,326.4 1494.0,326.0 1495.5,325.7 1497.0,325.5 1498.0,325.4 1498.5,325.4 1500.0,325.3 1501.5,325.2 1503.0,325.2 1504.5,325.1 1506.0,325.0 1507.5,325.0 1509.0,324.9 1510.5,324.8 1512.0,324.8 1513.5,324.7 1515.0,324.7 1516.5,324.6 1518.0,324.6 1519.5,324.6 1521.0,324.5 1522.5,324.5 1524.0,324.5 1525.5,324.4 1527.0,324.4 1528.5,324.4 1530.0,324.4 1531.5,324.3 1533.0,324.3 1534.5,324.3 1536.0,324.3 1537.5,324.3 1539.0,324.3 1539.6,324.3 1540.5,324.3 1542.0,324.4 1543.5,324.6 1545.0,324.9 1546.5,325.3 1548.0,325.7 1549.5,326.3 1551.0,326.9 1552.0,327.4 1552.5,327.9 1554.0,331.5 1555.5,337.4 1557.0,343.8 1558.5,349.3 1560.0,352.2 1560.4,352.4 1561.5,351.9 1563.0,349.8 1564.5,346.8 1566.0,343.5 1566.7,342.0 1567.5,340.1 1569.0,335.6 1570.5,330.9 1572.0,327.4 1573.0,326.4 1573.5,326.3 1575.0,326.0 1576.5,325.7 1578.0,325.5 1579.5,325.4 1581.0,325.4 1582.5,325.7 1584.0,326.4 1585.5,327.3 1587.0,328.3 1588.5,329.1 1590.0,329.5 1591.5,329.6 1593.0,329.7 1594.5,329.8 1596.0,329.9 1597.5,330.0 1598.0,330.0 1599.0,330.1 1600.5,330.4 1602.0,330.7 1603.5,331.1 1605.0,331.3 1606.5,331.5 1607.7,331.6 1608.0,331.6 1609.5,330.8 1611.0,329.4 1612.5,327.9 1614.0,326.9 1614.7,326.8 1615.5,326.8 1617.0,326.9 1618.5,327.0 1620.0,327.2 1621.5,327.4 1621.6,327.4 1623.0,328.2 1624.5,329.8 1625.8,331.6 1626.0,331.9 1627.5,335.9 1629.0,340.2 1630.0,341.3 1630.5,340.9 1632.0,336.1 1633.5,330.8 1634.0,330.0 1635.0,329.3 1636.5,328.7 1638.0,328.2 1639.5,327.5 1639.6,327.4 1641.0,325.9 1642.5,323.6 1644.0,321.5 1645.0,320.5 1645.5,320.2 1647.0,319.2 1648.5,318.4 1650.0,317.6 1651.5,317.0 1653.0,316.4 1654.5,315.9 1656.0,315.4 1657.5,315.0 1657.7,315.0 1659.0,314.7 1660.5,314.3 1662.0,314.0 1663.5,313.7 1665.0,313.4 1666.5,313.1 1668.0,312.8 1669.5,312.6 1671.0,312.4 1672.5,312.2 1674.0,312.1 1675.5,312.0 1677.0,312.0 1678.5,312.0 1680.0,312.0 1681.5,312.0 1683.0,312.0 1684.0,312.0 1684.5,312.3 1686.0,315.8 1687.5,322.2 1688.0,324.7 1689.0,335.9 1690.5,357.1 1691.0,359.3 1692.0,354.1 1693.5,336.5 1695.0,326.0 1696.5,326.2 1698.0,326.7 1699.3,327.4 1699.5,328.1 1701.0,353.9 1702.0,373.0 1702.5,379.3 1704.0,396.5 1705.5,411.6 1707.0,425.2 1708.5,438.3 1709.0,442.6 1710.0,452.5 1711.5,466.6 1712.5,470.3 1713.0,469.1 1714.5,454.9 1716.0,435.2 1716.6,428.7 1717.5,420.5 1719.0,407.5 1720.5,395.1 1721.5,387.0 1722.0,382.8 1723.5,369.1 1725.0,356.2 1726.5,347.1 1727.0,345.5 1728.0,343.3 1729.5,341.4 1729.8,341.3 1731.0,343.3 1732.5,348.7 1734.0,352.4 1735.5,353.5 1736.7,353.8 1737.0,353.7 1738.5,351.2 1740.0,346.4 1741.5,341.4 1742.0,340.0 1743.0,337.0 1744.5,331.8 1746.0,327.2 1747.5,324.8 1747.8,324.7 1749.0,328.8 1750.5,340.8 1752.0,352.4 1753.5,362.3 1755.0,369.8 1755.5,370.4 1756.5,367.0 1758.0,355.0 1759.0,348.0 1759.5,345.5 1761.0,338.2 1762.5,331.8 1764.0,327.1 1764.5,326.0 1765.5,324.3 1767.0,322.3 1768.5,320.6 1770.0,319.2 1771.4,318.0 1771.5,317.9 1773.0,316.5 1774.5,315.1 1776.0,313.7 1777.5,312.5 1779.0,311.5 1780.5,310.8 1782.0,310.5 1782.2,310.5 1783.5,310.7 1785.0,311.3 1786.5,312.2 1788.0,313.5 1789.5,315.1 1791.0,316.8 1792.5,318.8 1794.0,320.8 1795.5,323.0 1797.0,325.1 1797.5,325.8 1798.5,327.2 1800.0,329.2 1801.5,331.4 1803.0,334.0 1804.5,337.3 1806.0,341.4 1807.5,346.6 1808.0,348.6 1809.0,355.6 1810.5,374.9 1811.2,386.8 1812.0,406.3 1813.5,462.7 1814.2,493.6 1815.0,535.1 1816.5,630.3 1817.3,680.0 1818.0,727.2 1819.5,833.3 1820.6,867.7 1821.0,861.2 1822.5,766.0 1823.5,700.0 1824.0,678.8 1825.0,640.0 1825.5,617.2 1827.0,542.4 1828.0,508.8 1828.5,499.1 1830.0,474.4 1831.5,461.9 1831.8,461.5 1833.0,462.8 1834.5,467.5 1836.0,474.1 1837.5,481.2 1838.6,486.0 1839.0,487.6 1840.5,493.8 1842.0,500.4 1843.5,507.2 1845.0,514.1 1846.5,521.2 1848.0,528.2 1849.5,535.2 1851.0,542.0 1852.5,548.5 1854.0,554.6 1855.5,560.4 1857.0,566.1 1858.5,571.7 1860.0,577.1 1861.5,582.4 1863.0,587.6 1864.5,592.8 1866.0,597.9 1867.5,603.0 1869.0,608.0 1870.5,612.8 1872.0,617.1 1873.5,621.3 1875.0,625.7 1876.5,630.5 1878.0,635.9 1879.0,640.0 1879.5,642.3 1881.0,650.0 1882.5,658.9 1884.0,669.0 1885.5,680.0 1887.0,691.8 1888.0,700.0 1888.5,704.2 1890.0,717.6 1891.5,732.3 1893.0,748.2 1894.5,765.6 1896.0,784.6 1897.5,805.2 1897.8,809.5 1899.0,828.5 1900.5,856.2 1902.0,887.0 1903.5,919.8 1904.8,949.0 1905.0,953.6 1906.5,992.7 1908.0,1033.6 1909.4,1065.6 1909.5,1067.5 1911.0,1095.5 1912.5,1119.6 1914.0,1135.5 1915.5,1144.0 1917.0,1150.1 1918.3,1155.0 1918.5,1155.8 1920.0,1162.7 1921.5,1167.6 1922.0,1168.0 1923.0,1167.7 1924.5,1166.3 1926.0,1164.4 1927.5,1162.5 1928.0,1162.0 1929.0,1160.9 1930.5,1159.0 1932.0,1157.2 1933.5,1155.9 1934.7,1155.5 1935.0,1155.5 1936.5,1156.6 1938.0,1159.1 1939.5,1162.7 1941.0,1167.2 1942.5,1172.5 1943.8,1177.4 1944.0,1178.2 1945.5,1187.7 1947.0,1200.9 1948.5,1215.5 1949.3,1223.0 1950.0,1229.5 1951.5,1244.5 1953.0,1260.0 1954.5,1274.9 1954.8,1277.7 1956.0,1291.0 1957.5,1301.4 1959.0,1292.0 1960.2,1277.7 1960.5,1273.9 1962.0,1249.3 1963.5,1216.9 1964.0,1204.7 1965.0,1177.8 1965.7,1150.0 1966.5,1069.7 1967.6,949.0 1968.0,930.4 1969.5,878.5 1971.0,842.8 1972.0,820.0 1972.5,808.0 1974.0,774.3 1975.5,743.9 1977.0,716.4 1978.5,692.4 1980.0,670.7 1981.0,656.0 1981.5,648.6 1983.0,627.5 1984.5,605.7 1986.0,580.0 1987.5,544.4 1989.0,503.6 1990.0,480.0 1990.5,469.8 1992.0,439.9 1993.5,412.6 1995.0,389.7 1996.0,377.8 1996.5,372.7 1998.0,358.4 1999.5,347.0 2001.0,340.0 2002.5,336.0 2004.0,332.7 2005.5,330.3 2007.0,329.1 2007.5,329.0 2008.5,330.9 2010.0,339.4 2011.5,351.1 2013.0,362.5 2014.5,369.8 2015.2,370.8 2016.0,370.0 2017.5,365.3 2019.0,359.0 2020.5,353.9 2021.5,352.7 2022.0,353.1 2023.5,358.9 2025.0,369.9 2026.5,384.2 2028.0,399.9 2029.5,415.2 2030.0,419.8 2031.0,429.7 2032.5,446.4 2034.0,462.8 2035.5,475.7 2037.0,486.2 2038.5,495.7 2040.0,502.2 2041.0,503.6 2041.5,503.2 2043.0,498.1 2044.5,489.7 2046.0,481.2 2047.5,476.1 2048.0,475.7 2049.0,476.9 2050.5,482.1 2052.0,489.6 2053.5,500.4 2055.0,516.6 2056.5,537.8 2057.8,559.5 2058.0,563.3 2059.5,602.6 2060.6,640.0 2061.0,655.4 2062.5,728.2 2064.0,814.4 2065.5,900.0 2066.5,950.0 2067.0,972.8 2068.5,1040.8 2070.0,1105.2 2071.5,1162.0 2072.8,1202.0 2073.0,1207.4 2074.5,1248.7 2076.0,1288.3 2077.5,1321.6 2079.0,1343.9 2080.3,1350.8 2080.5,1350.4 2082.0,1326.2 2083.5,1276.2 2085.0,1217.2 2085.4,1202.0 2086.5,1154.1 2088.0,1074.0 2089.5,992.5 2090.4,950.0 2091.0,924.4 2092.5,863.2 2094.0,811.4 2094.4,800.0 2095.5,771.5 2097.0,736.1 2098.5,704.3 2100.0,675.4 2101.5,649.0 2103.0,624.5 2104.5,601.5 2104.8,597.0 2106.0,579.0 2107.5,556.8 2109.0,536.6 2110.5,520.0 2112.0,508.5 2113.5,501.4 2115.0,496.2 2116.5,491.6 2118.0,486.4 2119.5,479.2 2121.0,470.9 2122.5,464.1 2124.0,461.3 2125.5,482.8 2126.0,493.8 2127.0,521.2 2128.4,567.5 2128.5,570.5 2130.0,611.1 2131.3,656.0 2131.5,667.0 2133.0,799.3 2133.5,816.6 2134.5,771.0 2135.7,685.6 2136.0,672.6 2137.5,616.0 2138.7,582.3 2139.0,575.4 2140.5,544.2 2142.0,519.9 2143.0,508.5 2143.5,503.9 2145.0,490.7 2146.5,479.8 2148.0,473.0 2149.0,471.6 2149.5,471.6 2151.0,471.6 2152.5,471.6 2153.4,471.6 2154.0,470.5 2155.5,459.3 2157.0,437.4 2157.9,420.0 2158.5,391.6 2159.3,351.4 2160.0,339.6 2161.5,322.0 2162.8,316.4 2163.0,316.3 2164.5,315.7 2166.0,315.4 2167.5,315.3 2169.0,315.6 2170.5,316.4 2172.0,317.3 2173.5,318.2 2175.0,318.7 2175.6,318.8 2176.5,318.6 2178.0,317.3 2179.5,315.3 2181.0,313.1 2182.5,311.1 2184.0,309.8 2185.0,309.5 2185.5,309.5 2187.0,309.6 2188.5,309.8 2190.0,310.0 2191.5,310.4 2193.0,310.7 2194.5,311.2 2196.0,311.6 2196.6,311.8 2197.5,312.2 2199.0,313.1 2200.5,314.3 2202.0,315.7 2203.5,317.0 2205.0,318.3 2206.5,319.3 2208.0,320.0 2208.2,320.0 2209.5,320.2 2211.0,320.4 2212.5,320.5 2214.0,320.7 2215.2,321.0 2215.5,321.2 2217.0,325.5 2218.5,331.3 2219.9,334.0 2220.0,334.0 2221.5,332.3 2223.0,328.9 2223.4,328.0 2224.5,324.6 2226.0,318.3 2227.5,312.2 2228.0,310.6 2229.0,307.5 2230.5,303.5 2231.5,302.5 2232.0,302.7 2233.5,305.4 2235.0,310.7 2236.2,316.4 2236.5,318.5 2238.0,343.0 2239.5,379.6 2240.8,409.6 2241.0,413.5 2242.5,442.1 2244.0,470.3 2245.5,500.0 2247.0,533.5 2248.5,568.6 2250.0,600.0 2251.5,626.6 2253.0,650.8 2254.5,673.2 2255.7,690.0 2256.0,694.2 2257.5,717.4 2259.0,741.0 2260.5,760.8 2262.0,772.5 2262.7,774.0 2263.5,772.2 2265.0,760.7 2266.5,741.3 2268.0,717.7 2269.5,693.1 2269.7,690.0 2271.0,666.7 2272.5,634.4 2274.0,600.0 2275.5,563.0 2277.0,524.2 2278.0,500.0 2278.5,488.6 2280.0,454.9 2281.5,422.8 2283.0,392.9 2284.0,374.7 2284.5,366.1 2286.0,341.9 2287.5,319.9 2288.6,304.8 2289.0,298.9 2290.5,277.9 2291.0,275.7 2292.0,277.9 2293.5,286.6 2294.4,293.0 2295.0,297.9 2296.5,314.0 2296.7,316.4 2298.0,334.0"/>
<g stroke="#000" stroke-width="6" stroke-linecap="butt">
<line x1="296" y1="162" x2="296" y2="1818"/>
<line x1="264" y1="1786" x2="2302" y2="1786"/>
<line x1="264" y1="1786.0" x2="296" y2="1786.0"/>
<line x1="264" y1="1491.4" x2="296" y2="1491.4"/>
<line x1="264" y1="1196.8" x2="296" y2="1196.8"/>
<line x1="264" y1="902.2" x2="296" y2="902.2"/>
<line x1="264" y1="607.6" x2="296" y2="607.6"/>
<line x1="264" y1="313.0" x2="296" y2="313.0"/>
<line x1="280" y1="1638.7" x2="296" y2="1638.7"/>
<line x1="280" y1="1344.1" x2="296" y2="1344.1"/>
<line x1="280" y1="1049.5" x2="296" y2="1049.5"/>
<line x1="280" y1="754.9" x2="296" y2="754.9"/>
<line x1="280" y1="460.3" x2="296" y2="460.3"/>
<line x1="280" y1="165.7" x2="296" y2="165.7"/>
<line x1="852.6" y1="1786" x2="852.6" y2="1818"/>
<line x1="1409.2" y1="1786" x2="1409.2" y2="1818"/>
<line x1="1965.8" y1="1786" x2="1965.8" y2="1818"/>
<line x1="574.3" y1="1786" x2="574.3" y2="1801"/>
<line x1="1130.9" y1="1786" x2="1130.9" y2="1801"/>
<line x1="1687.5" y1="1786" x2="1687.5" y2="1801"/>
<line x1="2244.1" y1="1786" x2="2244.1" y2="1801"/>
</g>
<text class="t" transform="translate(0,1813.0)" x="140.3 175.9 206.7" y="0" font-size="72">0.0</text>
<text class="t" transform="translate(0,1518.4)" x="140.3 176.2 208.0" y="0" font-size="72">0.2</text>
<text class="t" transform="translate(0,1223.8)" x="140.3 175.3 205.1" y="0" font-size="72">0.4</text>
<text class="t" transform="translate(0,929.2)" x="140.3 175.8 206.1" y="0" font-size="72">0.6</text>
<text class="t" transform="translate(0,634.6)" x="140.3 175.9 206.7" y="0" font-size="72">0.8</text>
<text class="t" transform="translate(0,340.0)" x="136.7 174.3 206.7" y="0" font-size="72">1.0</text>
<text class="t" transform="translate(0,1900.0)" x="228.6 261.7 294.8 327.8" y="0" font-size="74">4000</text>
<text class="t" transform="translate(0,1900.0)" x="783.1 817.1 850.7 884.4" y="0" font-size="74">3000</text>
<text class="t" transform="translate(0,1900.0)" x="1339.9 1373.4 1407.2 1441.0" y="0" font-size="74">2000</text>
<text class="t" transform="translate(0,1900.0)" x="1893.3 1928.8 1963.2 1997.6" y="0" font-size="74">1000</text>
<text class="t" transform="translate(101.5,1437.7) rotate(-90) scale(0.8,1)" x="-1.7 67.5 118.5 173.2 235.2 273.8 353.9 410.5 467.2 515.3 570.0 629.3 686.2 747.7 781.6 862.1" y="0" dy="0.0 0.0 0.0 0.0 0.0 0.0 0.0 0.0 0.0 0.0 0.0 0.0 0.0 -10.0 10.0 -10.0" font-size="93">Transmittance(%)</text>
<text class="t" transform="translate(0,2020.0) scale(0.8,1)" x="1193.2 1265.6 1315.2 1368.6 1417.1 1468.8 1507.2 1572.6 1624.4 1680.1 1729.1 1786.2 1829.9 1868.3" y="0" dy="0.0 0.0 0.0 0.0 0.0 0.0 0.0 0.0 0.0 0.0 0.0 -6.0 6.0 0.0" font-size="89">Wavenumbers(cm</text>
<text class="t" transform="translate(0,1986.0)" x="1546.3 1567.0" y="0" font-size="52">-1</text>
<text class="t" transform="translate(0,2020.0) scale(0.8,1)" x="1993.6" y="0" dy="-6.0" font-size="89">)</text>
<rect x="396" y="1114" width="738" height="570" fill="#ffffff" stroke="#7f7f7f" stroke-width="2.5"/>
<line x1="408" y1="1168.5" x2="576.5" y2="1168.5" stroke="#8c8c8c" stroke-width="2.6"/>
<text class="t" transform="translate(0,1196.8) scale(0.8,1)" x="771.1 825.4 878.5 917.5 1006.0 1021.3 1081.5 1141.5 1188.9" y="0" font-size="85">100% MVSR</text>
<line x1="408" y1="1261.2" x2="576.5" y2="1261.2" stroke="#5c5cff" stroke-width="2.6"/>
<text class="t" transform="translate(0,1289.5) scale(0.8,1)" x="769.7 821.6 872.3 929.0 994.3 1035.3 1084.7 1141.5 1194.4 1249.1 1312.9 1355.4" y="0" font-size="85">SEBS:SBS=1:1</text>
<line x1="408" y1="1353.9" x2="576.5" y2="1353.9" stroke="#33ee33" stroke-width="2.6"/>
<text class="t" transform="translate(0,1382.2) scale(0.8,1)" x="769.7 826.9 866.5 932.6 994.2 1040.1 1112.2 1143.3" y="0" font-size="85">Sample 5</text>
<line x1="408" y1="1446.6" x2="576.5" y2="1446.6" stroke="#8a8a1a" stroke-width="2.6"/>
<text class="t" transform="translate(0,1474.9) scale(0.8,1)" x="769.7 826.9 866.5 932.6 994.2 1040.1 1112.2 1143.5" y="0" font-size="85">Sample 6</text>
<line x1="408" y1="1539.3" x2="576.5" y2="1539.3" stroke="#ff99ff" stroke-width="2.6"/>
<text class="t" transform="translate(0,1567.6) scale(0.8,1)" x="769.7 826.9 866.5 932.6 994.2 1040.1 1112.2 1142.5" y="0" font-size="85">Sample 7</text>
<line x1="408" y1="1632.0" x2="576.5" y2="1632.0" stroke="#ff7070" stroke-width="2.6"/>
<text class="t" transform="translate(0,1660.3) scale(0.8,1)" x="769.7 826.9 866.5 932.6 994.2 1040.1 1112.2 1144.1" y="0" font-size="85">Sample 8</text>
</g>
<g id="plotB">
<text class="lbl" font-size="110"><tspan x="116.2" y="2366.1" textLength="30.7" lengthAdjust="spacingAndGlyphs">(</tspan><tspan x="159.6" y="2379" textLength="64.0" lengthAdjust="spacingAndGlyphs">B</tspan><tspan x="232.9" y="2366.1" textLength="29.5" lengthAdjust="spacingAndGlyphs">)</tspan></text>
<polyline fill="none" stroke="#404040" stroke-width="7" stroke-linejoin="round" stroke-linecap="round" points="352.5,2622.9 364.3,2622.9 401.9,2623.6 439.6,2624.8 477.2,2626.9 514.9,2630.3 552.5,2634.5 590.2,2640.0 627.8,2646.9 665.5,2654.4 703.1,2663.8 740.8,2677.1 778.4,2696.4 816.1,2724.3 853.7,2764.6 891.4,2828.4 929.0,2927.8 966.7,3080.0 1004.3,3245.1 1042.0,3437.9 1079.6,3613.4 1117.3,3699.8 1154.9,3688.5 1192.6,3583.8 1230.2,3416.0 1267.9,3237.9 1305.5,3111.7 1343.2,3023.4 1380.8,2972.1 1418.5,2945.0 1456.1,2931.8 1493.8,2925.0 1531.4,2924.4 1569.1,2927.8 1606.7,2932.7 1644.4,2937.7 1682.0,2944.4 1719.7,2952.3 1757.3,2960.5 1795.0,2968.6 1832.6,2977.1 1870.3,2985.3 1907.9,2992.6 1945.6,2999.1 1983.2,3005.2 2020.9,3011.1 2058.5,3017.1 2096.2,3022.8 2133.8,3028.2 2171.5,3033.2 2209.1,3037.7 2236.4,3040.7"/>
<polyline fill="none" stroke="#0000ff" stroke-width="7" stroke-linejoin="round" stroke-linecap="round" points="352.5,2700.7 364.3,2700.4 401.9,2699.4 439.6,2697.9 477.2,2695.9 514.9,2694.0 552.5,2692.3 590.2,2691.5 627.8,2692.1 665.5,2693.7 703.1,2696.8 740.8,2699.8 778.4,2705.8 816.1,2714.6 853.7,2728.4 891.4,2748.9 929.0,2786.4 966.7,2843.5 1004.3,2896.8 1042.0,2935.8 1079.6,2943.7 1117.3,2917.3 1154.9,2864.8 1192.6,2819.5 1230.2,2770.6 1267.9,2741.7 1305.5,2725.6 1343.2,2717.1 1380.8,2712.5 1418.5,2709.8 1456.1,2709.3 1493.8,2709.0 1531.4,2708.7 1569.1,2708.3 1606.7,2707.8 1644.4,2707.4 1682.0,2707.0 1719.7,2706.7 1757.3,2706.5 1795.0,2707.0 1832.6,2708.9 1870.3,2711.4 1907.9,2713.9 1945.6,2717.1 1983.2,2719.4 2020.9,2720.4 2058.5,2721.2 2096.2,2722.0 2133.8,2723.0 2171.5,2724.8 2209.1,2728.0 2236.4,2731.0"/>
<polyline fill="none" stroke="#00ff00" stroke-width="7" stroke-linejoin="round" stroke-linecap="round" points="352.5,2657.0 364.3,2659.7 401.9,2667.0 439.6,2670.6 477.2,2672.5 514.9,2673.9 552.5,2675.1 590.2,2676.5 627.8,2680.1 665.5,2683.6 703.1,2688.0 740.8,2700.2 778.4,2720.2 816.1,2745.5 853.7,2782.6 891.4,2845.4 929.0,2910.2 966.7,3017.6 1004.3,3148.0 1042.0,3255.5 1079.6,3331.9 1117.3,3336.2 1154.9,3275.4 1192.6,3171.9 1230.2,3049.5 1267.9,2945.7 1305.5,2886.6 1343.2,2843.1 1380.8,2819.1 1418.5,2807.6 1456.1,2802.7 1493.8,2801.5 1531.4,2803.0 1569.1,2806.0 1606.7,2808.8 1644.4,2811.8 1682.0,2816.4 1719.7,2822.0 1757.3,2827.8 1795.0,2833.3 1832.6,2839.0 1870.3,2844.7 1907.9,2850.4 1945.6,2856.2 1983.2,2862.0 2020.9,2867.3 2058.5,2872.0 2096.2,2876.3 2133.8,2880.5 2171.5,2884.7 2209.1,2888.8 2236.4,2891.8"/>
<polyline fill="none" stroke="#808000" stroke-width="7" stroke-linejoin="round" stroke-linecap="round" points="352.5,2652.8 364.3,2655.1 401.9,2661.5 439.6,2665.4 477.2,2667.8 514.9,2670.0 552.5,2671.9 590.2,2674.0 627.8,2676.9 665.5,2680.6 703.1,2686.4 740.8,2699.3 778.4,2719.2 816.1,2744.5 853.7,2781.6 891.4,2845.0 929.0,2912.1 966.7,3021.0 1004.3,3172.4 1042.0,3277.2 1079.6,3362.1 1117.3,3373.6 1154.9,3319.9 1192.6,3205.8 1230.2,3081.4 1267.9,2964.8 1305.5,2903.8 1343.2,2863.8 1380.8,2840.0 1418.5,2828.5 1456.1,2823.1 1493.8,2822.2 1531.4,2824.5 1569.1,2827.5 1606.7,2831.4 1644.4,2836.1 1682.0,2841.2 1719.7,2846.9 1757.3,2853.0 1795.0,2859.8 1832.6,2867.5 1870.3,2875.3 1907.9,2882.7 1945.6,2890.1 1983.2,2897.2 2020.9,2903.2 2058.5,2908.2 2096.2,2912.7 2133.8,2916.6 2171.5,2920.3 2209.1,2923.5 2236.4,2925.6"/>
<polyline fill="none" stroke="#ff80ff" stroke-width="7" stroke-linejoin="round" stroke-linecap="round" points="353.3,2643.0 365.0,2645.1 402.6,2651.1 440.0,2655.4 477.6,2658.6 515.2,2661.5 552.9,2664.3 590.5,2667.0 628.2,2669.7 666.1,2673.6 704.3,2680.7 742.6,2694.2 780.8,2714.8 819.0,2740.2 857.4,2778.2 895.4,2841.9 933.2,2917.3 971.0,3036.6 1008.7,3187.8 1046.3,3322.7 1083.5,3415.9 1116.4,3442.4 1150.9,3401.7 1188.3,3291.1 1225.9,3150.9 1263.7,3032.3 1301.6,2947.4 1340.0,2896.8 1378.6,2867.7 1417.2,2852.3 1455.6,2843.9 1493.8,2842.0 1531.8,2843.5 1569.6,2848.0 1607.2,2851.5 1645.0,2854.9 1682.9,2861.2 1720.7,2869.5 1758.3,2877.9 1795.8,2885.1 1833.5,2892.1 1871.1,2898.9 1908.7,2905.7 1946.2,2912.9 1983.7,2919.9 2021.2,2926.5 2058.7,2932.6 2096.3,2938.3 2133.8,2943.8 2171.4,2949.2 2209.0,2954.4 2236.2,2958.1"/>
<polyline fill="none" stroke="#ff0000" stroke-width="7" stroke-linejoin="round" stroke-linecap="round" points="352.5,2647.4 364.3,2649.5 401.9,2655.5 439.6,2659.9 477.2,2663.0 514.9,2666.0 552.5,2668.8 590.2,2671.5 627.8,2674.2 665.5,2678.1 703.1,2685.1 740.8,2698.3 778.4,2718.6 816.1,2743.6 853.7,2780.9 891.4,2844.1 929.0,2918.9 966.7,3037.8 1004.3,3189.0 1042.0,3324.1 1079.6,3418.2 1117.3,3446.8 1154.9,3403.7 1192.6,3292.4 1230.2,3152.1 1267.9,3033.9 1305.5,2949.6 1343.2,2899.9 1380.8,2871.6 1418.5,2856.6 1456.1,2848.3 1493.8,2846.5 1531.4,2848.0 1569.1,2852.5 1606.7,2856.0 1644.4,2859.3 1682.0,2865.6 1719.7,2873.9 1757.3,2882.3 1795.0,2889.5 1832.6,2896.5 1870.3,2903.4 1907.9,2910.0 1945.6,2916.5 1983.2,2922.8 2020.9,2928.6 2058.5,2934.0 2096.2,2939.0 2133.8,2943.8 2171.5,2948.5 2209.1,2953.0 2236.4,2956.1"/>
<g stroke="#000" stroke-width="5.5" stroke-linecap="butt">
<line x1="352.4" y1="2407" x2="352.4" y2="3966"/>
<line x1="320" y1="3937" x2="2240" y2="3937"/>
<line x1="320" y1="2628" x2="352.4" y2="2628"/>
<line x1="320" y1="3718.8" x2="352.4" y2="3718.8"/>
<line x1="337" y1="3173.4" x2="352.4" y2="3173.4"/>
<line x1="729.3" y1="3937" x2="729.3" y2="3966"/>
<line x1="1106.2" y1="3937" x2="1106.2" y2="3966"/>
<line x1="1483.2" y1="3937" x2="1483.2" y2="3966"/>
<line x1="1860.1" y1="3937" x2="1860.1" y2="3966"/>
<line x1="2237.0" y1="3937" x2="2237.0" y2="3966"/>
<line x1="540.9" y1="3937" x2="540.9" y2="3951"/>
<line x1="917.8" y1="3937" x2="917.8" y2="3951"/>
<line x1="1294.7" y1="3937" x2="1294.7" y2="3951"/>
<line x1="1671.6" y1="3937" x2="1671.6" y2="3951"/>
<line x1="2048.5" y1="3937" x2="2048.5" y2="3951"/>
</g>
<text class="t" transform="translate(0,2653.0)" x="204.4 238.3 266.0" y="0" font-size="69">1.0</text>
<text class="t" transform="translate(0,3744.8)" x="203.8 237.6 266.1" y="0" font-size="69">0.5</text>
<text class="t" transform="translate(0,4044.0)" x="286.1 317.8 349.1 380.1" y="0" font-size="72">1300</text>
<text class="t" transform="translate(0,4044.0)" x="663.0 695.4 726.0 757.1" y="0" font-size="72">1280</text>
<text class="t" transform="translate(0,4044.0)" x="1039.9 1072.3 1102.5 1134.0" y="0" font-size="72">1260</text>
<text class="t" transform="translate(0,4044.0)" x="1416.8 1449.3 1479.7 1510.9" y="0" font-size="72">1240</text>
<text class="t" transform="translate(0,4044.0)" x="1793.8 1826.2 1857.2 1887.8" y="0" font-size="72">1220</text>
<text class="t" transform="translate(0,4044.0)" x="2170.7 2203.1 2233.7 2264.7" y="0" font-size="72">1200</text>
<text class="t" transform="translate(168.3,3600.4) rotate(-90) scale(0.8,1)" x="-1.6 62.9 110.5 161.5 219.3 255.2 329.9 382.6 435.5 480.3 531.3 586.6 639.6 696.9 728.5 803.6" y="0" dy="0.0 0.0 0.0 0.0 0.0 0.0 0.0 0.0 0.0 0.0 0.0 0.0 0.0 -9.0 9.0 -9.0" font-size="87">Transmittance(%)</text>
<text class="t" transform="translate(0,4156.6) scale(0.8,1)" x="1215.9 1284.2 1331.2 1381.8 1427.7 1476.6 1513.2 1574.9 1623.9 1676.7 1723.1 1773.8 1811.3 1848.7" y="0" dy="0.0 0.0 0.0 0.0 0.0 0.0 0.0 0.0 0.0 0.0 0.0 -6.0 6.0 0.0" font-size="83">Wavenumbers(cm</text>
<text class="t" transform="translate(0,4128.0)" x="1527.5 1545.8" y="0" font-size="50">-1</text>
<text class="t" transform="translate(0,4156.6) scale(0.8,1)" x="1971.4" y="0" dy="-6.0" font-size="83">)</text>
<rect x="1463" y="3310" width="694.4" height="538.4" fill="#ffffff" stroke="#7f7f7f" stroke-width="2.5"/>
<line x1="1473.4" y1="3361.3" x2="1635" y2="3361.3" stroke="#404040" stroke-width="5"/>
<text class="t" transform="translate(0,3389.0) scale(0.8,1)" x="2091.0 2142.0 2192.0 2228.6 2311.9 2326.3 2382.9 2439.3 2483.9" y="0" font-size="80">100% MVSR</text>
<line x1="1473.4" y1="3448.8" x2="1635" y2="3448.8" stroke="#0000ff" stroke-width="5"/>
<text class="t" transform="translate(0,3476.5) scale(0.8,1)" x="2089.6 2138.4 2186.1 2239.5 2300.9 2339.4 2385.9 2439.3 2489.1 2540.5 2600.6 2640.4" y="0" font-size="80">SEBS:SBS=1:1</text>
<line x1="1473.4" y1="3536.2" x2="1635" y2="3536.2" stroke="#00ff00" stroke-width="5"/>
<text class="t" transform="translate(0,3563.9) scale(0.8,1)" x="2089.6 2143.4 2180.7 2242.9 2300.8 2343.9 2411.8 2441.0" y="0" font-size="80">Sample 5</text>
<line x1="1473.4" y1="3623.7" x2="1635" y2="3623.7" stroke="#808000" stroke-width="5"/>
<text class="t" transform="translate(0,3651.4) scale(0.8,1)" x="2089.6 2143.4 2180.7 2242.9 2300.8 2343.9 2411.8 2441.2" y="0" font-size="80">Sample 6</text>
<line x1="1473.4" y1="3711.1" x2="1635" y2="3711.1" stroke="#ff80ff" stroke-width="5"/>
<text class="t" transform="translate(0,3738.8) scale(0.8,1)" x="2089.6 2143.4 2180.7 2242.9 2300.8 2343.9 2411.8 2440.3" y="0" font-size="80">Sample 7</text>
<line x1="1473.4" y1="3798.6" x2="1635" y2="3798.6" stroke="#ff0000" stroke-width="5"/>
<text class="t" transform="translate(0,3826.3) scale(0.8,1)" x="2089.6 2143.4 2180.7 2242.9 2300.8 2343.9 2411.8 2441.7" y="0" font-size="80">Sample 8</text>
</g>
</svg></body></html>
